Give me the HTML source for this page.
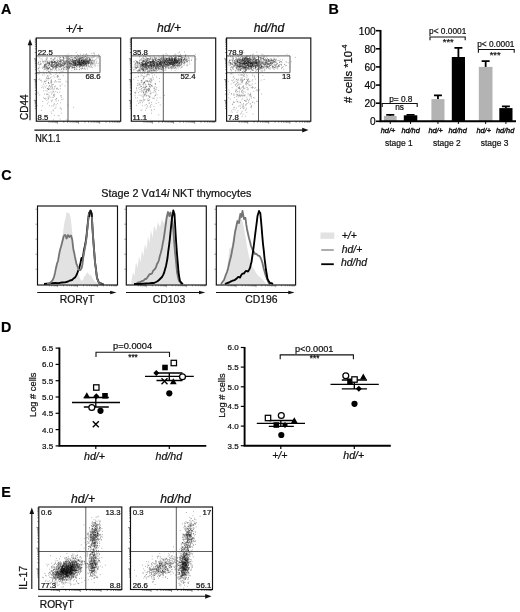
<!DOCTYPE html>
<html><head><meta charset="utf-8"><title>Figure</title>
<style>
html,body{margin:0;padding:0;background:#fff;}
body{width:520px;height:612px;overflow:hidden;font-family:'Liberation Sans', sans-serif;}
text{stroke:#111;stroke-width:0.22px;}
svg{display:block;font-family:'Liberation Sans',sans-serif;filter:grayscale(1);}
</style></head><body>
<svg width="520" height="612" viewBox="0 0 520 612">
<defs><filter id="bl" x="-5%" y="-5%" width="110%" height="110%"><feGaussianBlur stdDeviation="0.45"/></filter></defs>
<rect width="520" height="612" fill="#fff"/>
<text x="1.1" y="14" font-size="14.3" font-weight="bold" fill="#000">A</text><text x="328.4" y="13.9" font-size="14.3" font-weight="bold" fill="#000">B</text><text x="1.2" y="179.9" font-size="14.3" font-weight="bold" fill="#000">C</text><text x="1.1" y="331.8" font-size="14.3" font-weight="bold" fill="#000">D</text><text x="1.25" y="496.5" font-size="14.3" font-weight="bold" fill="#000">E</text><path d="M77.9 64.0h.8M77.8 61.6h.8M73.0 62.5h.8M87.4 62.6h.8M86.8 62.1h.8M82.3 62.5h.8M68.2 66.2h.8M83.2 63.3h.8M67.1 58.7h.8M73.2 61.7h.8M81.6 61.9h.8M82.9 60.0h.8M81.8 63.2h.8M75.5 67.8h.8M83.8 65.3h.8M74.9 60.7h.8M77.1 62.3h.8M84.0 62.5h.8M76.1 59.9h.8M76.3 66.3h.8M74.0 63.7h.8M81.9 57.6h.8M80.3 66.0h.8M65.4 63.1h.8M78.5 60.0h.8M82.9 61.7h.8M69.6 65.9h.8M84.5 64.5h.8M89.6 62.1h.8M79.9 58.5h.8M83.6 60.0h.8M75.9 59.0h.8M72.6 61.6h.8M87.7 55.4h.8M69.5 64.2h.8M89.7 62.7h.8M65.4 56.7h.8M81.7 59.9h.8M72.1 66.1h.8M87.2 61.8h.8M81.4 63.3h.8M90.8 62.7h.8M83.3 63.4h.8M69.1 67.3h.8M86.3 63.0h.8M65.6 62.2h.8M84.7 56.4h.8M78.6 65.4h.8M71.0 68.1h.8M83.3 61.4h.8M82.0 63.9h.8M80.7 65.5h.8M74.8 61.7h.8M86.7 61.5h.8M73.7 65.8h.8M89.5 59.8h.8M69.9 63.1h.8M78.4 61.6h.8M88.9 58.1h.8M87.8 57.6h.8M74.3 64.8h.8M87.6 63.8h.8M81.9 62.4h.8M80.8 63.8h.8M78.4 63.2h.8M83.5 61.8h.8M85.0 63.3h.8M93.6 61.5h.8M76.4 61.6h.8M79.7 65.0h.8M77.3 63.7h.8M91.4 53.4h.8M71.8 64.0h.8M82.4 62.6h.8M76.7 64.6h.8M81.3 60.6h.8M96.5 61.2h.8M75.6 62.5h.8M77.9 62.3h.8M60.4 63.2h.8M86.1 58.1h.8M79.4 65.1h.8M86.0 65.9h.8M67.6 62.7h.8M77.4 64.4h.8M86.1 53.6h.8M86.6 57.2h.8M83.7 57.4h.8M81.1 65.6h.8M78.5 63.0h.8M85.1 62.0h.8M79.4 66.8h.8M86.7 60.6h.8M98.2 56.7h.8M85.8 60.8h.8M80.7 64.2h.8M81.3 63.9h.8M68.4 59.3h.8M83.4 59.0h.8M71.8 58.9h.8M88.6 63.4h.8M89.4 58.3h.8M79.1 59.0h.8M85.4 66.2h.8M73.9 67.6h.8M86.3 60.9h.8M66.3 68.0h.8M78.6 60.6h.8M82.4 63.1h.8M89.5 58.1h.8M87.9 65.6h.8M89.5 60.5h.8M74.7 65.9h.8M80.3 62.6h.8M89.3 60.3h.8M63.4 63.1h.8M66.9 66.2h.8M81.5 60.3h.8M79.7 64.7h.8M80.5 66.1h.8M79.4 65.3h.8M90.4 65.7h.8M75.1 65.4h.8M66.1 60.8h.8M66.2 67.1h.8M70.9 63.3h.8M78.2 62.4h.8M75.5 63.5h.8M92.0 60.9h.8M83.5 64.7h.8M77.7 58.8h.8M76.0 65.9h.8M67.9 62.0h.8M86.8 63.7h.8M79.8 64.6h.8M80.2 58.8h.8M68.4 61.8h.8M85.7 59.9h.8M73.0 60.9h.8M68.8 63.3h.8M71.4 64.4h.8M63.2 65.3h.8M74.4 57.3h.8M84.4 60.9h.8M63.7 61.7h.8M81.4 60.7h.8M85.2 63.8h.8M84.2 62.7h.8M89.0 63.1h.8M81.9 55.9h.8M86.2 65.3h.8M77.3 61.2h.8M92.4 55.6h.8M83.6 68.9h.8M73.3 65.1h.8M92.6 60.3h.8M83.7 64.4h.8M73.2 62.8h.8M81.8 64.4h.8M79.2 61.8h.8M72.3 62.1h.8M85.7 61.8h.8M73.3 60.6h.8M98.4 63.3h.8M83.0 54.3h.8M84.0 63.2h.8M91.4 62.1h.8M79.2 63.9h.8M66.4 66.9h.8M81.5 60.0h.8M89.3 66.4h.8M69.5 61.6h.8M81.6 62.6h.8M76.4 59.8h.8M94.6 63.5h.8M70.7 59.4h.8M91.7 63.7h.8M92.4 63.1h.8M73.5 63.8h.8M64.2 62.0h.8M79.3 63.9h.8M74.4 62.6h.8M82.8 63.0h.8M84.0 62.4h.8M77.5 64.8h.8M79.6 59.9h.8M75.2 62.8h.8M78.8 62.8h.8M79.6 62.8h.8M78.1 58.8h.8M82.8 65.0h.8M82.5 61.4h.8M82.3 59.1h.8M66.3 64.1h.8M73.3 65.2h.8M71.0 55.7h.8M72.8 67.7h.8M76.4 58.7h.8M74.4 64.5h.8M83.0 62.4h.8M90.1 63.1h.8M79.6 64.0h.8M91.3 63.7h.8M86.2 58.3h.8M78.7 64.5h.8M77.8 65.6h.8M84.0 64.4h.8M78.9 69.8h.8M88.0 60.6h.8M81.0 69.7h.8M77.4 65.1h.8M86.3 61.5h.8M71.5 63.8h.8M82.4 65.2h.8M84.9 61.7h.8M85.6 63.1h.8M81.0 62.3h.8M78.1 64.5h.8M72.0 61.4h.8M79.0 58.1h.8M75.8 56.9h.8M75.0 64.5h.8M83.4 61.7h.8M77.4 58.4h.8M92.4 62.2h.8M86.8 58.8h.8M77.6 57.2h.8M85.3 64.3h.8M66.3 63.8h.8M83.3 56.7h.8M66.4 60.8h.8M74.6 58.8h.8M79.8 63.0h.8M84.2 63.8h.8M90.4 64.4h.8M70.2 62.0h.8M71.8 60.1h.8M78.9 62.4h.8M82.3 57.3h.8M70.9 63.3h.8M78.0 61.6h.8M78.8 60.2h.8M84.5 62.7h.8M78.7 60.4h.8M77.3 54.6h.8M72.7 63.2h.8M69.1 64.2h.8M80.0 58.2h.8M77.6 61.6h.8M82.9 63.7h.8M78.9 59.9h.8M78.5 62.2h.8M84.7 62.5h.8M74.0 59.0h.8M76.6 60.5h.8M71.7 62.9h.8M76.1 63.0h.8M83.0 60.7h.8M95.5 59.4h.8M87.2 61.7h.8M86.4 54.5h.8M74.4 63.7h.8M84.5 68.5h.8M82.2 65.7h.8M85.2 64.4h.8M83.0 61.4h.8M82.7 58.8h.8M87.3 58.4h.8M82.0 68.2h.8M78.0 62.5h.8M87.6 61.4h.8M74.0 63.7h.8M83.8 63.8h.8M74.8 68.0h.8M91.1 60.9h.8M81.2 60.8h.8M89.1 59.1h.8M84.0 60.3h.8M74.9 65.0h.8M88.8 61.1h.8M75.1 65.2h.8M79.3 63.2h.8M90.5 64.3h.8M76.7 69.3h.8M79.8 64.6h.8M75.0 62.7h.8M68.0 68.9h.8M88.6 57.6h.8M68.5 58.9h.8M87.5 60.0h.8M79.0 61.5h.8M78.3 59.3h.8M79.2 58.1h.8M79.1 63.2h.8M82.7 61.2h.8M73.3 63.5h.8M76.7 67.2h.8M84.8 61.3h.8M76.0 60.7h.8M72.9 62.1h.8M81.7 63.5h.8M84.2 67.9h.8M74.6 62.9h.8M98.3 54.5h.8M75.9 63.2h.8M80.7 63.3h.8M78.0 63.6h.8M80.1 64.5h.8M66.0 61.4h.8M79.1 59.3h.8M72.5 65.0h.8M75.2 64.7h.8M84.8 62.5h.8M83.0 61.6h.8M69.7 63.4h.8M82.5 60.4h.8M79.1 64.5h.8M73.6 64.9h.8M92.2 59.1h.8M80.5 61.7h.8M90.3 61.9h.8M85.5 59.5h.8M79.4 62.3h.8M67.7 68.0h.8M85.1 56.5h.8M84.6 61.3h.8M82.7 63.0h.8M69.0 63.0h.8M89.7 59.4h.8M71.9 59.3h.8M71.1 64.3h.8M91.4 62.1h.8M82.0 68.5h.8M75.7 60.8h.8M83.4 63.4h.8M72.0 59.8h.8M81.6 62.8h.8M70.3 62.8h.8M75.9 64.1h.8M78.7 62.2h.8M77.4 65.6h.8M89.0 60.1h.8M85.1 59.4h.8M80.3 64.4h.8M89.9 59.9h.8M79.1 62.9h.8M69.1 63.6h.8M74.9 63.9h.8M71.0 57.6h.8M79.9 63.0h.8M76.0 65.3h.8M77.4 60.8h.8M82.3 57.4h.8M74.8 62.8h.8M85.3 61.1h.8M81.4 60.2h.8M82.2 66.8h.8M75.6 69.7h.8M75.0 62.9h.8M81.1 65.1h.8M70.2 57.3h.8M84.0 64.1h.8M84.8 69.3h.8M81.0 62.9h.8M86.1 62.6h.8M90.6 57.3h.8M75.7 52.7h.8M85.0 60.5h.8M86.7 67.7h.8M79.4 61.6h.8M75.7 60.3h.8M75.3 64.7h.8M79.8 62.5h.8M78.6 65.1h.8M82.9 61.5h.8M84.1 61.3h.8M72.0 67.5h.8M82.4 59.1h.8M87.1 62.4h.8M69.2 68.3h.8M82.1 64.6h.8M80.8 61.7h.8M69.1 66.4h.8M79.6 61.4h.8M82.0 62.2h.8M84.1 60.7h.8M78.5 56.2h.8M76.8 64.6h.8M88.7 60.1h.8M79.2 67.0h.8M77.5 64.7h.8M91.2 61.0h.8M87.8 59.2h.8M80.9 61.9h.8M80.7 65.5h.8M95.9 58.3h.8M75.7 64.2h.8M72.3 64.6h.8M83.4 61.0h.8M82.6 57.4h.8M84.2 57.2h.8M74.5 61.3h.8M77.0 65.1h.8M79.9 61.1h.8M83.8 66.4h.8M79.7 63.3h.8M88.2 62.0h.8M71.5 70.6h.8M94.1 54.7h.8M79.4 63.5h.8M86.4 63.4h.8M77.2 59.5h.8M80.6 65.2h.8M71.6 60.3h.8M78.6 56.7h.8M77.5 61.3h.8M82.4 59.9h.8M73.2 61.9h.8M78.9 60.4h.8M79.8 64.4h.8M88.3 66.2h.8M73.9 61.8h.8M62.9 69.9h.8M74.5 62.8h.8M82.7 57.9h.8M82.7 61.8h.8M66.9 64.7h.8M87.1 55.9h.8M85.2 62.2h.8M83.0 63.2h.8M88.5 60.5h.8M85.4 60.4h.8M84.3 59.3h.8M79.4 67.4h.8M82.5 61.5h.8M71.3 61.0h.8M81.2 64.8h.8M82.6 63.4h.8M79.7 66.2h.8M76.6 61.1h.8M85.7 61.7h.8M77.4 60.9h.8M77.9 64.3h.8M81.5 58.5h.8M82.5 62.5h.8M72.8 65.4h.8M77.4 61.6h.8M85.5 65.4h.8M74.9 64.1h.8M74.2 69.7h.8M76.5 66.2h.8M75.3 65.2h.8M94.0 53.1h.8M76.7 64.1h.8M78.6 60.5h.8M94.5 60.7h.8M68.4 66.2h.8M67.9 67.1h.8M75.5 63.2h.8M88.3 61.6h.8M69.2 58.6h.8M88.0 63.4h.8M74.1 65.5h.8M83.2 63.7h.8M63.7 63.4h.8M86.0 63.6h.8M84.8 54.5h.8M80.8 63.6h.8M96.9 57.4h.8M77.2 62.7h.8M85.5 60.3h.8M87.2 59.1h.8M81.2 60.6h.8M80.4 60.2h.8M68.8 66.8h.8M81.4 60.4h.8M81.2 65.0h.8M72.7 62.8h.8M83.4 63.4h.8M76.4 56.5h.8M88.3 62.2h.8M79.5 61.5h.8M81.2 60.9h.8M72.1 61.0h.8M75.1 61.0h.8M71.7 65.1h.8M70.6 65.3h.8M72.6 64.2h.8M89.1 61.7h.8M74.4 63.1h.8M79.9 57.2h.8M75.3 63.3h.8M76.3 62.9h.8M84.9 63.9h.8M86.0 63.2h.8M77.5 62.5h.8M77.5 61.6h.8M77.6 57.5h.8M77.2 62.5h.8M72.7 63.1h.8M83.0 61.4h.8M93.0 53.0h.8M77.4 57.2h.8M87.2 69.1h.8M62.2 64.8h.8M83.0 61.0h.8M82.5 55.4h.8M85.6 62.6h.8M79.5 60.6h.8M83.8 60.4h.8M80.9 60.6h.8M63.9 64.1h.8M81.2 64.3h.8M73.4 63.0h.8M83.8 62.2h.8M88.8 67.0h.8M72.5 57.5h.8M86.0 66.0h.8M86.2 63.9h.8M74.9 60.8h.8M85.4 58.9h.8M66.5 61.0h.8M97.5 65.7h.8M74.5 60.8h.8M80.8 59.9h.8M88.6 61.0h.8M72.4 67.0h.8M75.5 63.4h.8M79.3 61.4h.8M81.5 60.0h.8M65.9 57.5h.8M70.4 61.2h.8M79.4 62.5h.8M83.4 62.2h.8M73.7 60.9h.8M64.7 63.6h.8M83.1 63.4h.8M78.6 61.9h.8M86.0 61.5h.8M84.8 63.3h.8M81.4 65.9h.8M75.4 61.8h.8M73.6 60.7h.8M90.9 66.0h.8M79.9 63.9h.8M88.0 63.6h.8M87.4 57.6h.8M75.2 64.1h.8M89.5 61.4h.8M73.4 62.0h.8M74.6 60.4h.8M89.7 59.2h.8M80.4 68.5h.8M87.9 62.3h.8M75.4 64.0h.8M91.0 62.7h.8M88.3 61.5h.8M83.0 61.3h.8M82.9 65.7h.8M69.5 63.3h.8M81.0 60.5h.8M77.6 64.8h.8M93.6 62.4h.8M81.2 57.6h.8M92.9 60.9h.8M78.9 59.1h.8M78.7 59.2h.8M80.2 63.6h.8M79.8 63.1h.8M74.1 67.1h.8M74.3 57.6h.8M77.9 60.3h.8M72.4 62.1h.8M81.1 58.6h.8M79.0 66.5h.8M84.2 61.3h.8M80.3 61.8h.8M79.4 64.4h.8M78.0 55.5h.8M79.0 59.8h.8M83.8 60.0h.8M81.3 68.4h.8M71.8 60.0h.8M68.8 56.6h.8M66.6 65.0h.8M74.4 57.5h.8M69.4 65.3h.8M74.0 61.9h.8M82.3 65.9h.8M93.4 63.6h.8M80.6 62.7h.8M92.5 64.9h.8M77.5 63.9h.8M81.5 62.2h.8M75.6 58.9h.8M75.2 58.3h.8M88.2 62.8h.8M71.6 67.3h.8M85.0 56.0h.8M92.6 63.1h.8M93.4 57.0h.8M83.3 63.1h.8M81.0 62.6h.8M86.3 57.1h.8M70.4 59.3h.8M75.4 61.0h.8M82.1 62.8h.8M79.5 60.3h.8M76.8 65.4h.8M84.8 61.9h.8M77.8 67.0h.8M75.6 64.7h.8M87.4 60.6h.8M84.8 58.4h.8M86.6 62.0h.8M68.7 65.6h.8M73.8 66.8h.8M74.7 62.4h.8M81.3 61.1h.8M81.1 60.5h.8M84.2 61.7h.8M80.0 54.2h.8M87.6 61.4h.8M67.1 64.1h.8M83.1 65.0h.8M72.5 67.7h.8M79.2 69.3h.8M78.7 64.4h.8M76.6 59.4h.8M87.4 64.0h.8M90.5 63.5h.8M74.9 58.0h.8M74.7 60.9h.8M74.0 64.7h.8M81.7 61.2h.8M80.6 61.7h.8M81.2 64.3h.8M85.9 59.5h.8M69.5 67.7h.8M80.7 65.4h.8M68.0 62.8h.8M79.2 58.1h.8M76.2 64.8h.8M87.6 66.0h.8M73.0 59.0h.8M83.4 64.6h.8M80.4 58.4h.8M85.2 63.9h.8M83.2 60.4h.8M81.9 64.3h.8M75.0 57.5h.8M82.0 63.4h.8M79.9 64.8h.8M75.4 62.6h.8M77.6 64.2h.8M90.5 60.2h.8M94.3 64.9h.8M85.2 63.3h.8M91.7 60.3h.8M78.3 59.3h.8M83.3 65.8h.8M83.3 63.1h.8M78.2 63.0h.8M70.0 66.5h.8M76.3 59.5h.8M74.0 60.6h.8M85.8 64.6h.8M70.4 66.1h.8M85.5 59.9h.8M68.9 61.4h.8M75.2 63.8h.8M76.3 56.8h.8M80.6 57.7h.8M85.4 58.1h.8M74.4 60.4h.8M76.2 66.5h.8M85.6 63.3h.8M81.2 57.6h.8M75.7 61.2h.8M72.9 64.6h.8M74.1 60.9h.8M71.5 57.3h.8M84.1 65.6h.8M80.4 59.3h.8M60.8 65.1h.8M88.1 62.1h.8M86.5 65.8h.8M87.2 60.1h.8M87.1 63.6h.8M68.7 62.4h.8M69.6 63.2h.8M83.1 58.7h.8M65.7 67.8h.8M82.6 66.2h.8M70.7 66.5h.8M94.6 66.3h.8M78.1 63.3h.8M78.8 65.3h.8M86.7 61.7h.8M70.3 65.6h.8M51.7 66.7h.8M58.9 69.6h.8M66.7 62.0h.8M59.7 70.1h.8M51.0 66.1h.8M67.6 67.8h.8M60.6 59.5h.8M44.1 66.0h.8M60.3 72.7h.8M48.1 68.7h.8M62.9 58.1h.8M48.3 65.4h.8M51.3 64.1h.8M60.3 61.2h.8M60.3 61.8h.8M51.0 66.5h.8M50.6 65.7h.8M71.2 63.3h.8M54.8 66.9h.8M52.8 68.2h.8M44.0 67.2h.8M51.0 61.9h.8M72.6 60.2h.8M72.8 65.4h.8M69.5 60.0h.8M67.7 68.4h.8M54.9 63.9h.8M79.3 63.3h.8M51.8 62.4h.8M60.3 65.1h.8M58.1 70.0h.8M53.0 66.1h.8M69.6 59.9h.8M66.3 69.8h.8M42.9 61.5h.8M45.7 58.7h.8M59.9 57.7h.8M61.1 68.9h.8M40.6 64.3h.8M38.0 68.2h.8M48.9 63.9h.8M56.6 66.1h.8M52.7 64.6h.8M50.8 65.1h.8M44.9 65.3h.8M37.6 63.9h.8M74.2 63.3h.8M44.1 66.0h.8M46.4 59.3h.8M49.2 67.3h.8M59.6 63.7h.8M47.0 61.3h.8M68.8 64.2h.8M46.5 57.8h.8M43.6 73.6h.8M45.1 64.8h.8M58.0 63.6h.8M53.0 59.8h.8M46.4 70.7h.8M49.0 67.7h.8M39.9 64.5h.8M58.7 67.6h.8M45.5 67.1h.8M59.5 61.5h.8M60.3 60.9h.8M48.5 64.8h.8M46.2 60.0h.8M52.2 67.2h.8M52.5 68.9h.8M44.7 60.6h.8M70.8 64.6h.8M64.8 60.9h.8M63.7 64.6h.8M62.2 64.0h.8M67.3 61.3h.8M46.5 59.9h.8M66.8 61.0h.8M45.9 61.8h.8M51.5 60.3h.8M53.1 62.4h.8M50.5 61.4h.8M56.2 62.7h.8M57.1 65.1h.8M58.7 56.6h.8M50.7 62.0h.8M63.0 58.4h.8M49.2 63.8h.8M53.0 67.9h.8M52.0 67.9h.8M41.7 59.1h.8M67.7 65.0h.8M60.7 64.4h.8M60.3 59.9h.8M64.9 61.9h.8M65.4 63.9h.8M66.7 63.1h.8M52.3 65.4h.8M51.8 62.7h.8M57.0 64.7h.8M70.4 63.4h.8M74.2 69.2h.8M72.5 66.8h.8M57.3 64.7h.8M54.5 61.9h.8M55.2 62.2h.8M71.7 65.0h.8M51.3 58.1h.8M55.4 62.9h.8M45.4 61.2h.8M56.0 73.1h.8M55.7 63.8h.8M69.7 63.8h.8M57.5 62.9h.8M50.6 69.8h.8M65.9 69.5h.8M52.7 64.6h.8M47.9 68.2h.8M42.9 67.1h.8M66.7 68.4h.8M47.4 68.6h.8M49.1 62.2h.8M43.7 69.1h.8M71.5 61.2h.8M48.7 63.7h.8M80.0 66.0h.8M50.4 58.6h.8M49.9 68.8h.8M73.6 62.2h.8M49.3 63.0h.8M38.3 68.6h.8M46.0 68.6h.8M39.5 61.1h.8M58.6 61.5h.8M63.4 63.8h.8M45.0 67.2h.8M63.5 57.3h.8M73.4 64.8h.8M62.8 57.5h.8M49.1 63.6h.8M65.9 58.6h.8M47.1 58.0h.8M53.8 65.6h.8M39.9 63.4h.8M61.2 69.3h.8M62.2 62.8h.8M44.6 61.9h.8M49.7 65.2h.8M55.9 70.0h.8M58.5 60.5h.8M70.9 66.5h.8M56.8 61.8h.8M38.0 62.1h.8M64.4 61.0h.8M43.5 65.8h.8M58.5 66.2h.8M62.5 68.6h.8M48.3 68.2h.8M46.8 67.3h.8M57.8 65.0h.8M65.2 63.6h.8M66.7 66.5h.8M57.1 62.3h.8M48.7 63.0h.8M54.1 64.3h.8M84.4 64.5h.8M63.1 60.9h.8M49.2 63.7h.8M57.6 60.7h.8M71.1 61.3h.8M65.7 55.7h.8M56.0 65.2h.8M58.0 66.2h.8M58.7 64.7h.8M37.9 63.1h.8M58.9 63.4h.8M48.1 62.9h.8M73.9 68.9h.8M55.8 68.7h.8M40.5 58.8h.8M51.2 61.7h.8M50.7 65.3h.8M84.5 60.1h.8M56.5 65.2h.8M55.9 67.5h.8M72.5 58.9h.8M57.5 63.3h.8M59.0 58.9h.8M38.8 57.6h.8M61.0 64.6h.8M56.1 56.2h.8M52.3 62.0h.8M42.4 62.1h.8M62.7 65.7h.8M55.9 66.1h.8M50.3 64.9h.8M56.5 66.2h.8M55.3 63.9h.8M54.6 62.2h.8M77.3 64.6h.8M60.6 71.8h.8M68.9 58.1h.8M62.8 66.7h.8M74.2 67.5h.8M63.0 59.8h.8M47.8 65.8h.8M60.5 60.5h.8M52.3 63.2h.8M56.7 65.4h.8M53.0 60.3h.8M68.2 68.9h.8M55.2 67.8h.8M60.4 66.2h.8M60.4 61.4h.8M61.7 67.3h.8M48.0 71.6h.8M76.2 69.1h.8M75.0 65.5h.8M52.7 62.5h.8M48.3 65.2h.8M55.8 66.6h.8M37.4 73.5h.8M77.6 62.7h.8M62.5 65.5h.8M58.5 63.4h.8M54.6 61.6h.8M57.7 64.1h.8M58.8 61.2h.8M56.4 64.4h.8M61.5 60.3h.8M60.2 67.4h.8M61.6 62.7h.8M51.3 63.8h.8M63.3 69.1h.8M54.3 62.2h.8M59.6 64.7h.8M47.2 62.4h.8M55.2 66.6h.8M44.5 61.6h.8M60.4 59.8h.8M57.1 65.4h.8M54.7 60.9h.8M55.4 63.2h.8M59.0 61.2h.8M65.9 57.9h.8M54.3 64.4h.8M65.0 61.6h.8M61.0 62.0h.8M63.4 69.7h.8M52.3 66.1h.8M47.4 68.2h.8M67.5 63.6h.8M45.3 66.4h.8M67.1 67.2h.8M63.3 57.6h.8M49.9 69.6h.8M44.6 68.9h.8M74.0 65.6h.8M66.5 62.4h.8M44.4 64.8h.8M54.1 64.3h.8M62.6 63.3h.8M57.9 65.6h.8M56.4 70.6h.8M60.2 64.3h.8M53.9 62.3h.8M68.8 63.9h.8M45.6 63.1h.8M54.6 62.9h.8M66.0 59.6h.8M60.7 64.5h.8M44.8 65.2h.8M55.2 66.1h.8M51.8 65.6h.8M40.0 61.7h.8M63.7 67.3h.8M55.7 62.3h.8M65.8 56.5h.8M48.6 67.1h.8M61.9 60.4h.8M38.5 70.5h.8M57.2 61.2h.8M56.7 67.3h.8M62.5 56.8h.8M62.9 57.8h.8M66.9 64.9h.8M77.2 60.7h.8M56.3 67.8h.8M49.8 62.3h.8M52.5 64.3h.8M45.9 66.7h.8M61.2 64.2h.8M72.0 62.1h.8M68.3 61.6h.8M62.7 57.2h.8M57.8 63.6h.8M51.2 62.6h.8M52.5 62.1h.8M50.7 62.9h.8M45.9 64.5h.8M63.4 62.9h.8M51.7 69.2h.8M65.5 66.8h.8M66.9 62.4h.8M55.0 68.2h.8M50.7 64.3h.8M59.7 65.3h.8M53.6 67.8h.8M54.5 66.9h.8M66.3 65.8h.8M62.7 59.9h.8M43.4 63.1h.8M60.9 69.1h.8M44.5 66.2h.8M47.7 62.4h.8M53.5 66.8h.8M58.3 68.2h.8M46.9 68.0h.8M64.8 63.9h.8M60.4 62.1h.8M45.6 63.6h.8M50.6 74.5h.8M51.8 70.2h.8M58.0 65.2h.8M62.9 61.2h.8M64.8 65.0h.8M41.8 67.3h.8M61.3 65.5h.8M70.9 61.8h.8M61.0 66.5h.8M47.8 69.0h.8M41.9 60.9h.8M60.7 60.3h.8M54.5 58.8h.8M56.4 60.4h.8M58.9 58.9h.8M60.2 63.1h.8M56.6 64.0h.8M56.9 59.7h.8M47.0 63.4h.8M59.6 57.3h.8M48.6 62.7h.8M46.1 66.1h.8M54.5 61.6h.8M46.9 67.7h.8M49.9 66.7h.8M59.8 57.6h.8M45.7 65.0h.8M59.4 66.7h.8M63.8 67.3h.8M52.4 63.8h.8M63.3 62.3h.8M65.6 58.2h.8M62.2 63.3h.8M37.6 68.9h.8M59.0 64.2h.8M45.7 63.4h.8M70.1 60.5h.8M44.6 64.6h.8M52.1 61.5h.8M48.3 68.4h.8M42.8 71.9h.8M50.6 61.0h.8M63.6 65.7h.8M46.3 67.5h.8M38.3 62.4h.8M66.6 62.7h.8M43.8 66.9h.8M64.7 63.6h.8M38.8 64.3h.8M60.1 66.6h.8M73.5 62.2h.8M51.4 64.5h.8M67.2 60.3h.8M67.7 54.1h.8M63.4 61.5h.8M60.5 66.3h.8M44.8 64.8h.8M58.4 66.1h.8M47.0 61.6h.8M38.4 74.2h.8M54.1 63.7h.8M42.1 68.4h.8M51.3 69.5h.8M64.1 63.8h.8M62.6 60.0h.8M52.8 62.6h.8M44.0 65.2h.8M55.0 69.3h.8M47.2 63.3h.8M60.1 65.4h.8M56.2 62.7h.8M60.8 65.2h.8M38.5 64.6h.8M42.7 61.2h.8M57.4 64.4h.8M56.9 61.3h.8M53.9 61.3h.8M59.8 66.4h.8M72.9 67.4h.8M48.3 63.3h.8M47.2 66.0h.8M74.9 65.4h.8M43.9 66.9h.8M56.1 65.3h.8M72.7 60.3h.8M48.4 71.5h.8M59.1 61.4h.8M56.7 67.6h.8M54.5 62.0h.8M49.4 71.2h.8M39.3 66.1h.8M56.4 66.4h.8M52.3 66.3h.8M63.7 63.3h.8M51.6 64.0h.8M46.8 64.2h.8M53.2 65.2h.8M69.0 67.8h.8M51.9 66.6h.8M59.0 66.7h.8M56.3 65.2h.8M51.4 61.9h.8M64.6 68.1h.8M62.4 65.3h.8M58.4 62.6h.8M39.3 67.7h.8M57.8 62.3h.8M47.2 69.3h.8M39.3 71.5h.8M62.6 71.9h.8M49.2 64.7h.8M51.2 65.2h.8M53.8 61.9h.8M66.0 60.9h.8M51.3 66.5h.8M50.8 63.2h.8M59.3 62.8h.8M44.2 64.8h.8M54.3 70.2h.8M45.8 68.3h.8M48.5 63.6h.8M53.0 65.4h.8M64.6 69.7h.8M50.3 69.2h.8M65.6 66.4h.8M49.0 67.9h.8M55.1 65.6h.8M53.6 66.7h.8M66.8 67.4h.8M54.3 67.8h.8M69.5 60.2h.8M69.6 58.8h.8M61.3 66.0h.8M70.1 64.3h.8M51.3 61.9h.8M44.3 67.7h.8M53.6 62.0h.8M60.9 61.4h.8M51.8 63.0h.8M72.0 68.2h.8M54.1 59.1h.8M58.6 64.4h.8M59.4 66.0h.8M53.2 67.6h.8M64.0 64.5h.8M52.0 62.9h.8M62.3 60.1h.8M54.3 61.9h.8M42.9 67.3h.8M55.8 64.4h.8M63.9 58.7h.8M55.4 65.3h.8M63.6 60.1h.8M62.8 64.6h.8M69.1 67.3h.8M61.7 71.2h.8M55.9 62.9h.8M52.5 61.3h.8M55.3 57.9h.8M55.3 65.8h.8M65.3 62.5h.8M69.0 61.2h.8M54.3 58.0h.8M48.6 62.1h.8M69.9 65.1h.8M45.9 66.8h.8M60.4 63.2h.8M56.1 63.3h.8M50.6 58.8h.8M55.5 68.6h.8M69.2 62.5h.8M49.0 64.1h.8M64.4 64.9h.8M50.7 65.9h.8M54.2 66.1h.8M51.9 59.7h.8M56.7 66.8h.8M45.7 64.7h.8M64.0 62.5h.8M50.5 71.4h.8M63.9 67.2h.8M47.6 70.3h.8M40.6 63.7h.8M63.1 68.2h.8M47.3 62.7h.8M57.4 57.8h.8M62.0 65.7h.8M52.0 66.4h.8M91.8 63.5h.8M90.5 67.4h.8M85.7 63.0h.8M85.5 65.8h.8M86.0 64.0h.8M88.7 62.7h.8M96.3 62.2h.8M94.9 65.1h.8M94.4 62.0h.8M92.5 64.9h.8M85.0 63.4h.8M87.4 62.4h.8M94.3 60.2h.8M79.9 56.9h.8M85.8 60.4h.8M88.1 64.3h.8M96.5 63.5h.8M90.2 60.2h.8M90.8 66.8h.8M94.5 56.3h.8M92.3 67.5h.8M92.0 57.7h.8M86.5 64.4h.8M90.0 59.9h.8M83.7 65.6h.8M81.6 67.1h.8M88.1 63.5h.8M81.6 60.6h.8M91.3 57.8h.8M98.0 58.0h.8M82.1 62.6h.8M90.3 64.8h.8M86.2 61.8h.8M86.9 60.7h.8M75.6 65.6h.8M89.2 63.0h.8M85.0 63.3h.8M87.9 62.3h.8M93.3 57.0h.8M89.2 59.1h.8M48.4 98.7h.8M43.2 84.1h.8M46.5 93.7h.8M43.9 69.6h.8M54.0 81.8h.8M48.4 94.9h.8M44.5 81.6h.8M51.5 88.8h.8M47.0 94.4h.8M65.6 81.3h.8M63.1 65.8h.8M60.0 81.9h.8M51.4 81.9h.8M46.2 73.3h.8M47.8 96.8h.8M58.2 81.8h.8M47.0 78.6h.8M42.4 101.5h.8M55.0 86.1h.8M47.2 75.7h.8M59.3 92.1h.8M44.1 94.0h.8M43.1 90.9h.8M44.0 81.2h.8M53.8 88.9h.8M57.3 77.4h.8M61.1 97.3h.8M50.4 89.2h.8M45.3 83.6h.8M41.6 85.8h.8M51.8 97.3h.8M56.9 92.4h.8M48.1 83.0h.8M48.2 87.0h.8M37.5 92.0h.8M40.0 80.3h.8M50.6 80.3h.8M61.7 84.1h.8M61.1 95.7h.8M47.2 88.7h.8M59.2 82.0h.8M51.1 79.9h.8M50.9 81.8h.8M51.1 94.1h.8M59.9 86.2h.8M51.9 92.8h.8M48.6 75.3h.8M58.0 76.5h.8M56.8 76.2h.8M62.8 75.5h.8M56.2 98.7h.8M44.0 98.5h.8M45.0 68.9h.8M55.4 91.4h.8M49.1 62.0h.8M50.1 82.2h.8M48.0 82.4h.8M38.5 79.8h.8M62.6 99.1h.8M48.1 78.5h.8M53.2 94.7h.8M55.4 74.3h.8M51.6 86.3h.8M60.2 95.9h.8M54.0 96.1h.8M47.8 99.0h.8M47.6 88.6h.8M56.7 76.7h.8M45.8 69.0h.8M51.6 84.5h.8M48.3 89.5h.8M51.1 82.6h.8M55.8 101.0h.8M47.5 76.4h.8M46.4 85.8h.8M54.4 77.1h.8M57.2 75.7h.8M56.1 88.9h.8M53.6 104.7h.8M48.7 83.5h.8M53.7 92.9h.8M41.5 87.5h.8M45.5 90.7h.8M59.7 85.5h.8M49.8 86.7h.8M54.3 86.5h.8M47.8 78.3h.8M49.3 96.1h.8M49.8 97.3h.8M52.3 84.9h.8M39.3 78.9h.8M58.9 73.2h.8M43.8 75.0h.8M46.8 90.9h.8M54.5 66.5h.8M60.3 79.6h.8M46.5 100.2h.8M50.0 73.7h.8M46.2 78.4h.8M43.7 82.0h.8M56.4 88.2h.8M41.2 110.4h.8M43.8 86.1h.8M50.7 91.9h.8M48.3 89.2h.8M64.7 85.9h.8M43.2 88.0h.8M45.1 81.6h.8M51.8 88.1h.8M48.6 92.7h.8M49.2 73.1h.8M56.4 81.7h.8M58.7 79.0h.8M54.3 87.9h.8M43.0 97.8h.8M37.8 93.3h.8M57.8 89.5h.8M55.0 80.5h.8M50.4 87.1h.8M53.3 91.4h.8M49.1 78.6h.8M46.7 88.7h.8M39.3 73.6h.8M47.7 80.0h.8M48.7 60.7h.8M48.2 82.7h.8M55.7 66.9h.8M48.4 89.3h.8M53.8 95.9h.8M57.6 75.4h.8M54.8 81.9h.8M45.1 99.0h.8M46.3 77.2h.8M47.8 77.2h.8M57.3 88.5h.8M59.9 88.8h.8M46.4 94.6h.8M46.1 80.8h.8M49.4 85.4h.8M58.5 79.5h.8M52.9 84.7h.8M42.0 75.0h.8M49.0 88.7h.8M52.7 89.4h.8M50.8 80.9h.8M53.4 75.8h.8M41.4 82.0h.8M40.9 80.3h.8M45.5 79.9h.8M50.2 77.7h.8M47.6 69.3h.8M51.5 76.9h.8M53.2 59.1h.8M45.1 87.2h.8M51.1 85.9h.8M41.9 106.0h.8M53.0 95.6h.8M57.0 103.6h.8M52.1 100.1h.8M55.7 104.8h.8M59.7 107.9h.8M47.8 102.1h.8M58.2 100.8h.8M54.6 108.5h.8M50.8 83.8h.8M52.9 105.9h.8M52.9 97.4h.8M60.2 102.8h.8M47.8 97.8h.8M54.4 94.5h.8M60.9 113.2h.8M61.2 109.2h.8M40.6 114.4h.8M60.4 108.3h.8M38.7 114.8h.8M61.3 99.7h.8M52.9 110.8h.8M51.4 113.6h.8M52.6 110.0h.8M52.6 91.1h.8M53.9 115.4h.8M59.7 119.0h.8M55.8 98.8h.8M52.1 87.3h.8M50.7 111.9h.8M37.3 105.7h.8M57.6 115.6h.8M45.7 98.3h.8M39.3 95.1h.8M44.2 116.0h.8M54.9 99.7h.8M66.9 82.0h.8M51.5 105.9h.8M66.5 119.7h.8M67.4 105.2h.8M58.7 115.9h.8M55.5 107.1h.8M50.8 100.4h.8M49.0 85.8h.8M53.8 103.7h.8M53.2 119.9h.8M51.3 101.7h.8M46.9 103.8h.8M49.0 105.8h.8M73.3 107.4h.8" stroke="#111" stroke-opacity="0.34" stroke-width="1.0" fill="none" filter="url(#bl)"/><path d="M36.3 55.9H100V72.7H36.3M68 55.9V121.2" fill="none" stroke="#5c5c5c" stroke-width="1"/><path d="M49.0 121.2v1.5M36.3 108.7h-1.5M51.0 121.2v1.5M36.3 106.7h-1.5M52.7 121.2v1.5M36.3 105.0h-1.5M54.1 121.2v1.5M36.3 103.6h-1.5M55.4 121.2v1.5M36.3 102.4h-1.5M56.4 121.2v1.5M36.3 101.4h-1.5M57.4 121.2v2.4M36.3 100.4h-2.4M63.8 121.2v1.5M36.3 94.1h-1.5M67.5 121.2v1.5M36.3 90.5h-1.5M70.1 121.2v1.5M36.3 87.9h-1.5M72.1 121.2v1.5M36.3 85.9h-1.5M73.8 121.2v1.5M36.3 84.2h-1.5M75.2 121.2v1.5M36.3 82.8h-1.5M76.5 121.2v1.5M36.3 81.6h-1.5M77.5 121.2v1.5M36.3 80.6h-1.5M78.5 121.2v2.4M36.3 79.6h-2.4M84.9 121.2v1.5M36.3 73.3h-1.5M88.6 121.2v1.5M36.3 69.7h-1.5M91.2 121.2v1.5M36.3 67.1h-1.5M93.2 121.2v1.5M36.3 65.1h-1.5M94.9 121.2v1.5M36.3 63.4h-1.5M96.3 121.2v1.5M36.3 62.0h-1.5M97.6 121.2v1.5M36.3 60.8h-1.5M98.6 121.2v1.5M36.3 59.8h-1.5M99.6 121.2v2.4M36.3 58.8h-2.4M106.0 121.2v1.5M36.3 52.5h-1.5M109.7 121.2v1.5M36.3 48.9h-1.5M112.3 121.2v1.5M36.3 46.3h-1.5M114.3 121.2v1.5M36.3 44.3h-1.5M116.0 121.2v1.5M36.3 42.6h-1.5M117.4 121.2v1.5M36.3 41.2h-1.5M118.7 121.2v1.5M36.3 40.0h-1.5M119.7 121.2v1.5M36.3 39.0h-1.5" stroke="#111" stroke-width="0.6" fill="none" stroke-opacity="0.85"/><rect x="36.3" y="38" width="84.4" height="83.2" fill="none" stroke="#111" stroke-width="1.15"/><text x="74.5" y="32.5" font-size="12.2" text-anchor="middle" font-style="italic" fill="#111">+/+</text><text x="37.699999999999996" y="55" font-size="7.8" fill="#111">22.5</text><text x="100.6" y="79.4" font-size="7.8" text-anchor="end" fill="#111">68.6</text><text x="37.599999999999994" y="119.5" font-size="7.8" fill="#111">8.5</text><path d="M179.0 63.3h.8M177.8 63.5h.8M177.7 65.2h.8M180.3 64.8h.8M168.1 62.3h.8M166.7 65.3h.8M178.3 59.7h.8M177.5 68.9h.8M181.2 57.4h.8M171.5 63.7h.8M171.9 63.0h.8M181.2 61.6h.8M163.8 64.9h.8M171.3 62.2h.8M167.1 58.3h.8M162.2 62.0h.8M162.8 54.9h.8M180.5 57.3h.8M166.6 64.0h.8M153.8 68.0h.8M166.3 64.4h.8M168.4 63.1h.8M172.8 61.7h.8M157.3 59.3h.8M172.2 65.9h.8M168.0 63.9h.8M173.4 63.0h.8M179.1 56.5h.8M174.1 61.0h.8M169.3 59.6h.8M165.6 59.6h.8M164.4 70.1h.8M185.2 60.2h.8M177.4 58.3h.8M149.8 59.2h.8M173.6 65.8h.8M171.3 58.9h.8M169.8 59.1h.8M161.1 62.5h.8M168.6 59.8h.8M164.8 59.9h.8M174.3 65.6h.8M171.2 68.5h.8M159.6 64.1h.8M163.0 62.4h.8M173.0 63.3h.8M180.5 59.1h.8M162.3 62.4h.8M174.0 59.5h.8M179.5 65.8h.8M161.1 64.2h.8M179.2 55.3h.8M173.5 61.0h.8M161.5 67.0h.8M173.5 60.2h.8M175.7 63.2h.8M178.2 62.8h.8M174.7 58.0h.8M168.8 62.6h.8M151.3 70.6h.8M168.7 59.1h.8M158.0 64.3h.8M172.0 60.1h.8M168.5 59.6h.8M166.2 62.2h.8M167.3 64.4h.8M170.9 62.3h.8M175.6 65.1h.8M176.7 61.9h.8M170.4 59.6h.8M169.6 64.1h.8M173.6 60.5h.8M161.1 58.6h.8M174.9 64.5h.8M174.4 57.5h.8M170.4 62.6h.8M165.0 63.7h.8M170.2 59.6h.8M162.7 65.3h.8M174.4 58.9h.8M164.5 65.3h.8M176.5 60.4h.8M184.2 59.4h.8M164.2 66.0h.8M170.7 63.0h.8M171.9 58.9h.8M162.7 62.4h.8M182.5 57.6h.8M182.6 61.1h.8M163.5 63.6h.8M176.1 58.7h.8M155.7 64.9h.8M163.6 64.1h.8M157.2 63.2h.8M165.2 58.3h.8M170.2 62.5h.8M167.3 58.9h.8M173.0 56.5h.8M176.3 62.7h.8M185.3 62.8h.8M174.8 62.2h.8M171.7 57.9h.8M183.5 61.9h.8M169.4 58.8h.8M183.6 61.9h.8M163.1 64.9h.8M186.6 59.9h.8M174.9 60.2h.8M167.5 65.5h.8M195.8 59.2h.8M171.3 64.2h.8M169.9 64.2h.8M178.0 58.1h.8M163.7 62.6h.8M178.5 61.8h.8M181.1 56.6h.8M175.6 59.5h.8M172.9 62.6h.8M164.4 62.1h.8M163.1 63.7h.8M165.3 61.2h.8M173.5 59.7h.8M180.6 58.9h.8M178.6 61.8h.8M164.0 62.1h.8M165.4 61.5h.8M170.6 67.3h.8M169.3 66.7h.8M175.0 57.6h.8M154.4 65.9h.8M156.9 65.8h.8M180.1 62.0h.8M170.3 61.3h.8M173.9 60.7h.8M167.8 61.2h.8M180.8 58.9h.8M174.5 58.1h.8M166.0 58.5h.8M170.7 64.0h.8M174.2 60.1h.8M176.6 60.2h.8M175.0 62.2h.8M175.3 54.1h.8M162.3 65.3h.8M172.0 68.4h.8M170.0 60.4h.8M183.7 62.0h.8M186.8 61.5h.8M170.7 64.1h.8M165.8 61.3h.8M167.7 61.7h.8M177.8 59.7h.8M174.3 60.1h.8M177.8 53.0h.8M170.5 62.5h.8M164.1 65.7h.8M174.1 65.3h.8M179.6 62.7h.8M170.5 58.8h.8M170.1 60.7h.8M173.8 60.2h.8M194.9 54.3h.8M180.8 59.3h.8M170.5 64.7h.8M171.6 58.3h.8M175.1 60.8h.8M156.3 64.3h.8M163.6 60.7h.8M175.8 62.2h.8M170.5 68.3h.8M175.0 59.6h.8M173.8 61.2h.8M154.5 59.3h.8M162.1 69.0h.8M170.5 61.2h.8M168.0 65.2h.8M172.8 66.7h.8M178.6 65.8h.8M171.2 63.0h.8M168.6 61.7h.8M158.5 61.8h.8M164.5 60.8h.8M181.4 61.4h.8M181.7 63.1h.8M179.4 63.8h.8M167.6 64.7h.8M169.3 60.6h.8M181.9 66.9h.8M165.1 67.7h.8M178.1 58.6h.8M174.2 62.6h.8M174.7 60.4h.8M162.2 63.1h.8M178.9 63.2h.8M177.4 64.3h.8M164.4 62.6h.8M175.0 64.3h.8M173.4 63.1h.8M173.8 67.7h.8M155.3 63.8h.8M191.0 60.2h.8M158.0 63.9h.8M160.8 61.2h.8M174.3 66.5h.8M175.8 63.3h.8M179.9 61.4h.8M165.4 62.3h.8M174.5 60.7h.8M166.8 61.4h.8M160.2 60.3h.8M171.2 60.9h.8M172.8 65.8h.8M174.3 61.4h.8M162.6 59.8h.8M174.6 58.9h.8M174.9 58.3h.8M173.0 61.5h.8M179.5 59.7h.8M169.2 62.9h.8M173.0 66.6h.8M169.8 60.5h.8M169.7 63.5h.8M174.0 63.6h.8M162.3 70.2h.8M186.0 60.0h.8M162.8 63.4h.8M174.4 55.0h.8M171.6 57.6h.8M176.0 65.3h.8M179.4 56.5h.8M182.9 63.1h.8M169.4 63.6h.8M183.5 59.4h.8M171.7 60.2h.8M180.1 54.5h.8M182.5 57.7h.8M178.5 56.3h.8M164.6 61.0h.8M177.8 56.4h.8M176.4 59.4h.8M181.4 59.7h.8M175.7 60.9h.8M185.6 59.1h.8M172.5 67.5h.8M172.8 63.7h.8M166.4 63.1h.8M154.7 64.2h.8M166.5 58.1h.8M161.6 66.4h.8M174.7 57.1h.8M185.6 58.1h.8M169.3 62.9h.8M162.7 58.2h.8M166.7 65.9h.8M178.7 56.4h.8M181.2 60.8h.8M175.8 61.5h.8M174.8 58.5h.8M164.8 60.6h.8M169.4 63.9h.8M163.3 67.5h.8M167.0 60.7h.8M177.5 62.4h.8M169.0 59.1h.8M163.8 58.2h.8M181.1 63.8h.8M186.5 61.5h.8M174.8 63.7h.8M179.2 60.2h.8M175.4 67.6h.8M158.6 59.4h.8M164.9 64.9h.8M181.0 59.7h.8M177.1 61.0h.8M174.1 60.0h.8M171.8 61.8h.8M181.4 67.1h.8M158.3 65.0h.8M172.3 64.6h.8M180.4 63.0h.8M177.8 58.3h.8M159.6 68.2h.8M180.9 57.9h.8M182.1 62.5h.8M153.6 66.7h.8M164.9 66.1h.8M166.5 60.3h.8M160.1 62.6h.8M179.5 58.9h.8M158.5 69.7h.8M186.4 62.0h.8M167.5 58.8h.8M159.7 64.9h.8M181.6 57.5h.8M171.9 61.0h.8M170.2 63.5h.8M187.8 58.0h.8M178.9 64.1h.8M169.8 61.6h.8M162.1 66.2h.8M167.7 60.4h.8M172.2 59.3h.8M163.9 61.9h.8M183.3 59.8h.8M175.5 57.1h.8M157.7 68.8h.8M168.4 57.8h.8M171.4 63.6h.8M158.5 60.9h.8M173.7 58.9h.8M178.4 63.8h.8M175.2 60.2h.8M171.4 60.0h.8M171.1 62.8h.8M170.0 64.9h.8M191.7 57.8h.8M174.9 63.8h.8M176.9 60.5h.8M168.7 65.1h.8M177.0 62.7h.8M166.1 64.4h.8M178.0 60.5h.8M177.7 67.4h.8M157.8 65.3h.8M162.5 59.0h.8M170.4 63.6h.8M172.0 58.4h.8M160.8 61.6h.8M171.8 59.4h.8M161.1 68.3h.8M165.5 62.1h.8M167.6 60.6h.8M172.2 60.9h.8M176.3 57.8h.8M161.3 68.8h.8M171.7 64.1h.8M181.3 62.3h.8M171.7 57.3h.8M160.0 66.1h.8M177.4 62.8h.8M158.5 57.2h.8M163.5 59.4h.8M172.9 58.7h.8M184.0 58.5h.8M168.0 64.8h.8M174.2 58.9h.8M179.0 66.6h.8M162.5 62.2h.8M163.0 57.2h.8M177.1 63.2h.8M179.7 62.1h.8M156.5 63.6h.8M166.4 59.0h.8M163.7 65.1h.8M170.4 67.8h.8M175.0 55.8h.8M179.3 64.6h.8M171.8 58.3h.8M185.2 56.3h.8M170.7 56.4h.8M161.7 58.1h.8M180.8 64.2h.8M168.4 58.3h.8M171.7 63.0h.8M159.8 59.9h.8M171.5 63.9h.8M172.7 63.0h.8M161.5 55.8h.8M174.1 58.8h.8M170.9 60.8h.8M175.4 59.1h.8M183.2 60.5h.8M176.3 63.1h.8M180.2 62.0h.8M158.2 61.6h.8M186.6 61.4h.8M176.5 62.6h.8M166.8 60.4h.8M167.4 65.8h.8M175.5 66.6h.8M176.5 66.8h.8M175.1 57.9h.8M185.6 61.1h.8M181.3 61.3h.8M169.5 62.6h.8M162.8 59.4h.8M164.9 61.1h.8M161.4 62.8h.8M175.1 67.4h.8M186.3 59.9h.8M178.8 60.3h.8M175.0 61.3h.8M167.8 62.5h.8M160.6 64.5h.8M169.4 58.9h.8M169.4 63.8h.8M166.9 63.8h.8M177.0 65.8h.8M163.5 62.5h.8M176.5 65.7h.8M174.3 63.8h.8M160.3 61.5h.8M184.9 59.4h.8M188.6 57.6h.8M169.3 57.4h.8M177.1 62.0h.8M187.9 60.3h.8M169.5 57.9h.8M171.7 64.7h.8M178.2 64.7h.8M178.8 60.8h.8M176.8 61.7h.8M162.2 68.1h.8M174.6 58.3h.8M175.1 62.3h.8M180.3 65.1h.8M148.3 66.4h.8M183.7 57.5h.8M157.5 64.4h.8M174.8 62.5h.8M163.1 61.5h.8M173.8 63.8h.8M189.3 60.6h.8M166.4 55.4h.8M180.4 60.4h.8M170.8 59.0h.8M177.1 55.8h.8M172.9 62.1h.8M174.8 65.4h.8M171.3 62.2h.8M178.2 56.4h.8M169.7 62.3h.8M179.2 58.5h.8M178.5 62.2h.8M159.7 58.9h.8M160.8 63.6h.8M173.9 63.7h.8M178.3 59.4h.8M180.7 63.2h.8M175.9 62.8h.8M162.0 64.1h.8M163.4 59.3h.8M169.3 62.6h.8M171.5 60.9h.8M164.2 63.3h.8M165.6 58.4h.8M173.3 66.0h.8M168.4 59.0h.8M183.6 65.5h.8M169.6 61.5h.8M174.7 70.3h.8M173.4 64.6h.8M174.8 56.0h.8M162.8 59.2h.8M175.5 61.7h.8M186.0 59.3h.8M174.5 61.7h.8M173.9 68.5h.8M174.8 65.9h.8M182.0 58.7h.8M177.3 60.0h.8M172.9 62.2h.8M172.0 60.4h.8M184.2 59.5h.8M178.2 66.1h.8M177.3 64.2h.8M183.4 63.7h.8M185.1 55.9h.8M187.5 60.0h.8M157.9 61.6h.8M160.9 63.1h.8M159.8 60.3h.8M174.4 62.0h.8M165.6 61.9h.8M171.2 62.1h.8M171.9 61.1h.8M178.4 56.2h.8M168.1 62.7h.8M168.6 60.5h.8M168.6 62.8h.8M181.8 60.0h.8M170.0 63.1h.8M169.4 56.3h.8M174.0 60.4h.8M167.7 64.2h.8M172.1 60.1h.8M154.1 58.8h.8M172.1 61.4h.8M175.6 62.0h.8M167.7 58.5h.8M163.3 62.5h.8M163.2 65.2h.8M160.8 57.8h.8M169.8 56.7h.8M184.6 57.3h.8M171.5 61.1h.8M164.8 57.3h.8M157.5 66.2h.8M180.9 67.2h.8M160.6 64.9h.8M172.2 64.3h.8M168.2 64.4h.8M179.3 62.7h.8M183.4 59.9h.8M184.0 58.2h.8M184.2 52.0h.8M171.8 59.4h.8M172.4 64.9h.8M177.7 61.4h.8M185.0 55.7h.8M166.1 67.1h.8M173.8 55.3h.8M174.3 57.9h.8M184.1 63.8h.8M168.1 66.2h.8M165.7 65.4h.8M176.6 60.9h.8M160.6 62.4h.8M153.6 62.4h.8M157.8 67.2h.8M163.4 55.5h.8M176.8 62.3h.8M168.8 68.6h.8M178.2 61.2h.8M165.8 53.6h.8M176.2 64.2h.8M166.8 58.2h.8M171.1 56.9h.8M172.3 64.1h.8M184.1 61.1h.8M173.8 63.8h.8M183.0 59.5h.8M162.0 60.6h.8M161.7 60.4h.8M171.2 62.9h.8M173.3 61.9h.8M169.3 63.4h.8M179.3 63.2h.8M183.8 59.5h.8M170.6 67.1h.8M173.7 62.8h.8M169.7 65.0h.8M168.4 59.2h.8M171.4 60.5h.8M178.5 59.9h.8M172.9 61.0h.8M174.5 59.6h.8M180.3 56.5h.8M168.7 60.1h.8M177.2 61.3h.8M175.7 60.3h.8M165.9 59.2h.8M169.2 60.5h.8M174.4 62.6h.8M179.7 60.5h.8M165.7 59.4h.8M172.6 62.8h.8M187.5 60.4h.8M186.6 65.7h.8M164.1 66.4h.8M181.5 64.7h.8M172.3 64.7h.8M168.2 62.1h.8M172.8 67.1h.8M170.6 64.9h.8M172.3 59.6h.8M174.2 63.5h.8M166.6 64.4h.8M166.0 59.9h.8M173.7 60.9h.8M163.6 57.9h.8M172.3 62.5h.8M168.4 62.8h.8M160.0 64.5h.8M175.4 62.2h.8M167.2 62.6h.8M173.4 64.9h.8M174.3 62.3h.8M166.6 65.1h.8M181.1 59.2h.8M177.2 62.1h.8M171.2 58.0h.8M185.3 54.5h.8M174.3 60.4h.8M180.9 59.4h.8M172.5 63.6h.8M175.4 59.8h.8M177.5 62.3h.8M179.7 59.3h.8M171.5 60.7h.8M165.4 63.4h.8M175.8 65.6h.8M169.6 63.3h.8M181.0 60.3h.8M172.5 62.1h.8M166.2 59.5h.8M180.9 61.2h.8M171.0 58.2h.8M173.4 65.2h.8M162.6 60.3h.8M181.3 65.0h.8M184.1 58.7h.8M176.5 59.0h.8M176.0 60.2h.8M174.0 65.6h.8M174.6 60.8h.8M172.5 62.5h.8M168.0 62.9h.8M177.3 65.8h.8M155.3 60.3h.8M162.5 65.6h.8M191.3 60.0h.8M173.4 65.1h.8M152.7 63.6h.8M147.5 65.3h.8M167.8 60.9h.8M174.5 59.7h.8M180.8 60.7h.8M175.9 68.9h.8M168.8 65.0h.8M165.9 66.3h.8M179.7 61.3h.8M180.4 65.6h.8M182.9 60.5h.8M172.0 65.1h.8M160.2 61.4h.8M176.0 63.0h.8M187.3 65.2h.8M174.7 62.8h.8M161.6 62.5h.8M174.0 60.9h.8M172.7 63.5h.8M164.3 61.0h.8M158.4 66.9h.8M163.1 57.8h.8M178.0 60.4h.8M179.5 59.8h.8M189.0 61.9h.8M173.2 62.0h.8M170.7 64.4h.8M187.6 58.6h.8M163.7 64.6h.8M179.8 56.4h.8M166.2 59.5h.8M176.6 62.7h.8M165.8 59.2h.8M176.6 55.1h.8M177.0 60.7h.8M187.4 62.9h.8M167.4 61.6h.8M169.6 59.9h.8M173.0 64.6h.8M160.1 62.6h.8M184.0 62.5h.8M165.3 60.2h.8M164.7 57.9h.8M181.0 60.9h.8M166.0 58.3h.8M168.8 60.7h.8M185.3 58.8h.8M173.3 64.8h.8M177.2 60.6h.8M155.4 68.0h.8M176.5 60.0h.8M171.0 59.1h.8M164.4 58.3h.8M176.1 62.8h.8M173.6 63.9h.8M176.2 61.6h.8M165.3 64.4h.8M181.5 62.5h.8M181.6 59.2h.8M164.8 66.4h.8M167.5 63.1h.8M170.5 62.0h.8M169.7 60.5h.8M158.8 69.1h.8M172.9 56.0h.8M164.5 59.4h.8M165.3 55.1h.8M177.1 66.0h.8M170.3 64.2h.8M176.2 57.6h.8M180.9 55.7h.8M167.4 61.3h.8M181.8 60.9h.8M170.7 59.6h.8M172.7 61.8h.8M178.2 65.2h.8M177.7 61.1h.8M171.4 66.6h.8M173.6 61.6h.8M186.5 64.7h.8M176.4 60.9h.8M167.5 65.5h.8M168.8 65.0h.8M166.0 62.9h.8M175.2 61.8h.8M174.0 62.7h.8M162.9 59.6h.8M171.5 67.2h.8M170.7 59.2h.8M166.9 62.5h.8M181.0 59.0h.8M176.4 61.8h.8M168.9 59.4h.8M170.6 59.8h.8M175.5 56.2h.8M181.0 62.9h.8M177.0 65.6h.8M176.1 56.3h.8M172.6 63.1h.8M166.3 59.2h.8M175.5 62.9h.8M168.6 61.5h.8M167.9 60.6h.8M171.9 65.0h.8M159.4 62.3h.8M184.6 61.2h.8M173.5 64.1h.8M163.8 59.2h.8M158.6 59.1h.8M174.2 64.0h.8M168.5 60.2h.8M175.3 63.2h.8M173.3 56.0h.8M166.9 55.0h.8M173.6 59.1h.8M167.5 66.8h.8M182.4 61.9h.8M174.2 62.0h.8M167.5 62.2h.8M186.5 57.4h.8M166.9 62.9h.8M179.2 63.4h.8M164.5 62.3h.8M169.5 58.5h.8M172.4 60.3h.8M179.3 62.2h.8M166.0 62.8h.8M169.0 60.3h.8M168.6 65.3h.8M168.2 57.2h.8M166.3 64.9h.8M188.3 56.7h.8M169.1 61.2h.8M161.3 64.3h.8M171.7 62.7h.8M189.2 58.9h.8M178.4 63.5h.8M166.9 60.7h.8M184.3 62.4h.8M172.7 58.5h.8M179.0 62.5h.8M189.5 64.0h.8M178.3 61.8h.8M172.3 60.1h.8M174.5 62.2h.8M177.4 64.3h.8M174.2 59.9h.8M178.8 65.5h.8M165.7 63.8h.8M176.4 62.8h.8M175.9 61.1h.8M171.8 66.8h.8M184.9 56.1h.8M152.6 65.5h.8M166.6 60.9h.8M159.8 64.3h.8M171.4 60.3h.8M179.8 68.0h.8M183.8 63.8h.8M169.1 64.1h.8M172.1 65.2h.8M176.5 61.1h.8M176.0 59.2h.8M178.7 65.4h.8M169.4 63.8h.8M159.5 66.1h.8M178.4 58.0h.8M185.5 60.5h.8M158.2 59.5h.8M178.7 60.2h.8M180.0 56.3h.8M171.6 64.7h.8M167.0 64.4h.8M169.4 63.1h.8M175.3 68.0h.8M162.7 65.2h.8M181.7 57.3h.8M173.5 68.4h.8M179.0 52.2h.8M169.6 57.1h.8M174.1 59.4h.8M167.4 59.9h.8M174.1 60.2h.8M164.9 62.0h.8M174.8 58.9h.8M180.0 55.9h.8M175.0 60.3h.8M164.6 61.4h.8M145.0 60.0h.8M168.5 65.5h.8M141.5 63.7h.8M142.9 69.9h.8M154.3 57.2h.8M153.0 67.3h.8M151.1 65.9h.8M150.1 65.1h.8M152.7 61.8h.8M154.1 64.7h.8M150.5 62.0h.8M142.2 65.6h.8M157.8 55.7h.8M146.6 69.1h.8M158.9 61.5h.8M162.6 60.3h.8M144.4 71.2h.8M147.2 63.8h.8M136.4 61.6h.8M140.7 64.4h.8M135.2 68.8h.8M147.8 62.4h.8M145.6 67.1h.8M164.3 62.2h.8M165.4 69.0h.8M162.8 64.7h.8M138.1 67.3h.8M147.5 65.1h.8M134.5 64.2h.8M152.9 61.0h.8M153.9 69.9h.8M152.9 61.9h.8M171.5 55.9h.8M143.0 66.1h.8M145.4 56.8h.8M153.4 67.0h.8M144.3 69.7h.8M155.6 68.1h.8M137.6 65.0h.8M165.4 70.4h.8M162.5 63.7h.8M152.5 62.1h.8M160.5 61.4h.8M151.7 57.2h.8M138.1 71.0h.8M151.6 65.0h.8M168.9 58.3h.8M146.3 63.8h.8M139.7 60.3h.8M140.3 67.1h.8M150.7 67.1h.8M141.6 66.8h.8M147.1 64.8h.8M159.2 64.0h.8M147.6 58.8h.8M151.7 66.9h.8M145.4 64.4h.8M135.2 60.6h.8M154.8 68.5h.8M148.0 58.7h.8M147.4 59.1h.8M148.9 71.0h.8M153.6 63.6h.8M160.1 62.5h.8M154.0 64.8h.8M154.7 59.1h.8M157.4 67.0h.8M143.4 69.8h.8M151.3 66.6h.8M156.0 67.1h.8M145.3 62.6h.8M154.4 66.2h.8M156.1 65.2h.8M146.9 68.3h.8M155.4 67.7h.8M145.1 65.0h.8M146.7 63.5h.8M152.8 65.4h.8M143.5 56.0h.8M144.2 66.5h.8M143.6 66.2h.8M147.6 61.2h.8M161.6 69.5h.8M150.1 64.2h.8M159.3 59.3h.8M143.5 68.6h.8M158.9 62.2h.8M144.2 65.9h.8M138.4 63.2h.8M148.5 55.9h.8M156.4 66.7h.8M160.2 58.8h.8M139.4 62.1h.8M139.8 72.0h.8M142.3 63.7h.8M152.9 65.8h.8M163.7 59.9h.8M158.9 64.4h.8M140.6 65.4h.8M138.8 70.6h.8M144.7 68.1h.8M162.5 61.6h.8M143.0 65.2h.8M141.8 67.9h.8M152.4 61.6h.8M145.0 67.1h.8M138.4 70.8h.8M144.0 64.0h.8M143.0 70.4h.8M158.6 68.4h.8M156.8 64.3h.8M166.3 65.8h.8M155.0 66.1h.8M157.6 64.9h.8M149.2 58.8h.8M169.2 58.8h.8M168.5 67.6h.8M145.7 65.5h.8M150.4 57.4h.8M148.1 65.5h.8M161.3 59.6h.8M154.0 64.4h.8M152.4 64.7h.8M147.5 59.7h.8M155.1 65.4h.8M156.4 68.4h.8M139.5 56.7h.8M135.4 72.6h.8M142.9 66.1h.8M151.0 66.9h.8M179.7 61.0h.8M149.4 62.3h.8M153.3 66.0h.8M142.5 69.4h.8M161.4 65.3h.8M150.0 63.5h.8M136.4 67.4h.8M142.1 63.0h.8M159.8 60.6h.8M146.5 67.5h.8M167.6 61.0h.8M160.8 61.5h.8M154.6 65.8h.8M141.0 68.4h.8M167.2 63.6h.8M153.2 60.1h.8M167.1 63.7h.8M139.7 67.6h.8M137.7 62.6h.8M170.7 61.0h.8M145.0 62.6h.8M146.0 66.5h.8M163.9 60.1h.8M154.6 57.8h.8M164.7 63.3h.8M145.0 70.0h.8M150.3 69.1h.8M161.0 69.6h.8M143.8 64.9h.8M154.3 63.4h.8M164.6 61.1h.8M160.3 68.6h.8M133.3 61.8h.8M142.8 62.8h.8M154.5 63.5h.8M151.6 62.7h.8M150.4 66.0h.8M157.6 61.2h.8M149.8 61.7h.8M149.1 59.4h.8M159.7 66.2h.8M149.8 62.0h.8M146.8 62.2h.8M137.4 70.7h.8M180.3 58.5h.8M140.6 66.9h.8M156.2 58.5h.8M133.8 67.1h.8M133.4 70.2h.8M146.6 64.8h.8M150.9 62.3h.8M149.7 63.3h.8M162.2 63.4h.8M150.6 62.5h.8M145.2 62.0h.8M151.4 70.7h.8M161.1 64.6h.8M166.2 67.1h.8M152.8 63.6h.8M141.2 65.7h.8M147.9 58.9h.8M139.8 71.7h.8M153.0 65.9h.8M152.7 62.6h.8M155.3 67.9h.8M148.3 66.2h.8M160.1 62.1h.8M152.4 61.6h.8M156.4 62.7h.8M161.2 61.1h.8M166.1 62.4h.8M143.3 61.5h.8M156.8 61.0h.8M167.5 67.9h.8M155.4 59.1h.8M150.7 61.8h.8M134.8 66.6h.8M170.7 61.4h.8M158.5 68.4h.8M142.3 63.6h.8M153.5 65.8h.8M140.7 65.6h.8M150.2 67.7h.8M136.5 63.1h.8M146.4 63.4h.8M157.4 61.8h.8M175.5 60.5h.8M158.7 67.5h.8M159.6 63.1h.8M143.5 63.8h.8M157.0 64.4h.8M156.3 66.0h.8M142.9 61.4h.8M163.9 61.9h.8M137.1 71.5h.8M143.3 61.4h.8M159.5 59.9h.8M143.4 68.4h.8M144.1 73.5h.8M152.4 73.6h.8M152.2 64.4h.8M145.2 63.8h.8M146.5 64.5h.8M157.7 59.5h.8M142.4 57.4h.8M164.5 63.3h.8M150.9 64.1h.8M160.1 64.9h.8M158.6 63.3h.8M149.9 64.2h.8M134.5 69.0h.8M136.6 61.6h.8M157.0 64.2h.8M158.6 69.9h.8M168.0 68.3h.8M149.3 71.6h.8M143.1 64.4h.8M159.9 63.1h.8M149.8 63.1h.8M162.8 55.0h.8M162.6 67.4h.8M150.5 66.3h.8M142.5 68.6h.8M178.3 59.6h.8M163.5 63.4h.8M147.9 62.8h.8M149.1 60.0h.8M139.1 70.7h.8M150.9 66.2h.8M153.9 65.8h.8M137.1 61.7h.8M156.9 67.5h.8M140.6 62.8h.8M141.5 67.1h.8M154.1 64.3h.8M145.2 65.8h.8M151.2 61.7h.8M153.9 61.8h.8M159.7 66.0h.8M144.9 66.7h.8M151.5 61.8h.8M142.5 58.9h.8M140.9 66.0h.8M161.7 61.5h.8M152.5 65.4h.8M158.1 65.5h.8M162.2 66.4h.8M144.2 66.0h.8M151.3 66.3h.8M148.4 67.4h.8M162.7 60.7h.8M146.2 65.5h.8M155.4 64.6h.8M158.3 59.8h.8M158.2 68.0h.8M161.1 65.3h.8M148.9 65.8h.8M150.0 58.8h.8M145.6 64.4h.8M146.2 61.3h.8M148.8 63.1h.8M151.6 64.1h.8M152.7 67.7h.8M152.3 65.7h.8M139.5 54.6h.8M147.5 66.9h.8M147.8 62.3h.8M140.0 68.0h.8M146.3 65.4h.8M161.3 65.6h.8M171.1 62.8h.8M159.7 66.3h.8M145.1 64.8h.8M145.7 61.0h.8M153.6 61.5h.8M166.0 60.9h.8M146.1 64.9h.8M146.3 64.7h.8M145.3 59.6h.8M164.8 65.1h.8M152.3 62.6h.8M149.7 65.4h.8M138.4 62.2h.8M143.2 69.1h.8M141.7 68.9h.8M147.3 74.0h.8M150.3 64.4h.8M163.3 66.7h.8M159.2 60.1h.8M161.5 69.6h.8M150.0 62.7h.8M141.4 68.4h.8M153.6 64.2h.8M140.2 70.5h.8M158.9 63.8h.8M164.1 60.3h.8M158.7 60.4h.8M163.6 62.7h.8M161.9 62.3h.8M154.8 68.1h.8M142.9 65.1h.8M143.6 67.7h.8M145.5 63.3h.8M149.4 68.5h.8M141.6 64.7h.8M147.9 62.5h.8M143.9 64.1h.8M152.5 58.8h.8M152.9 60.1h.8M151.6 72.3h.8M142.3 64.5h.8M148.9 67.9h.8M146.4 58.3h.8M136.6 65.7h.8M153.5 67.9h.8M146.3 66.9h.8M141.7 69.3h.8M150.2 62.0h.8M152.9 70.3h.8M143.2 60.4h.8M141.7 60.7h.8M150.6 65.5h.8M149.6 65.1h.8M161.6 62.7h.8M139.3 56.9h.8M153.1 61.8h.8M148.8 65.8h.8M154.9 58.6h.8M142.4 65.0h.8M149.9 68.4h.8M146.1 57.3h.8M161.2 58.0h.8M142.3 66.1h.8M141.9 73.5h.8M153.2 66.1h.8M147.5 72.3h.8M155.7 61.5h.8M162.0 57.8h.8M145.8 65.6h.8M152.1 60.9h.8M165.5 68.7h.8M142.7 66.0h.8M145.2 63.1h.8M159.9 64.3h.8M150.0 64.7h.8M140.7 69.1h.8M144.5 69.2h.8M146.8 62.9h.8M164.4 64.3h.8M145.2 62.7h.8M156.8 70.6h.8M156.4 62.6h.8M140.8 62.5h.8M150.0 65.2h.8M145.3 69.1h.8M142.3 62.3h.8M155.6 65.7h.8M147.7 67.8h.8M138.6 70.7h.8M171.0 70.1h.8M152.4 71.1h.8M151.7 68.9h.8M149.2 65.1h.8M155.4 57.9h.8M149.4 70.4h.8M159.3 65.0h.8M153.0 69.1h.8M153.7 57.5h.8M142.5 63.7h.8M152.2 62.7h.8M150.4 70.2h.8M159.5 66.0h.8M151.1 64.5h.8M154.3 65.0h.8M144.6 67.4h.8M143.6 64.5h.8M147.6 60.4h.8M156.4 63.8h.8M140.5 64.6h.8M138.9 70.0h.8M156.0 71.0h.8M146.0 67.0h.8M142.2 61.8h.8M150.3 65.8h.8M159.2 62.9h.8M161.1 67.1h.8M143.1 64.1h.8M143.1 70.7h.8M146.2 67.6h.8M159.1 63.0h.8M146.7 65.7h.8M143.8 60.3h.8M142.4 65.9h.8M153.0 70.3h.8M134.7 66.9h.8M140.9 68.9h.8M157.3 64.4h.8M164.1 62.3h.8M146.1 60.9h.8M145.1 65.0h.8M157.3 68.4h.8M148.5 61.9h.8M147.9 63.0h.8M146.7 63.1h.8M143.2 64.5h.8M146.4 64.0h.8M138.6 65.5h.8M156.2 66.3h.8M145.9 60.6h.8M139.2 60.8h.8M145.2 63.5h.8M135.3 67.5h.8M137.1 62.6h.8M144.7 67.5h.8M167.3 62.2h.8M148.5 63.1h.8M149.2 63.8h.8M172.8 59.4h.8M149.9 61.6h.8M154.1 62.3h.8M155.9 60.3h.8M169.8 64.0h.8M135.4 67.5h.8M146.6 60.5h.8M154.8 62.3h.8M157.5 62.1h.8M159.1 64.4h.8M154.2 64.7h.8M147.7 63.2h.8M155.1 66.5h.8M147.8 72.2h.8M165.8 59.6h.8M160.6 63.6h.8M152.9 61.5h.8M165.5 60.7h.8M150.1 61.8h.8M168.4 67.7h.8M139.2 63.4h.8M154.2 62.6h.8M147.7 60.8h.8M153.0 60.4h.8M158.8 72.2h.8M148.4 70.1h.8M154.2 61.8h.8M147.8 61.2h.8M152.1 66.7h.8M159.2 62.9h.8M140.4 64.6h.8M165.9 64.5h.8M150.1 57.2h.8M147.3 66.4h.8M142.9 69.4h.8M145.8 61.6h.8M145.8 64.3h.8M159.8 61.9h.8M135.2 64.9h.8M155.9 69.4h.8M141.3 69.9h.8M157.1 65.6h.8M144.1 61.6h.8M142.7 68.0h.8M153.1 67.9h.8M167.1 63.5h.8M150.9 70.9h.8M139.4 63.4h.8M147.7 63.2h.8M152.1 61.4h.8M161.0 59.1h.8M143.5 58.9h.8M138.7 67.0h.8M156.5 63.3h.8M158.6 66.0h.8M145.9 64.4h.8M154.6 71.0h.8M147.2 65.8h.8M156.0 68.2h.8M155.0 67.8h.8M141.6 63.9h.8M133.9 65.0h.8M171.7 64.1h.8M151.8 65.2h.8M152.0 59.7h.8M144.9 64.0h.8M152.3 61.3h.8M149.9 61.9h.8M139.2 62.7h.8M144.0 67.6h.8M162.9 65.7h.8M149.0 62.5h.8M137.0 63.2h.8M165.0 67.5h.8M152.9 63.4h.8M151.1 65.8h.8M151.0 65.8h.8M144.2 64.8h.8M148.1 68.2h.8M140.3 69.3h.8M150.2 62.6h.8M151.2 64.7h.8M149.0 65.9h.8M145.6 58.8h.8M157.1 63.9h.8M165.8 64.9h.8M133.5 69.5h.8M145.0 66.5h.8M170.8 67.0h.8M141.3 64.5h.8M136.9 67.3h.8M155.8 60.6h.8M155.2 67.3h.8M158.0 61.7h.8M144.7 60.8h.8M139.6 66.0h.8M151.6 68.7h.8M153.4 63.1h.8M138.7 70.2h.8M152.5 64.1h.8M141.9 61.2h.8M156.4 60.7h.8M156.3 66.2h.8M147.3 59.0h.8M154.9 68.9h.8M143.5 60.4h.8M160.6 64.3h.8M145.7 68.8h.8M148.6 66.0h.8M147.3 62.0h.8M152.8 61.3h.8M135.2 63.3h.8M162.1 67.5h.8M170.4 66.7h.8M165.3 64.4h.8M147.2 66.1h.8M142.8 67.3h.8M147.1 65.4h.8M143.5 64.3h.8M159.6 63.1h.8M145.1 65.6h.8M158.7 63.3h.8M140.4 59.6h.8M139.4 68.6h.8M150.3 66.0h.8M160.5 64.8h.8M155.2 62.4h.8M136.9 67.2h.8M150.3 66.3h.8M141.6 64.3h.8M168.6 60.6h.8M152.1 68.7h.8M149.0 64.9h.8M132.4 67.9h.8M147.3 68.9h.8M150.1 63.1h.8M154.8 63.3h.8M146.7 69.8h.8M159.7 64.3h.8M158.3 66.8h.8M156.1 64.2h.8M151.7 65.7h.8M156.0 65.3h.8M146.1 64.3h.8M154.9 60.8h.8M151.1 66.9h.8M152.4 63.3h.8M150.7 62.7h.8M159.6 62.6h.8M136.1 61.1h.8M153.7 64.9h.8M146.6 60.2h.8M149.5 61.6h.8M145.2 64.6h.8M144.3 65.7h.8M144.4 63.1h.8M149.3 69.4h.8M165.0 66.8h.8M144.5 64.7h.8M159.2 66.6h.8M136.7 64.9h.8M144.6 67.2h.8M156.5 62.3h.8M169.8 62.4h.8M172.5 62.7h.8M150.6 70.7h.8M146.3 63.0h.8M164.0 63.5h.8M155.0 59.9h.8M166.9 66.8h.8M154.3 66.6h.8M146.5 63.0h.8M137.2 66.3h.8M162.0 66.6h.8M159.2 66.3h.8M142.7 60.4h.8M156.7 64.6h.8M159.6 63.0h.8M143.3 66.2h.8M145.8 59.1h.8M145.5 61.7h.8M141.1 63.0h.8M159.8 71.8h.8M166.1 62.2h.8M161.0 63.6h.8M154.4 61.9h.8M150.1 58.8h.8M166.6 61.0h.8M156.1 62.1h.8M153.2 60.3h.8M147.9 67.6h.8M155.9 57.6h.8M158.3 59.6h.8M153.6 66.0h.8M145.3 63.6h.8M148.9 65.8h.8M159.3 68.5h.8M154.2 70.8h.8M143.0 70.7h.8M148.8 67.0h.8M149.9 64.7h.8M143.0 66.1h.8M168.8 63.9h.8M150.8 64.4h.8M157.2 63.4h.8M151.0 65.1h.8M162.6 66.9h.8M141.6 62.7h.8M151.3 67.2h.8M159.5 63.2h.8M169.7 62.8h.8M163.6 68.4h.8M165.1 64.3h.8M155.8 59.0h.8M135.2 63.2h.8M157.5 67.6h.8M150.3 67.9h.8M156.4 69.2h.8M136.9 62.3h.8M142.4 61.3h.8M165.3 60.5h.8M143.6 63.4h.8M158.7 62.4h.8M157.6 65.8h.8M145.0 56.8h.8M142.7 60.6h.8M165.3 61.2h.8M141.6 66.1h.8M151.3 61.2h.8M160.8 66.9h.8M153.3 61.7h.8M143.0 58.0h.8M154.4 65.5h.8M142.9 64.9h.8M179.7 59.1h.8M136.1 67.2h.8M147.2 62.9h.8M156.5 63.6h.8M159.9 65.6h.8M161.2 64.2h.8M136.2 68.6h.8M153.0 59.6h.8M151.7 67.2h.8M142.0 65.0h.8M144.3 61.4h.8M145.8 68.9h.8M157.0 63.9h.8M150.3 64.8h.8M153.6 64.8h.8M136.0 68.2h.8M143.0 56.1h.8M157.0 60.0h.8M149.7 64.1h.8M145.9 66.4h.8M148.6 63.5h.8M142.5 63.9h.8M141.9 65.0h.8M162.9 67.1h.8M154.5 59.6h.8M160.2 67.0h.8M168.8 55.9h.8M151.1 63.2h.8M160.4 60.2h.8M148.1 72.2h.8M159.4 57.2h.8M151.4 68.9h.8M145.7 66.6h.8M151.6 59.4h.8M145.7 68.4h.8M161.4 61.8h.8M160.8 61.4h.8M153.2 64.1h.8M140.0 66.0h.8M147.1 55.4h.8M143.5 61.9h.8M143.5 61.5h.8M144.5 56.5h.8M158.9 64.2h.8M153.2 63.3h.8M151.5 63.4h.8M141.1 59.8h.8M151.8 67.7h.8M153.4 69.6h.8M138.9 64.1h.8M145.8 68.7h.8M165.9 61.8h.8M157.4 63.2h.8M142.2 64.4h.8M142.1 70.0h.8M156.4 68.0h.8M153.7 56.0h.8M158.1 64.3h.8M160.2 69.6h.8M142.1 67.4h.8M153.9 63.6h.8M148.6 66.2h.8M156.2 66.2h.8M147.2 60.1h.8M162.9 68.0h.8M146.0 64.5h.8M157.8 58.1h.8M155.8 72.2h.8M153.3 61.8h.8M169.1 63.4h.8M152.8 62.8h.8M152.3 58.2h.8M139.4 60.0h.8M159.0 63.6h.8M160.8 57.0h.8M146.0 69.5h.8M143.7 58.4h.8M144.4 63.5h.8M151.1 68.7h.8M163.0 68.9h.8M156.0 62.4h.8M146.4 59.6h.8M162.5 67.9h.8M151.6 61.3h.8M157.1 65.6h.8M152.2 60.3h.8M153.0 62.3h.8M157.6 66.0h.8M154.8 62.7h.8M164.6 66.2h.8M162.4 66.5h.8M156.9 65.3h.8M141.2 58.7h.8M142.8 66.8h.8M159.1 64.5h.8M152.1 70.4h.8M147.2 58.5h.8M137.3 63.9h.8M157.3 66.4h.8M149.2 67.1h.8M150.4 61.9h.8M147.8 67.0h.8M159.2 60.1h.8M142.3 65.2h.8M169.5 59.4h.8M140.0 66.3h.8M155.4 62.0h.8M150.9 65.9h.8M135.6 65.0h.8M156.5 67.1h.8M161.3 63.5h.8M138.5 69.5h.8M157.7 61.8h.8M160.3 67.3h.8M149.4 56.5h.8M146.7 62.0h.8M143.6 64.4h.8M141.5 66.1h.8M167.4 59.4h.8M160.1 62.0h.8M155.8 63.6h.8M162.2 61.3h.8M157.3 61.4h.8M153.0 64.1h.8M160.3 58.5h.8M139.4 69.6h.8M154.7 69.8h.8M142.0 65.5h.8M156.6 69.9h.8M150.5 62.8h.8M157.3 63.6h.8M144.5 67.2h.8M134.1 61.8h.8M162.9 62.0h.8M148.2 65.7h.8M161.0 65.6h.8M142.4 62.8h.8M160.2 63.4h.8M145.6 67.5h.8M161.4 71.1h.8M141.4 62.4h.8M145.0 65.8h.8M147.0 68.3h.8M145.3 63.7h.8M156.0 64.7h.8M142.4 69.8h.8M156.0 62.4h.8M152.6 60.5h.8M140.2 63.9h.8M154.2 64.5h.8M144.0 60.0h.8M136.6 70.4h.8M154.1 61.4h.8M161.5 65.6h.8M147.3 62.4h.8M161.1 64.9h.8M165.4 64.8h.8M145.8 62.6h.8M144.9 65.5h.8M153.3 66.2h.8M154.8 60.6h.8M149.0 61.2h.8M155.0 59.7h.8M145.8 61.7h.8M145.5 63.7h.8M164.2 62.7h.8M138.4 63.9h.8M157.7 65.8h.8M153.4 70.9h.8M160.7 64.1h.8M161.4 59.3h.8M149.4 61.5h.8M152.8 69.6h.8M146.9 69.9h.8M142.3 69.5h.8M136.0 62.2h.8M159.7 63.5h.8M152.3 64.2h.8M152.6 63.6h.8M142.4 63.8h.8M151.8 61.2h.8M155.4 70.0h.8M136.6 63.2h.8M148.6 64.5h.8M151.7 61.8h.8M150.7 64.3h.8M150.5 69.5h.8M151.9 59.3h.8M137.4 67.0h.8M147.9 62.4h.8M139.1 63.9h.8M150.1 62.0h.8M148.1 67.4h.8M157.9 65.8h.8M149.2 59.8h.8M158.0 69.0h.8M162.3 67.6h.8M153.5 65.4h.8M151.1 68.5h.8M149.0 71.6h.8M157.7 62.9h.8M150.7 58.9h.8M144.6 63.6h.8M159.1 78.4h.8M150.9 85.6h.8M144.4 90.1h.8M135.4 92.7h.8M156.3 87.4h.8M145.7 86.3h.8M149.5 81.0h.8M146.6 89.1h.8M144.1 88.2h.8M147.8 90.8h.8M140.7 80.6h.8M143.7 94.8h.8M147.3 71.5h.8M139.2 100.8h.8M147.8 74.4h.8M141.1 86.2h.8M153.6 98.2h.8M144.1 82.6h.8M156.3 77.0h.8M154.4 87.8h.8M146.5 95.5h.8M148.6 78.2h.8M137.9 85.1h.8M148.7 96.2h.8M149.3 97.4h.8M150.3 86.7h.8M148.3 88.3h.8M142.6 84.1h.8M146.7 81.3h.8M138.2 73.2h.8M148.7 89.3h.8M146.6 75.5h.8M150.5 81.8h.8M134.9 97.8h.8M138.0 103.4h.8M148.8 81.4h.8M133.4 79.3h.8M153.9 96.1h.8M147.4 71.0h.8M144.0 82.7h.8M148.5 84.0h.8M147.8 71.7h.8M142.6 96.8h.8M138.2 92.5h.8M158.3 90.3h.8M138.6 95.2h.8M136.1 87.8h.8M143.8 95.1h.8M152.3 86.6h.8M155.6 93.0h.8M143.4 77.0h.8M159.1 81.7h.8M148.2 84.1h.8M143.5 71.9h.8M145.2 84.1h.8M151.2 80.8h.8M137.6 76.2h.8M145.8 87.0h.8M149.9 81.9h.8M148.9 86.2h.8M155.0 84.5h.8M146.8 89.6h.8M152.5 77.5h.8M143.5 82.8h.8M134.6 95.7h.8M151.7 85.2h.8M164.0 95.4h.8M156.8 97.9h.8M150.8 73.4h.8M154.2 88.4h.8M139.6 85.4h.8M150.0 93.1h.8M146.9 80.7h.8M150.1 78.8h.8M145.6 91.3h.8M138.3 88.1h.8M135.5 77.4h.8M139.4 84.3h.8M149.8 84.6h.8M150.9 85.8h.8M144.9 89.0h.8M144.7 86.1h.8M151.6 80.3h.8M152.2 75.9h.8M144.8 70.8h.8M143.2 98.0h.8M147.9 95.4h.8M138.1 76.7h.8M148.5 91.8h.8M150.5 71.3h.8M148.7 84.4h.8M146.6 88.9h.8M144.5 71.1h.8M140.3 73.1h.8M139.0 83.9h.8M153.0 79.2h.8M141.9 75.6h.8M136.8 85.5h.8M143.4 83.0h.8M140.9 89.0h.8M139.6 89.5h.8M142.5 91.5h.8M141.3 88.6h.8M148.4 84.4h.8M154.7 86.4h.8M141.3 90.7h.8M141.6 80.6h.8M146.1 86.5h.8M155.1 70.7h.8M144.6 94.3h.8M145.1 87.6h.8M154.2 74.9h.8M146.2 91.5h.8M142.9 70.6h.8M140.7 86.6h.8M147.0 100.1h.8M153.1 72.3h.8M151.6 92.5h.8M154.7 83.7h.8M143.0 86.2h.8M154.3 90.1h.8M155.1 91.5h.8M142.9 76.7h.8M155.9 72.6h.8M144.1 82.4h.8M141.1 80.3h.8M146.0 104.5h.8M145.7 80.7h.8M146.7 92.7h.8M141.6 81.7h.8M136.6 90.8h.8M149.6 97.3h.8M139.6 102.9h.8M150.7 82.7h.8M143.9 82.5h.8M139.5 91.3h.8M142.7 79.1h.8M148.8 85.9h.8M142.9 83.1h.8M143.4 96.1h.8M151.4 79.0h.8M145.8 96.3h.8M144.5 99.7h.8M148.4 90.5h.8M134.9 92.0h.8M147.8 89.8h.8M148.6 89.3h.8M143.3 92.4h.8M146.3 76.4h.8M140.5 86.3h.8M147.8 66.8h.8M134.9 93.6h.8M145.9 108.5h.8M137.8 83.0h.8M142.8 89.6h.8M153.6 98.3h.8M140.6 95.2h.8M139.5 87.5h.8M146.9 90.1h.8M141.7 96.0h.8M145.6 84.8h.8M144.6 76.2h.8M149.9 87.8h.8M148.4 100.4h.8M141.3 82.7h.8M146.0 92.1h.8M145.0 92.7h.8M148.5 70.5h.8M142.3 68.3h.8M144.5 81.6h.8M149.2 86.4h.8M145.7 95.4h.8M149.2 74.9h.8M142.3 87.7h.8M155.1 83.4h.8M145.1 87.2h.8M150.2 84.3h.8M147.6 81.5h.8M143.0 78.5h.8M149.5 80.4h.8M149.0 88.3h.8M151.2 62.9h.8M140.8 74.9h.8M145.1 91.6h.8M159.6 97.7h.8M153.3 88.2h.8M143.9 89.4h.8M134.3 92.7h.8M146.0 90.1h.8M140.5 76.0h.8M142.5 84.6h.8M147.9 82.1h.8M147.9 90.6h.8M139.8 84.2h.8M137.6 80.5h.8M150.9 79.1h.8M156.0 89.2h.8M150.8 85.9h.8M150.6 94.0h.8M146.6 80.6h.8M143.0 100.9h.8M145.0 81.2h.8M142.2 71.1h.8M143.3 87.7h.8M143.4 78.7h.8M148.2 88.8h.8M143.7 87.5h.8M140.8 92.1h.8M140.7 82.2h.8M146.7 81.5h.8M139.8 102.3h.8M154.2 70.6h.8M146.7 74.5h.8M147.7 74.2h.8M149.1 89.4h.8M155.2 95.0h.8M143.5 92.8h.8M143.5 84.1h.8M143.3 70.4h.8M149.2 68.2h.8M144.7 89.3h.8M146.6 72.0h.8M142.5 90.6h.8M151.9 98.2h.8M136.2 88.8h.8M143.4 91.3h.8M136.9 83.8h.8M149.8 79.7h.8M144.1 76.9h.8M153.5 92.4h.8M141.6 101.1h.8M148.6 96.7h.8M150.4 107.0h.8M148.7 103.4h.8M149.7 93.7h.8M140.0 100.3h.8M140.5 110.1h.8M158.4 114.8h.8M149.6 107.0h.8M143.0 92.6h.8M150.2 91.0h.8M148.8 102.8h.8M151.4 104.4h.8M147.6 98.9h.8M136.9 101.0h.8M151.1 113.2h.8M155.1 95.3h.8M141.5 110.1h.8M148.8 90.7h.8M143.7 117.8h.8M136.3 105.3h.8M138.9 118.0h.8M144.4 95.0h.8M137.0 97.8h.8M159.8 104.9h.8M145.4 93.8h.8M149.0 99.9h.8M142.0 116.1h.8M149.6 96.2h.8M155.7 103.5h.8M150.0 105.3h.8M153.9 109.4h.8M145.0 110.3h.8M144.7 105.2h.8M156.6 94.7h.8M140.9 100.5h.8M144.1 115.4h.8M156.3 100.1h.8M148.1 100.8h.8M150.9 109.8h.8M151.4 110.7h.8M158.3 102.5h.8M151.1 102.4h.8M147.2 105.9h.8M146.7 107.0h.8M142.0 102.7h.8M143.5 93.8h.8M142.9 99.6h.8M146.1 90.3h.8M145.5 94.1h.8M142.2 105.7h.8M153.5 106.5h.8M144.1 100.1h.8M154.9 89.7h.8M153.7 90.8h.8" stroke="#111" stroke-opacity="0.34" stroke-width="1.0" fill="none" filter="url(#bl)"/><path d="M131.3 55.9H195V72.7H131.3M163.3 55.9V121.2" fill="none" stroke="#5c5c5c" stroke-width="1"/><path d="M144.0 121.2v1.5M131.3 108.7h-1.5M146.0 121.2v1.5M131.3 106.7h-1.5M147.7 121.2v1.5M131.3 105.0h-1.5M149.1 121.2v1.5M131.3 103.6h-1.5M150.4 121.2v1.5M131.3 102.4h-1.5M151.4 121.2v1.5M131.3 101.4h-1.5M152.4 121.2v2.4M131.3 100.4h-2.4M158.8 121.2v1.5M131.3 94.1h-1.5M162.5 121.2v1.5M131.3 90.5h-1.5M165.1 121.2v1.5M131.3 87.9h-1.5M167.1 121.2v1.5M131.3 85.9h-1.5M168.8 121.2v1.5M131.3 84.2h-1.5M170.2 121.2v1.5M131.3 82.8h-1.5M171.5 121.2v1.5M131.3 81.6h-1.5M172.5 121.2v1.5M131.3 80.6h-1.5M173.5 121.2v2.4M131.3 79.6h-2.4M179.9 121.2v1.5M131.3 73.3h-1.5M183.6 121.2v1.5M131.3 69.7h-1.5M186.2 121.2v1.5M131.3 67.1h-1.5M188.2 121.2v1.5M131.3 65.1h-1.5M189.9 121.2v1.5M131.3 63.4h-1.5M191.3 121.2v1.5M131.3 62.0h-1.5M192.6 121.2v1.5M131.3 60.8h-1.5M193.6 121.2v1.5M131.3 59.8h-1.5M194.6 121.2v2.4M131.3 58.8h-2.4M201.0 121.2v1.5M131.3 52.5h-1.5M204.7 121.2v1.5M131.3 48.9h-1.5M207.3 121.2v1.5M131.3 46.3h-1.5M209.3 121.2v1.5M131.3 44.3h-1.5M211.0 121.2v1.5M131.3 42.6h-1.5M212.4 121.2v1.5M131.3 41.2h-1.5M213.7 121.2v1.5M131.3 40.0h-1.5M214.7 121.2v1.5M131.3 39.0h-1.5" stroke="#111" stroke-width="0.6" fill="none" stroke-opacity="0.85"/><rect x="131.3" y="38" width="84.39999999999998" height="83.2" fill="none" stroke="#111" stroke-width="1.15"/><text x="169" y="31.9" font-size="12.2" text-anchor="middle" font-style="italic" fill="#111">hd/+</text><text x="132.70000000000002" y="55" font-size="7.8" fill="#111">35.8</text><text x="195.6" y="79.4" font-size="7.8" text-anchor="end" fill="#111">52.4</text><text x="132.60000000000002" y="119.5" font-size="7.8" fill="#111">11.1</text><path d="M240.6 63.6h.8M244.4 69.4h.8M251.1 63.2h.8M255.4 63.5h.8M239.0 67.5h.8M260.4 68.0h.8M235.6 70.3h.8M242.6 66.2h.8M257.6 72.0h.8M231.5 59.7h.8M257.5 65.2h.8M243.6 52.8h.8M250.6 62.7h.8M246.5 64.2h.8M253.5 62.4h.8M238.2 62.1h.8M264.9 60.9h.8M245.8 70.3h.8M256.3 63.8h.8M253.3 62.4h.8M238.1 67.0h.8M247.8 69.2h.8M244.1 62.0h.8M249.7 62.7h.8M243.6 60.2h.8M248.9 64.6h.8M263.5 63.3h.8M230.2 65.1h.8M267.8 61.8h.8M239.0 62.8h.8M244.7 57.9h.8M251.9 60.2h.8M229.3 60.8h.8M252.4 70.4h.8M258.1 64.1h.8M241.7 62.5h.8M255.5 61.5h.8M250.4 66.9h.8M238.1 61.3h.8M250.7 63.4h.8M245.3 61.5h.8M245.9 70.1h.8M259.2 57.6h.8M246.9 63.7h.8M246.8 58.4h.8M245.3 63.9h.8M240.1 64.5h.8M247.4 64.8h.8M245.0 61.7h.8M248.2 67.3h.8M254.9 63.1h.8M242.2 67.2h.8M251.5 66.6h.8M243.9 60.3h.8M248.2 61.1h.8M257.2 66.5h.8M258.9 67.2h.8M242.1 60.3h.8M255.5 67.1h.8M247.1 59.2h.8M232.3 64.4h.8M238.8 60.9h.8M250.6 67.2h.8M258.6 63.2h.8M243.3 65.7h.8M235.9 59.0h.8M246.7 69.1h.8M256.0 63.4h.8M255.9 61.9h.8M235.5 57.3h.8M249.0 66.7h.8M250.0 63.3h.8M242.8 67.3h.8M246.1 58.2h.8M259.3 61.0h.8M250.2 63.4h.8M256.3 64.3h.8M257.9 64.2h.8M242.2 61.6h.8M252.6 60.4h.8M255.2 62.5h.8M237.8 60.2h.8M245.2 69.8h.8M253.7 63.5h.8M238.1 70.3h.8M243.9 63.4h.8M242.5 68.2h.8M248.1 61.7h.8M248.2 59.8h.8M236.7 62.8h.8M265.1 59.4h.8M245.2 57.7h.8M248.1 64.2h.8M253.4 58.6h.8M240.9 61.1h.8M244.2 71.7h.8M244.6 63.3h.8M241.8 66.3h.8M270.4 67.6h.8M260.8 59.5h.8M256.4 63.5h.8M258.2 67.2h.8M252.6 57.3h.8M247.7 61.6h.8M250.7 63.5h.8M256.3 57.6h.8M239.6 63.1h.8M249.5 61.9h.8M246.2 63.6h.8M256.3 63.0h.8M248.8 56.8h.8M249.8 55.0h.8M250.3 63.1h.8M246.5 60.7h.8M242.6 66.4h.8M249.8 63.3h.8M241.9 64.2h.8M257.6 63.3h.8M243.1 59.1h.8M247.4 60.1h.8M233.1 66.6h.8M240.7 56.0h.8M239.8 70.1h.8M245.5 58.6h.8M236.2 66.0h.8M250.3 64.2h.8M244.7 65.2h.8M260.9 65.2h.8M245.0 58.3h.8M250.7 69.1h.8M252.6 58.8h.8M248.2 68.1h.8M240.6 65.2h.8M257.8 69.3h.8M231.6 57.0h.8M250.0 66.0h.8M243.2 63.3h.8M242.7 67.8h.8M234.5 60.9h.8M232.2 60.1h.8M246.3 63.5h.8M263.2 62.6h.8M249.7 64.7h.8M248.9 68.7h.8M247.8 63.9h.8M245.4 63.4h.8M246.0 67.0h.8M246.7 63.6h.8M246.1 66.2h.8M242.1 66.8h.8M241.1 65.9h.8M264.5 64.2h.8M245.7 59.1h.8M253.4 63.4h.8M255.0 61.0h.8M251.4 70.0h.8M250.3 62.2h.8M234.3 63.4h.8M252.7 65.6h.8M236.0 59.7h.8M237.4 59.7h.8M243.9 64.4h.8M264.5 64.1h.8M260.1 57.4h.8M261.0 66.3h.8M250.6 66.4h.8M252.3 70.4h.8M254.1 57.1h.8M230.1 69.3h.8M245.7 68.2h.8M243.3 61.0h.8M243.3 64.6h.8M248.3 61.1h.8M251.5 65.7h.8M237.9 59.3h.8M228.1 62.3h.8M246.6 60.9h.8M240.8 62.9h.8M246.8 65.5h.8M254.3 65.0h.8M257.0 59.9h.8M252.2 64.8h.8M236.7 60.9h.8M250.7 63.7h.8M234.7 61.4h.8M260.8 66.5h.8M247.3 68.3h.8M238.0 62.8h.8M255.5 62.2h.8M236.0 65.5h.8M261.5 54.1h.8M247.9 58.8h.8M243.7 58.2h.8M270.9 60.9h.8M246.9 60.8h.8M237.2 61.7h.8M248.4 69.8h.8M249.2 69.1h.8M236.5 63.7h.8M242.4 57.7h.8M281.5 62.5h.8M248.8 60.6h.8M241.1 59.6h.8M256.1 61.9h.8M245.1 64.1h.8M235.0 64.3h.8M244.9 65.0h.8M242.9 63.5h.8M251.4 66.9h.8M240.0 67.0h.8M237.2 62.7h.8M247.7 63.9h.8M244.8 66.8h.8M239.9 68.9h.8M229.6 63.7h.8M251.6 63.5h.8M249.0 66.8h.8M238.9 65.6h.8M256.5 62.5h.8M238.5 59.5h.8M250.5 60.5h.8M269.8 65.5h.8M234.2 62.4h.8M260.8 65.9h.8M236.9 67.2h.8M242.0 71.5h.8M241.3 65.6h.8M251.8 61.8h.8M245.1 67.6h.8M251.2 63.2h.8M250.7 69.8h.8M255.3 65.1h.8M249.6 57.7h.8M247.8 61.6h.8M253.4 61.2h.8M250.7 59.6h.8M254.9 60.7h.8M246.2 65.5h.8M243.5 63.4h.8M256.5 69.9h.8M229.6 60.1h.8M252.8 66.8h.8M242.1 63.7h.8M244.7 71.7h.8M244.6 59.0h.8M231.9 58.7h.8M258.7 62.0h.8M264.8 65.7h.8M250.1 65.8h.8M253.9 66.8h.8M237.3 61.4h.8M241.4 63.8h.8M244.1 58.9h.8M240.0 69.9h.8M266.4 60.3h.8M250.1 63.3h.8M238.6 66.0h.8M245.8 69.5h.8M250.8 62.3h.8M254.5 60.8h.8M254.8 65.9h.8M229.9 62.7h.8M249.5 66.2h.8M248.0 63.3h.8M243.2 62.3h.8M246.5 59.5h.8M252.5 62.2h.8M251.4 61.5h.8M250.4 63.9h.8M254.9 65.1h.8M255.3 62.8h.8M246.0 62.4h.8M234.7 62.9h.8M256.7 66.2h.8M238.5 64.5h.8M253.6 58.4h.8M249.8 64.6h.8M253.5 64.3h.8M230.2 56.0h.8M265.1 62.0h.8M258.4 68.0h.8M247.3 59.2h.8M259.3 63.3h.8M251.4 65.1h.8M255.4 67.1h.8M233.2 58.3h.8M247.8 63.4h.8M253.8 62.9h.8M244.8 70.8h.8M259.4 67.6h.8M256.2 60.5h.8M245.7 63.1h.8M236.2 60.2h.8M248.0 59.0h.8M251.6 65.1h.8M244.3 62.2h.8M252.2 65.1h.8M249.9 58.9h.8M231.3 70.9h.8M240.4 62.1h.8M229.4 60.5h.8M239.6 66.3h.8M242.6 61.6h.8M239.2 61.8h.8M231.7 64.4h.8M257.7 64.0h.8M241.5 68.0h.8M251.1 59.7h.8M241.1 61.2h.8M246.1 67.8h.8M239.9 62.9h.8M247.6 59.1h.8M242.0 65.6h.8M257.1 56.6h.8M253.1 62.3h.8M258.6 65.7h.8M265.0 64.5h.8M242.8 60.4h.8M233.1 65.4h.8M251.3 66.4h.8M249.8 58.0h.8M242.7 62.5h.8M248.0 66.2h.8M259.8 64.4h.8M235.2 64.3h.8M244.4 67.5h.8M256.6 61.7h.8M255.4 63.4h.8M250.8 68.3h.8M235.7 63.2h.8M260.9 60.6h.8M248.5 63.9h.8M242.6 58.7h.8M240.1 59.8h.8M256.7 64.3h.8M253.1 59.1h.8M251.2 63.9h.8M256.3 60.8h.8M254.1 68.4h.8M263.4 60.0h.8M236.0 58.1h.8M255.5 65.6h.8M249.7 60.3h.8M258.3 69.2h.8M246.2 63.0h.8M257.7 65.2h.8M259.1 61.9h.8M249.7 62.2h.8M241.2 62.3h.8M243.8 65.2h.8M243.7 63.7h.8M238.9 59.0h.8M259.9 59.8h.8M263.5 66.8h.8M242.6 63.5h.8M244.8 61.2h.8M258.3 62.9h.8M255.5 60.9h.8M240.0 68.2h.8M243.9 59.4h.8M244.9 67.2h.8M245.0 60.8h.8M252.5 67.0h.8M244.6 62.2h.8M243.1 73.2h.8M244.7 69.7h.8M245.1 64.9h.8M247.0 62.3h.8M242.7 58.5h.8M232.5 64.0h.8M240.5 63.1h.8M244.8 61.6h.8M239.7 70.1h.8M236.2 61.6h.8M243.7 59.2h.8M237.5 66.5h.8M255.3 63.9h.8M276.9 66.4h.8M258.1 60.5h.8M256.7 69.5h.8M243.0 69.9h.8M239.0 59.3h.8M246.1 60.5h.8M252.5 59.4h.8M247.3 56.3h.8M246.2 67.2h.8M244.0 64.5h.8M256.8 59.4h.8M234.6 63.7h.8M249.1 62.4h.8M237.4 67.8h.8M235.6 62.5h.8M246.1 66.0h.8M242.3 60.4h.8M265.4 60.3h.8M254.0 62.8h.8M242.1 63.2h.8M244.1 64.5h.8M247.2 59.9h.8M242.9 71.9h.8M263.8 65.7h.8M248.7 62.3h.8M259.6 61.8h.8M238.8 65.9h.8M237.5 60.5h.8M260.1 57.6h.8M245.9 63.8h.8M249.0 58.1h.8M244.4 62.2h.8M264.6 67.0h.8M239.4 66.6h.8M252.7 63.0h.8M244.3 62.4h.8M232.1 61.1h.8M255.3 68.6h.8M263.9 62.0h.8M252.3 54.7h.8M244.0 58.8h.8M254.3 57.4h.8M236.8 59.4h.8M250.3 66.4h.8M237.9 69.9h.8M248.0 60.4h.8M249.8 63.4h.8M254.3 64.6h.8M267.1 67.6h.8M240.6 66.2h.8M253.7 59.8h.8M239.5 60.5h.8M244.5 67.9h.8M241.3 63.7h.8M253.3 66.9h.8M249.5 59.6h.8M267.2 66.5h.8M259.3 69.2h.8M259.7 64.9h.8M251.0 65.7h.8M232.5 66.3h.8M237.4 64.9h.8M237.1 66.0h.8M242.0 72.4h.8M248.4 65.2h.8M238.1 62.4h.8M246.0 62.4h.8M242.5 60.2h.8M253.7 62.0h.8M238.9 64.7h.8M239.0 62.8h.8M241.8 60.1h.8M244.4 60.4h.8M234.8 64.7h.8M243.8 58.1h.8M242.9 64.1h.8M250.6 64.8h.8M248.9 65.6h.8M241.9 60.5h.8M252.3 61.9h.8M246.7 65.8h.8M255.4 67.8h.8M240.1 62.1h.8M251.8 58.2h.8M234.8 65.6h.8M240.8 60.1h.8M254.1 65.3h.8M255.2 62.2h.8M243.9 62.2h.8M249.4 56.1h.8M240.1 66.0h.8M239.3 63.2h.8M247.7 65.3h.8M242.1 59.3h.8M269.9 60.8h.8M262.6 57.1h.8M247.6 62.7h.8M264.3 70.7h.8M255.7 59.8h.8M239.1 60.7h.8M241.8 64.3h.8M239.2 62.5h.8M260.3 68.6h.8M229.2 60.0h.8M243.1 68.1h.8M243.5 70.3h.8M250.0 68.6h.8M238.6 62.3h.8M256.1 65.5h.8M229.1 62.4h.8M248.3 65.7h.8M240.7 69.7h.8M248.0 68.6h.8M250.4 63.7h.8M243.6 59.2h.8M254.7 66.1h.8M255.3 62.1h.8M237.2 62.0h.8M243.7 63.4h.8M255.8 60.1h.8M242.0 65.9h.8M255.0 71.4h.8M251.5 60.4h.8M236.9 60.6h.8M247.3 64.3h.8M246.0 61.2h.8M244.9 63.1h.8M252.1 63.7h.8M239.0 59.2h.8M260.4 63.1h.8M245.0 63.3h.8M257.1 62.3h.8M248.2 62.6h.8M252.0 59.8h.8M248.5 67.1h.8M257.7 65.6h.8M249.4 69.0h.8M253.2 68.4h.8M235.4 59.5h.8M254.1 62.5h.8M242.6 60.0h.8M260.5 59.1h.8M247.6 58.4h.8M245.0 71.5h.8M269.3 61.6h.8M237.2 69.2h.8M238.6 57.0h.8M249.9 59.5h.8M233.1 67.4h.8M239.8 59.6h.8M248.2 62.7h.8M257.1 63.7h.8M261.4 67.5h.8M263.2 67.4h.8M247.3 65.4h.8M246.8 57.8h.8M235.7 66.1h.8M234.7 63.2h.8M237.0 64.3h.8M244.8 61.7h.8M238.8 55.5h.8M247.3 58.8h.8M243.9 64.7h.8M256.4 65.9h.8M260.4 58.3h.8M252.9 69.0h.8M250.3 59.4h.8M250.3 61.6h.8M240.7 67.2h.8M245.0 59.4h.8M240.4 70.4h.8M238.8 65.8h.8M248.3 67.6h.8M244.1 60.0h.8M240.7 59.7h.8M270.8 64.1h.8M243.7 67.9h.8M252.8 62.8h.8M252.4 64.4h.8M257.1 69.3h.8M243.7 63.3h.8M245.0 67.8h.8M250.2 66.2h.8M255.0 61.1h.8M247.8 68.4h.8M255.2 66.3h.8M244.0 62.1h.8M238.7 62.4h.8M246.1 58.3h.8M257.4 60.7h.8M249.0 65.6h.8M241.5 56.9h.8M255.6 64.9h.8M244.3 67.5h.8M255.0 60.0h.8M245.9 57.1h.8M244.2 68.5h.8M238.9 66.4h.8M232.7 62.4h.8M255.4 69.6h.8M250.9 66.1h.8M262.6 54.7h.8M230.8 70.2h.8M269.5 65.5h.8M247.3 64.3h.8M246.9 61.2h.8M246.5 63.0h.8M252.9 65.8h.8M255.7 65.5h.8M237.7 68.4h.8M249.7 61.5h.8M264.0 59.5h.8M235.8 61.6h.8M250.5 66.3h.8M247.7 65.8h.8M240.2 61.2h.8M247.9 58.6h.8M248.4 62.0h.8M253.0 59.8h.8M241.8 61.4h.8M243.3 59.8h.8M244.3 58.6h.8M251.6 65.8h.8M246.5 62.7h.8M238.4 60.0h.8M244.6 60.2h.8M235.8 64.0h.8M246.5 62.0h.8M239.1 63.2h.8M240.3 61.9h.8M248.4 66.0h.8M253.6 61.2h.8M257.8 59.3h.8M245.1 68.1h.8M268.5 63.9h.8M243.3 62.1h.8M235.5 62.9h.8M242.7 60.7h.8M257.7 60.6h.8M262.3 66.4h.8M252.6 61.3h.8M242.0 56.3h.8M249.2 62.4h.8M250.2 61.0h.8M251.1 58.1h.8M256.5 52.2h.8M258.5 62.2h.8M245.2 57.9h.8M237.5 66.0h.8M239.9 63.3h.8M245.2 70.5h.8M254.8 58.7h.8M242.2 59.3h.8M233.9 61.0h.8M256.8 63.6h.8M252.8 62.9h.8M242.8 63.7h.8M245.9 70.3h.8M263.2 64.8h.8M252.2 56.3h.8M245.5 72.0h.8M239.3 66.3h.8M257.8 62.0h.8M244.6 61.8h.8M253.9 63.5h.8M260.4 67.7h.8M246.5 72.7h.8M243.8 61.2h.8M244.5 60.3h.8M242.8 63.2h.8M254.8 57.8h.8M233.8 60.6h.8M243.8 65.0h.8M239.4 68.8h.8M241.8 62.6h.8M247.1 67.6h.8M249.4 63.5h.8M241.7 64.0h.8M250.3 62.2h.8M246.4 56.8h.8M241.8 67.6h.8M259.6 63.1h.8M245.1 72.6h.8M242.8 67.0h.8M241.0 68.3h.8M257.2 59.6h.8M258.5 73.7h.8M244.6 59.1h.8M249.2 62.0h.8M232.9 59.6h.8M248.9 57.9h.8M256.5 65.0h.8M245.0 68.4h.8M238.1 65.9h.8M234.2 62.2h.8M252.5 61.5h.8M245.6 65.7h.8M260.6 68.1h.8M250.8 62.5h.8M233.4 69.6h.8M263.8 55.7h.8M254.6 63.3h.8M253.1 64.5h.8M244.8 63.4h.8M246.3 67.6h.8M244.2 61.5h.8M252.6 65.7h.8M250.6 64.4h.8M260.1 67.4h.8M248.5 62.6h.8M252.6 56.7h.8M241.8 60.9h.8M248.2 62.0h.8M269.1 66.1h.8M250.3 71.5h.8M246.6 62.3h.8M257.9 66.4h.8M255.1 67.8h.8M243.3 61.0h.8M240.0 63.8h.8M255.8 59.6h.8M241.7 58.6h.8M264.9 66.3h.8M248.6 59.0h.8M237.2 61.1h.8M246.9 58.8h.8M244.5 67.8h.8M246.7 63.8h.8M245.3 60.9h.8M233.9 63.1h.8M237.2 61.4h.8M232.0 63.1h.8M254.9 60.4h.8M249.6 57.9h.8M251.9 65.4h.8M243.0 66.6h.8M238.6 63.6h.8M262.0 63.3h.8M236.3 67.6h.8M251.5 62.4h.8M230.0 56.6h.8M232.7 68.7h.8M249.3 60.3h.8M257.1 68.7h.8M238.9 65.1h.8M231.6 64.7h.8M263.2 58.3h.8M247.1 61.1h.8M245.7 63.7h.8M249.1 66.6h.8M251.3 67.2h.8M255.8 67.4h.8M240.4 64.9h.8M243.2 60.4h.8M264.4 64.5h.8M247.0 55.8h.8M244.5 66.2h.8M244.7 61.4h.8M260.0 62.3h.8M243.6 63.0h.8M244.4 67.2h.8M251.8 63.1h.8M243.3 62.6h.8M262.0 62.3h.8M252.5 57.7h.8M249.5 65.9h.8M258.2 64.5h.8M251.9 64.6h.8M256.3 70.8h.8M248.4 60.5h.8M252.0 63.0h.8M252.4 66.2h.8M248.0 61.8h.8M249.4 58.9h.8M249.1 60.2h.8M250.7 63.8h.8M244.6 59.1h.8M247.0 60.9h.8M245.3 65.9h.8M255.3 58.8h.8M255.1 68.3h.8M256.8 64.4h.8M245.8 69.7h.8M243.7 57.9h.8M247.4 64.4h.8M237.2 59.0h.8M264.6 63.8h.8M253.7 61.3h.8M232.8 62.8h.8M258.8 61.0h.8M230.3 62.8h.8M244.0 63.5h.8M237.1 62.3h.8M241.7 66.6h.8M248.0 66.5h.8M246.1 55.7h.8M228.8 65.3h.8M254.6 66.6h.8M245.9 57.0h.8M242.1 64.9h.8M259.1 62.2h.8M241.5 60.6h.8M255.9 66.5h.8M230.0 67.8h.8M238.2 58.1h.8M232.1 60.8h.8M267.7 72.6h.8M235.3 61.0h.8M248.0 64.9h.8M242.3 57.7h.8M242.9 60.9h.8M230.3 63.9h.8M233.3 57.1h.8M260.4 66.8h.8M259.8 63.8h.8M242.9 63.1h.8M234.2 66.1h.8M249.1 62.3h.8M229.6 63.0h.8M261.4 68.6h.8M254.6 62.1h.8M247.9 65.4h.8M248.4 67.2h.8M240.6 55.0h.8M234.0 65.8h.8M256.4 63.4h.8M251.5 63.7h.8M248.2 61.7h.8M242.9 67.7h.8M244.2 63.3h.8M257.5 67.0h.8M243.0 64.3h.8M237.4 63.9h.8M249.5 63.4h.8M248.1 64.7h.8M247.3 61.6h.8M237.8 62.5h.8M261.2 62.6h.8M240.7 61.7h.8M235.8 65.2h.8M237.6 66.7h.8M254.9 65.5h.8M256.1 63.1h.8M230.6 63.2h.8M252.4 57.8h.8M235.5 67.4h.8M250.6 68.3h.8M252.7 63.6h.8M250.5 66.5h.8M246.4 62.6h.8M249.5 62.3h.8M268.6 60.6h.8M232.8 58.7h.8M256.1 61.9h.8M248.1 62.6h.8M249.1 58.2h.8M247.4 61.3h.8M256.5 65.7h.8M235.1 59.9h.8M251.8 67.7h.8M253.6 62.8h.8M256.8 54.9h.8M241.7 59.9h.8M237.2 65.4h.8M249.2 64.4h.8M245.4 65.6h.8M253.8 61.3h.8M255.2 60.0h.8M262.7 58.7h.8M244.0 59.5h.8M247.0 68.2h.8M239.8 69.8h.8M259.5 64.8h.8M241.2 66.7h.8M255.4 63.3h.8M269.4 61.0h.8M234.4 62.6h.8M251.9 69.6h.8M230.5 64.0h.8M258.2 61.0h.8M242.4 59.0h.8M253.7 66.4h.8M252.0 64.3h.8M255.7 63.0h.8M253.2 66.4h.8M258.6 65.3h.8M247.4 66.0h.8M232.4 57.0h.8M261.5 63.9h.8M237.0 61.3h.8M245.2 63.7h.8M239.6 67.0h.8M230.9 73.6h.8M236.6 69.4h.8M252.8 57.3h.8M235.3 63.6h.8M249.1 61.9h.8M246.7 64.0h.8M236.1 63.6h.8M267.6 61.1h.8M237.3 65.8h.8M259.1 67.2h.8M240.8 63.1h.8M248.5 62.6h.8M250.3 67.3h.8M251.7 63.4h.8M244.8 69.9h.8M235.2 70.7h.8M253.5 63.7h.8M239.7 70.1h.8M257.9 66.7h.8M266.0 56.9h.8M247.6 62.3h.8M239.9 63.7h.8M251.6 65.3h.8M245.3 58.6h.8M251.8 65.6h.8M266.3 66.8h.8M246.8 59.2h.8M272.0 60.9h.8M248.5 66.1h.8M251.3 68.3h.8M237.0 60.9h.8M248.3 58.9h.8M240.9 68.5h.8M249.4 63.0h.8M241.3 63.6h.8M246.3 59.5h.8M254.0 58.7h.8M258.6 62.2h.8M249.3 60.2h.8M263.6 68.5h.8M266.3 66.7h.8M259.3 61.2h.8M258.8 61.8h.8M246.2 58.4h.8M247.2 64.9h.8M246.0 59.3h.8M255.1 66.7h.8M245.8 66.3h.8M255.9 59.8h.8M246.3 56.6h.8M236.9 65.0h.8M238.4 64.8h.8M250.0 55.8h.8M242.1 69.0h.8M246.8 63.9h.8M240.0 57.5h.8M231.6 74.0h.8M244.9 60.2h.8M247.7 56.3h.8M259.8 69.7h.8M239.5 64.6h.8M238.1 66.6h.8M238.7 62.9h.8M259.0 65.3h.8M243.5 57.8h.8M231.6 67.8h.8M251.5 63.6h.8M258.5 63.9h.8M239.7 63.0h.8M245.7 63.3h.8M270.2 65.5h.8M249.2 62.5h.8M240.2 59.7h.8M228.8 61.7h.8M232.2 56.6h.8M237.7 55.9h.8M259.6 68.0h.8M237.4 70.9h.8M252.9 54.1h.8M246.8 59.7h.8M230.1 62.4h.8M257.6 65.0h.8M232.7 61.0h.8M239.4 67.6h.8M245.7 59.8h.8M237.9 56.1h.8M238.6 66.7h.8M228.4 64.1h.8M245.5 66.4h.8M235.7 66.8h.8M261.4 71.9h.8M231.1 63.3h.8M244.6 63.9h.8M237.2 66.6h.8M268.9 69.0h.8M237.5 61.3h.8M253.5 63.9h.8M239.3 68.0h.8M251.5 67.2h.8M244.9 68.1h.8M242.1 59.3h.8M246.5 58.2h.8M258.5 66.1h.8M230.6 64.0h.8M254.7 62.1h.8M250.5 61.2h.8M245.9 63.1h.8M251.2 59.8h.8M235.8 64.6h.8M241.7 65.3h.8M241.8 58.5h.8M253.6 64.4h.8M253.5 62.1h.8M243.1 68.1h.8M230.4 69.8h.8M251.5 63.2h.8M247.4 65.6h.8M239.2 64.4h.8M237.5 56.5h.8M248.5 63.8h.8M252.7 65.5h.8M253.2 66.3h.8M236.5 67.9h.8M272.1 61.3h.8M234.5 65.9h.8M255.3 67.2h.8M261.2 58.3h.8M250.1 65.1h.8M258.5 60.1h.8M246.8 62.0h.8M245.0 62.9h.8M245.1 56.8h.8M246.2 63.7h.8M242.9 50.2h.8M239.9 61.0h.8M238.2 69.3h.8M255.4 62.7h.8M252.3 75.6h.8M237.3 65.2h.8M240.8 68.9h.8M257.1 62.9h.8M252.4 60.4h.8M231.4 66.5h.8M262.2 62.3h.8M241.5 56.7h.8M267.1 58.9h.8M237.3 62.7h.8M258.1 63.6h.8M246.3 63.5h.8M254.6 63.3h.8M248.0 63.1h.8M235.9 68.4h.8M239.9 58.5h.8M242.4 63.5h.8M254.4 57.9h.8M234.4 64.1h.8M250.2 59.3h.8M235.7 64.1h.8M245.2 57.4h.8M238.1 68.9h.8M236.4 67.3h.8M231.9 68.9h.8M261.8 61.0h.8M240.0 65.7h.8M234.7 65.4h.8M258.2 64.4h.8M249.6 62.8h.8M256.1 60.4h.8M261.7 63.3h.8M243.4 57.3h.8M242.3 64.3h.8M258.4 57.4h.8M245.3 60.8h.8M235.1 63.4h.8M239.3 66.6h.8M228.3 56.2h.8M251.5 62.1h.8M247.7 59.8h.8M236.5 60.7h.8M246.0 60.3h.8M242.5 60.2h.8M248.7 59.2h.8M246.3 63.8h.8M255.7 60.6h.8M235.6 57.9h.8M253.7 61.1h.8M255.9 63.1h.8M243.9 56.5h.8M240.0 66.3h.8M240.7 65.9h.8M230.8 67.2h.8M273.1 67.5h.8M249.6 58.8h.8M241.5 61.0h.8M248.3 55.9h.8M238.3 66.3h.8M247.9 66.2h.8M254.6 59.1h.8M233.7 65.1h.8M246.8 63.7h.8M238.7 67.2h.8M251.2 67.6h.8M243.1 66.0h.8M245.9 59.9h.8M245.7 57.3h.8M244.8 64.1h.8M253.1 59.5h.8M233.8 60.7h.8M271.4 63.9h.8M239.3 60.9h.8M263.4 59.1h.8M245.4 63.1h.8M239.5 60.7h.8M230.5 60.3h.8M258.9 68.7h.8M243.8 66.0h.8M250.9 63.8h.8M245.2 67.9h.8M251.9 62.6h.8M244.3 66.9h.8M240.8 60.7h.8M243.9 61.6h.8M258.5 64.7h.8M245.7 61.4h.8M260.0 65.0h.8M266.4 66.8h.8M244.5 61.4h.8M243.8 64.1h.8M254.0 65.2h.8M261.5 57.8h.8M246.8 58.1h.8M236.7 61.2h.8M240.3 59.8h.8M232.0 67.6h.8M243.4 67.0h.8M236.0 54.8h.8M240.8 66.7h.8M241.2 64.9h.8M236.2 68.6h.8M250.6 67.3h.8M243.9 68.2h.8M247.2 61.6h.8M240.4 63.6h.8M237.8 59.0h.8M247.7 66.0h.8M243.7 66.5h.8M261.6 58.7h.8M248.9 59.8h.8M240.4 64.1h.8M246.6 65.5h.8M275.6 65.3h.8M273.8 69.4h.8M264.7 67.1h.8M281.1 65.2h.8M251.9 63.1h.8M265.3 58.4h.8M267.5 66.0h.8M265.7 63.0h.8M281.3 61.6h.8M259.5 63.7h.8M278.1 65.5h.8M268.7 62.0h.8M279.1 66.4h.8M252.3 64.7h.8M246.3 68.4h.8M273.5 61.6h.8M256.3 62.6h.8M252.2 65.4h.8M263.4 57.9h.8M267.8 67.4h.8M256.5 62.5h.8M284.4 64.2h.8M263.0 64.2h.8M275.0 60.4h.8M267.1 58.4h.8M253.7 58.7h.8M275.6 64.6h.8M274.6 67.5h.8M268.4 64.4h.8M271.7 65.1h.8M258.4 62.7h.8M266.6 63.7h.8M261.2 63.2h.8M270.6 64.2h.8M273.3 66.2h.8M273.0 66.7h.8M275.6 68.1h.8M273.7 61.6h.8M289.0 67.2h.8M279.3 65.9h.8M268.4 59.9h.8M271.9 62.5h.8M264.4 56.7h.8M282.0 59.9h.8M258.1 65.1h.8M273.1 61.1h.8M267.9 64.4h.8M269.4 65.3h.8M275.0 62.4h.8M253.4 70.5h.8M264.5 60.4h.8M274.8 65.5h.8M262.4 71.1h.8M246.8 67.7h.8M267.6 64.6h.8M270.9 62.9h.8M270.9 59.4h.8M264.4 69.5h.8M244.7 67.5h.8M247.8 60.9h.8M275.9 62.3h.8M262.8 58.8h.8M266.9 63.0h.8M262.2 58.6h.8M269.4 64.9h.8M278.3 65.2h.8M281.7 67.4h.8M242.5 68.9h.8M267.0 60.2h.8M271.9 66.7h.8M254.0 59.6h.8M274.2 61.8h.8M281.2 64.3h.8M263.0 59.3h.8M273.4 58.1h.8M256.2 59.4h.8M283.4 69.1h.8M266.0 62.4h.8M274.3 67.6h.8M260.7 70.7h.8M266.1 67.2h.8M246.7 63.4h.8M261.7 70.0h.8M266.1 59.5h.8M285.6 61.4h.8M268.0 59.6h.8M274.1 64.2h.8M265.4 62.3h.8M262.8 61.3h.8M255.3 67.5h.8M276.1 59.1h.8M257.5 64.9h.8M288.4 62.9h.8M265.2 62.8h.8M270.2 63.0h.8M277.8 66.8h.8M273.0 68.7h.8M265.9 61.8h.8M294.9 57.4h.8M253.9 56.0h.8M271.2 60.2h.8M277.6 56.9h.8M266.7 62.3h.8M258.2 67.2h.8M264.4 65.0h.8M263.2 64.1h.8M263.9 63.8h.8M267.1 61.4h.8M271.9 63.0h.8M259.2 60.2h.8M272.0 67.9h.8M256.1 62.3h.8M272.1 66.9h.8M274.4 59.8h.8M268.3 66.5h.8M270.2 62.9h.8M257.3 64.1h.8M267.4 63.7h.8M281.6 67.4h.8M260.8 64.3h.8M265.2 63.9h.8M282.8 66.5h.8M268.4 61.5h.8M266.5 64.8h.8M263.5 67.1h.8M268.2 59.8h.8M286.5 54.3h.8M265.6 63.2h.8M276.9 67.2h.8M281.2 68.6h.8M270.9 64.0h.8M277.2 63.5h.8M256.6 62.1h.8M274.0 65.6h.8M258.0 67.4h.8M270.8 58.8h.8M272.2 66.8h.8M272.8 62.6h.8M260.8 67.2h.8M270.0 63.6h.8M264.4 60.3h.8M251.0 62.5h.8M278.0 66.0h.8M261.8 68.5h.8M265.9 60.4h.8M276.8 68.0h.8M264.5 59.7h.8M267.4 55.8h.8M268.5 68.5h.8M270.5 61.2h.8M274.4 62.0h.8M279.4 62.4h.8M286.4 62.5h.8M269.7 60.6h.8M256.4 64.7h.8M271.2 60.5h.8M273.1 62.3h.8M263.0 63.4h.8M271.6 65.9h.8M279.2 64.8h.8M261.4 61.4h.8M271.3 59.8h.8M266.5 62.4h.8M267.1 64.2h.8M277.4 68.9h.8M276.0 66.8h.8M258.3 66.9h.8M279.7 59.3h.8M290.8 61.8h.8M246.5 69.3h.8M268.6 61.0h.8M262.8 67.0h.8M270.3 62.4h.8M278.4 60.6h.8M260.3 61.8h.8M261.2 65.8h.8M265.9 60.2h.8M263.8 57.2h.8M269.5 63.9h.8M273.5 62.8h.8M271.6 60.6h.8M268.2 64.1h.8M257.0 65.5h.8M269.3 63.8h.8M263.7 70.0h.8M268.0 61.1h.8M260.3 65.5h.8M266.1 61.1h.8M261.5 66.6h.8M268.8 67.0h.8M267.8 59.8h.8M275.8 64.6h.8M262.1 62.6h.8M259.2 66.3h.8M264.2 65.1h.8M270.3 62.8h.8M271.3 62.8h.8M257.3 62.3h.8M257.4 66.0h.8M273.9 61.7h.8M273.6 64.4h.8M276.8 60.6h.8M268.2 60.4h.8M261.8 68.0h.8M249.9 60.7h.8M272.4 66.1h.8M260.9 57.1h.8M252.5 64.8h.8M277.9 66.5h.8M261.4 67.9h.8M266.3 65.6h.8M266.3 68.7h.8M263.3 56.7h.8M265.2 64.2h.8M270.5 61.3h.8M265.9 60.0h.8M265.9 63.9h.8M270.2 68.9h.8M250.0 65.3h.8M271.9 59.9h.8M268.6 63.6h.8M259.0 65.9h.8M285.2 65.8h.8M275.0 67.0h.8M266.8 66.7h.8M260.7 64.2h.8M274.3 67.8h.8M265.4 62.7h.8M272.2 63.3h.8M269.2 66.2h.8M261.1 66.4h.8M271.4 62.8h.8M256.8 61.6h.8M267.6 66.6h.8M250.3 65.9h.8M269.7 60.0h.8M275.7 64.9h.8M271.9 60.5h.8M258.1 66.5h.8M280.6 64.8h.8M266.3 62.2h.8M252.6 66.7h.8M267.1 67.5h.8M261.5 66.9h.8M261.6 65.5h.8M280.3 61.4h.8M276.1 63.6h.8M259.6 64.2h.8M273.8 61.3h.8M265.6 61.8h.8M261.1 62.9h.8M275.4 62.0h.8M279.1 62.4h.8M261.8 67.0h.8M280.6 61.5h.8M273.2 59.9h.8M264.4 62.4h.8M274.3 59.6h.8M263.4 61.4h.8M268.9 59.7h.8M256.1 72.6h.8M269.9 58.8h.8M275.4 59.4h.8M251.2 68.9h.8M279.1 60.9h.8M258.3 65.1h.8M286.1 65.5h.8M273.9 59.8h.8M252.1 64.8h.8M277.0 64.0h.8M268.0 68.0h.8M260.5 67.1h.8M275.4 61.6h.8M269.1 63.9h.8M273.2 60.5h.8M265.9 63.9h.8M268.2 63.7h.8M270.2 63.0h.8M263.6 66.9h.8M262.3 62.6h.8M260.2 60.0h.8M272.0 63.5h.8M266.8 65.0h.8M266.5 65.7h.8M284.0 64.7h.8M265.6 68.8h.8M274.3 58.3h.8M279.8 64.3h.8M275.6 60.0h.8M260.5 61.6h.8M272.9 60.1h.8M261.7 66.6h.8M262.3 64.0h.8M260.0 58.2h.8M267.3 63.2h.8M255.3 66.7h.8M275.3 66.4h.8M263.5 60.0h.8M267.2 64.1h.8M241.8 80.8h.8M235.9 79.5h.8M242.4 81.7h.8M254.8 83.6h.8M246.2 81.9h.8M241.7 77.4h.8M239.6 72.7h.8M228.3 97.8h.8M235.5 89.8h.8M242.1 81.0h.8M248.1 81.1h.8M246.1 82.7h.8M249.9 94.4h.8M243.5 95.7h.8M246.6 99.7h.8M242.1 72.3h.8M244.5 88.1h.8M240.4 84.2h.8M241.1 74.9h.8M255.1 79.1h.8M235.4 72.0h.8M237.0 85.6h.8M253.4 91.3h.8M237.9 75.0h.8M235.1 85.3h.8M249.1 81.7h.8M254.3 103.0h.8M244.1 66.9h.8M250.7 85.1h.8M247.7 94.7h.8M235.9 86.6h.8M244.2 79.3h.8M247.9 84.8h.8M240.1 102.6h.8M244.2 100.4h.8M241.9 95.1h.8M237.7 87.3h.8M250.6 66.8h.8M246.8 83.6h.8M250.7 87.6h.8M242.4 74.7h.8M263.7 79.5h.8M240.7 79.6h.8M240.8 87.9h.8M233.6 95.3h.8M241.1 91.3h.8M228.1 81.4h.8M240.9 82.6h.8M238.3 88.7h.8M245.8 77.3h.8M229.2 92.4h.8M240.7 95.4h.8M249.1 85.1h.8M232.9 82.8h.8M237.8 96.9h.8M231.0 94.0h.8M232.1 80.9h.8M233.0 79.8h.8M239.9 89.2h.8M238.8 92.0h.8M255.3 87.4h.8M234.9 84.4h.8M242.2 82.8h.8M251.1 96.2h.8M257.0 90.6h.8M247.7 78.9h.8M238.7 94.0h.8M244.0 76.1h.8M238.9 58.8h.8M242.9 75.2h.8M242.6 75.5h.8M236.4 81.4h.8M262.5 75.5h.8M234.6 81.2h.8M250.4 93.0h.8M247.8 83.1h.8M243.9 79.2h.8M241.7 78.9h.8M232.7 77.2h.8M256.5 89.5h.8M237.7 85.0h.8M239.8 96.7h.8M242.7 80.4h.8M247.7 88.8h.8M238.1 79.2h.8M243.9 71.5h.8M236.5 94.9h.8M249.0 95.8h.8M239.8 80.7h.8M241.0 81.7h.8M251.9 84.0h.8M252.4 79.7h.8M245.6 100.3h.8M237.7 80.2h.8M238.7 71.8h.8M240.8 80.3h.8M258.4 81.8h.8M227.9 94.3h.8M249.6 85.7h.8M244.9 92.3h.8M239.0 86.3h.8M243.9 100.6h.8M252.8 87.4h.8M233.5 93.7h.8M242.5 96.3h.8M243.3 87.6h.8M247.5 79.5h.8M238.3 106.2h.8M236.8 94.2h.8M247.7 93.2h.8M252.5 74.2h.8M249.6 67.8h.8M243.3 88.9h.8M250.1 95.5h.8M236.4 83.6h.8M241.8 79.8h.8M237.2 80.1h.8M251.0 98.0h.8M248.2 100.8h.8M243.5 76.4h.8M238.3 87.8h.8M250.1 96.7h.8M236.6 94.4h.8M239.2 91.2h.8M249.3 99.0h.8M239.2 88.1h.8M245.9 82.3h.8M243.5 91.2h.8M231.4 80.3h.8M259.1 90.0h.8M239.0 69.8h.8M236.2 90.5h.8M247.7 89.9h.8M247.1 80.7h.8M254.1 76.1h.8M246.5 83.6h.8M230.9 93.9h.8M241.0 92.2h.8M251.8 87.4h.8M238.3 84.1h.8M242.4 98.7h.8M248.9 100.0h.8M248.2 79.2h.8M249.4 94.5h.8M242.0 90.1h.8M240.7 74.9h.8M242.3 92.7h.8M240.4 66.2h.8M237.3 95.6h.8M244.5 95.9h.8M237.6 82.3h.8M235.9 79.1h.8M246.5 87.2h.8M239.5 88.6h.8M233.7 82.5h.8M232.4 72.7h.8M233.4 76.3h.8M253.9 98.1h.8M251.7 80.9h.8M247.3 76.0h.8M239.1 88.1h.8M231.7 87.7h.8M247.2 67.7h.8M242.0 87.3h.8M235.0 91.0h.8M243.8 79.5h.8M254.4 88.3h.8M248.1 102.4h.8M239.4 84.0h.8M230.7 84.0h.8M246.0 108.2h.8M246.8 87.8h.8M234.0 78.4h.8M229.9 73.8h.8M243.7 88.6h.8M236.5 84.1h.8M237.3 91.5h.8M247.4 81.0h.8M239.7 75.1h.8M239.6 105.4h.8M242.8 93.6h.8M246.9 99.1h.8M240.6 78.0h.8M250.2 94.2h.8M238.2 95.7h.8M242.8 85.6h.8M255.8 90.7h.8M245.1 83.2h.8M244.3 95.4h.8M246.1 79.3h.8M246.0 84.9h.8M245.0 84.3h.8M240.2 66.4h.8M232.3 104.0h.8M247.7 81.9h.8M245.2 66.1h.8M244.6 94.7h.8M244.2 74.3h.8M249.7 81.3h.8M238.9 87.7h.8M240.8 104.1h.8M241.9 105.1h.8M246.1 74.9h.8M242.9 86.5h.8M253.0 97.4h.8M260.8 80.1h.8M239.8 106.8h.8M236.6 89.2h.8M254.2 77.0h.8M240.4 79.3h.8M246.6 89.6h.8M242.6 91.9h.8M237.4 82.6h.8M246.2 104.0h.8M242.6 86.5h.8M252.1 86.7h.8M252.0 88.1h.8M251.3 105.6h.8M236.1 96.4h.8M256.5 101.2h.8M261.2 94.0h.8M236.7 112.3h.8M231.7 112.2h.8M245.6 109.6h.8M234.0 107.4h.8M249.8 103.5h.8M250.4 104.2h.8M245.4 101.2h.8M232.9 102.6h.8M246.5 97.2h.8M228.5 90.1h.8M252.5 102.0h.8M237.3 115.1h.8M241.6 90.5h.8M239.6 96.1h.8M241.5 95.8h.8M243.4 108.1h.8M238.7 102.2h.8M241.7 111.4h.8M237.6 110.7h.8M252.1 102.3h.8M235.8 101.2h.8M229.9 99.1h.8M234.1 102.5h.8M240.2 108.6h.8M243.7 107.8h.8M242.5 106.5h.8M234.6 109.9h.8M252.5 114.0h.8M233.0 107.8h.8M230.9 110.8h.8M241.4 99.9h.8M237.4 101.9h.8M242.8 95.3h.8M243.3 106.3h.8M246.8 103.6h.8M250.3 106.9h.8M232.7 109.6h.8M247.1 80.1h.8M241.7 107.4h.8M243.2 104.9h.8M241.8 116.4h.8M245.7 101.5h.8M236.5 99.3h.8M245.3 105.3h.8M245.1 116.2h.8M251.3 107.8h.8M243.2 103.4h.8M241.2 113.0h.8M233.6 94.7h.8M239.5 95.3h.8M237.5 114.7h.8M233.2 101.8h.8M238.7 95.1h.8M231.9 104.6h.8M240.0 113.9h.8M256.6 101.4h.8M237.0 101.4h.8M246.4 112.4h.8M235.9 108.3h.8M242.7 114.3h.8M239.9 102.1h.8M236.6 92.1h.8M244.9 110.4h.8M251.2 106.4h.8M239.5 95.7h.8M234.3 97.5h.8M245.4 104.8h.8M240.8 94.6h.8M242.8 108.8h.8M235.3 91.8h.8" stroke="#111" stroke-opacity="0.34" stroke-width="1.0" fill="none" filter="url(#bl)"/><path d="M226.6 55.9H290V72.7H226.6M258.5 55.9V121.2" fill="none" stroke="#5c5c5c" stroke-width="1"/><path d="M239.3 121.2v1.5M226.6 108.7h-1.5M241.3 121.2v1.5M226.6 106.7h-1.5M243.0 121.2v1.5M226.6 105.0h-1.5M244.4 121.2v1.5M226.6 103.6h-1.5M245.6 121.2v1.5M226.6 102.4h-1.5M246.7 121.2v1.5M226.6 101.4h-1.5M247.7 121.2v2.4M226.6 100.4h-2.4M254.0 121.2v1.5M226.6 94.1h-1.5M257.7 121.2v1.5M226.6 90.5h-1.5M260.3 121.2v1.5M226.6 87.9h-1.5M262.4 121.2v1.5M226.6 85.9h-1.5M264.0 121.2v1.5M226.6 84.2h-1.5M265.4 121.2v1.5M226.6 82.8h-1.5M266.7 121.2v1.5M226.6 81.6h-1.5M267.7 121.2v1.5M226.6 80.6h-1.5M268.7 121.2v2.4M226.6 79.6h-2.4M275.0 121.2v1.5M226.6 73.3h-1.5M278.7 121.2v1.5M226.6 69.7h-1.5M281.4 121.2v1.5M226.6 67.1h-1.5M283.4 121.2v1.5M226.6 65.1h-1.5M285.1 121.2v1.5M226.6 63.4h-1.5M286.5 121.2v1.5M226.6 62.0h-1.5M287.7 121.2v1.5M226.6 60.8h-1.5M288.8 121.2v1.5M226.6 59.8h-1.5M289.8 121.2v2.4M226.6 58.8h-2.4M296.1 121.2v1.5M226.6 52.5h-1.5M299.8 121.2v1.5M226.6 48.9h-1.5M302.4 121.2v1.5M226.6 46.3h-1.5M304.5 121.2v1.5M226.6 44.3h-1.5M306.1 121.2v1.5M226.6 42.6h-1.5M307.5 121.2v1.5M226.6 41.2h-1.5M308.8 121.2v1.5M226.6 40.0h-1.5M309.8 121.2v1.5M226.6 39.0h-1.5" stroke="#111" stroke-width="0.6" fill="none" stroke-opacity="0.85"/><rect x="226.6" y="38" width="84.20000000000002" height="83.2" fill="none" stroke="#111" stroke-width="1.15"/><text x="269" y="31.9" font-size="12.2" text-anchor="middle" font-style="italic" fill="#111">hd/hd</text><text x="228.0" y="55" font-size="7.8" fill="#111">78.9</text><text x="290.6" y="79.4" font-size="7.8" text-anchor="end" fill="#111">13</text><text x="227.9" y="119.5" font-size="7.8" fill="#111">7.8</text><line x1="30" y1="120.3" x2="30" y2="43" stroke="#111" stroke-width="1.1"/><path d="M30 39L27.65 45.3L32.35 45.3Z" fill="#111"/><text transform="translate(28 107.2) rotate(-90)" font-size="10" text-anchor="middle" fill="#111">CD44</text><line x1="34.4" y1="130.1" x2="304.5" y2="130.1" stroke="#111" stroke-width="1.1"/><path d="M308.5 130.1L302.2 127.75L302.2 132.45Z" fill="#111"/><text x="35.3" y="142.4" font-size="10.2" fill="#111" textLength="25.2" lengthAdjust="spacingAndGlyphs">NK1.1</text><path d="M390.25 115.9V114.8M386.25 114.8H394.25" stroke="#000" stroke-width="1.8" fill="none"/><rect x="383.9" y="115.9" width="12.7" height="5.4" fill="#b3b3b3"/><line x1="390.25" y1="121.3" x2="390.25" y2="123.89999999999999" stroke="#000" stroke-width="1"/><path d="M410.55 115.3V114.8M406.55 114.8H414.55" stroke="#000" stroke-width="1.8" fill="none"/><rect x="403.8" y="115.3" width="13.5" height="6.0" fill="#000"/><line x1="410.55" y1="121.3" x2="410.55" y2="123.89999999999999" stroke="#000" stroke-width="1"/><path d="M437.95 99.1V95.3M433.95 95.3H441.95" stroke="#000" stroke-width="1.8" fill="none"/><rect x="431.4" y="99.1" width="13.1" height="22.2" fill="#b3b3b3"/><line x1="437.95" y1="121.3" x2="437.95" y2="123.89999999999999" stroke="#000" stroke-width="1"/><path d="M458.4 57.0V47.9M454.4 47.9H462.4" stroke="#000" stroke-width="1.8" fill="none"/><rect x="451.8" y="57.0" width="13.2" height="64.3" fill="#000"/><line x1="458.4" y1="121.3" x2="458.4" y2="123.89999999999999" stroke="#000" stroke-width="1"/><path d="M485.65 66.9V61.1M481.65 61.1H489.65" stroke="#000" stroke-width="1.8" fill="none"/><rect x="478.8" y="66.9" width="13.7" height="54.4" fill="#b3b3b3"/><line x1="485.65" y1="121.3" x2="485.65" y2="123.89999999999999" stroke="#000" stroke-width="1"/><path d="M505.9 108.1V106.4M501.9 106.4H509.9" stroke="#000" stroke-width="1.8" fill="none"/><rect x="499.3" y="108.1" width="13.2" height="13.2" fill="#000"/><line x1="505.9" y1="121.3" x2="505.9" y2="123.89999999999999" stroke="#000" stroke-width="1"/><path d="M380.5 30.0V121.3H516" stroke="#000" stroke-width="2" fill="none"/><line x1="375.9" y1="121.3" x2="380.5" y2="121.3" stroke="#000" stroke-width="1.6"/><text transform="translate(375.7 125.0) scale(0.89 1)" font-size="11.4" text-anchor="end" fill="#000">0</text><line x1="375.9" y1="103.2" x2="380.5" y2="103.2" stroke="#000" stroke-width="1.6"/><text transform="translate(375.7 106.9) scale(0.89 1)" font-size="11.4" text-anchor="end" fill="#000">20</text><line x1="375.9" y1="85.1" x2="380.5" y2="85.1" stroke="#000" stroke-width="1.6"/><text transform="translate(375.7 88.8) scale(0.89 1)" font-size="11.4" text-anchor="end" fill="#000">40</text><line x1="375.9" y1="66.9" x2="380.5" y2="66.9" stroke="#000" stroke-width="1.6"/><text transform="translate(375.7 70.7) scale(0.89 1)" font-size="11.4" text-anchor="end" fill="#000">60</text><line x1="375.9" y1="48.8" x2="380.5" y2="48.8" stroke="#000" stroke-width="1.6"/><text transform="translate(375.7 52.6) scale(0.89 1)" font-size="11.4" text-anchor="end" fill="#000">80</text><line x1="375.9" y1="30.7" x2="380.5" y2="30.7" stroke="#000" stroke-width="1.6"/><text transform="translate(375.7 34.5) scale(0.89 1)" font-size="11.4" text-anchor="end" fill="#000">100</text><text transform="translate(351.5 73.8) rotate(-90)" font-size="11.3" text-anchor="middle" fill="#000"># cells *10<tspan font-size="7" dy="-4.6">-4</tspan></text><path d="M382.2 106.9V103.5H417.2V106.9" stroke="#111" stroke-width="1.1" fill="none"/><path d="M430 40.3V37H465.2V40.3" stroke="#111" stroke-width="1.1" fill="none"/><path d="M478.4 52.8V49.5H514.2V52.8" stroke="#111" stroke-width="1.1" fill="none"/><text x="400.8" y="101.6" font-size="8.3" text-anchor="middle" fill="#111">p= 0.8</text><text x="399.6" y="110.4" font-size="8.3" text-anchor="middle" fill="#111">ns</text><text x="447.7" y="33.9" font-size="8.3" text-anchor="middle" fill="#111">p&lt; 0.0001</text><text x="495.8" y="46.6" font-size="8.3" text-anchor="middle" fill="#111">p&lt; 0.0001</text><text x="448.3" y="45.2" font-size="9.4" text-anchor="middle" fill="#111">***</text><text x="495.2" y="57.6" font-size="9.4" text-anchor="middle" fill="#111">***</text><text x="388.0" y="132.5" font-size="7.3" text-anchor="middle" font-style="italic" fill="#111" style="stroke-width:0.4px">hd/+</text><text x="410.6" y="132.5" font-size="7.3" text-anchor="middle" font-style="italic" fill="#111" style="stroke-width:0.4px">hd/hd</text><text x="435.6" y="132.5" font-size="7.3" text-anchor="middle" font-style="italic" fill="#111" style="stroke-width:0.4px">hd/+</text><text x="457.6" y="132.5" font-size="7.3" text-anchor="middle" font-style="italic" fill="#111" style="stroke-width:0.4px">hd/hd</text><text x="483.7" y="132.5" font-size="7.3" text-anchor="middle" font-style="italic" fill="#111" style="stroke-width:0.4px">hd/+</text><text x="505.1" y="132.5" font-size="7.3" text-anchor="middle" font-style="italic" fill="#111" style="stroke-width:0.4px">hd/hd</text><text x="398.8" y="146.1" font-size="9.2" text-anchor="middle" fill="#111" textLength="27.8" lengthAdjust="spacingAndGlyphs">stage 1</text><text x="446.8" y="146.1" font-size="9.2" text-anchor="middle" fill="#111" textLength="27.8" lengthAdjust="spacingAndGlyphs">stage 2</text><text x="494.6" y="146.1" font-size="9.2" text-anchor="middle" fill="#111" textLength="27.8" lengthAdjust="spacingAndGlyphs">stage 3</text><text x="101.3" y="196.9" font-size="10.4" fill="#111" textLength="150" lengthAdjust="spacingAndGlyphs">Stage 2 Vα14<tspan font-style="italic">i</tspan> NKT thymocytes</text><path d="M49.0 284.0L51.0 282.7L53.0 282.0L54.5 275.9L56.0 272.0L57.2 264.4L58.5 258.0L59.5 252.5L60.5 246.0L61.5 241.7L62.5 236.0L63.5 228.7L64.5 222.0L65.5 218.3L66.5 212.5L67.5 212.5L68.5 213.0L69.5 213.8L70.5 217.0L71.2 222.7L72.0 230.0L73.0 240.0L74.0 248.0L75.0 255.5L76.0 262.0L77.0 266.4L78.0 273.0L79.0 275.4L80.0 279.0L81.0 279.7L82.0 281.0L82.8 280.0L83.5 279.0L84.2 276.3L85.0 276.0L85.8 275.3L86.5 272.5L87.2 272.8L88.0 273.0L88.8 273.9L89.5 276.0L90.2 274.3L91.0 275.0L92.0 277.2L93.0 279.0L94.5 281.6L96.0 282.0L97.5 283.6L99.0 284.0Z" fill="#e2e2e2"/><path d="M44.0 284.0L49.5 283.4L55.0 283.0L58.5 283.2L62.0 282.5L65.0 282.3L68.0 281.5L70.0 280.5L72.0 280.0L73.5 278.6L75.0 277.5L76.0 275.9L77.0 274.0L78.0 271.2L79.0 269.0L79.8 265.8L80.5 263.0L81.0 260.2L81.5 258.0L82.0 258.6L82.5 260.0L83.2 255.4L84.0 250.0L85.0 245.5L86.0 240.0L86.8 233.3L87.5 226.0L88.2 219.5L89.0 213.0L89.8 212.0L90.5 210.5L91.1 212.4L91.7 214.0L92.3 224.9L93.0 236.0L94.0 249.0L95.0 262.0L96.0 269.6L97.0 278.0L98.0 280.2L99.0 283.0L101.0 283.3L103.0 284.0" fill="none" stroke="#000" stroke-width="1.85" stroke-linejoin="round"/><path d="M47.0 284.0L49.0 283.8L51.0 282.0L52.5 280.3L54.0 277.0L55.0 272.9L56.0 268.0L57.0 263.5L58.0 261.0L59.0 255.1L60.0 250.0L61.0 246.7L62.0 243.0L62.8 239.8L63.5 237.0L64.2 235.4L65.0 235.0L65.8 235.8L66.5 238.5L67.2 237.6L68.0 235.0L68.8 236.4L69.5 237.0L70.2 235.8L71.0 235.5L71.7 237.7L72.3 240.0L72.9 245.8L73.5 250.0L74.2 252.7L75.0 257.0L75.8 260.8L76.5 264.0L77.2 265.4L78.0 268.0L78.8 269.9L79.5 270.0L80.2 270.2L81.0 269.0L81.8 267.5L82.5 264.0L83.2 258.2L84.0 253.0L85.0 247.5L86.0 242.0L86.8 234.6L87.5 228.0L88.2 220.7L89.0 214.0L89.8 213.5L90.7 211.0L91.2 213.5L91.8 214.0L92.4 226.1L93.0 236.0L94.0 249.9L95.0 262.0L96.0 270.0L97.0 278.0L98.0 280.9L99.0 283.0L101.5 284.4L104.0 284.0" fill="none" stroke="#747474" stroke-width="1.8" stroke-linejoin="round"/><path d="M89.3 217L90 212.5L90.7 210.8L91.5 212.5L92 217" fill="none" stroke="#111" stroke-width="1.6" stroke-linejoin="round"/><path d="M37.5 269.2h-2M37.5 254.2h-2M37.5 239.2h-2M37.5 224.2h-2M37.5 209.2h-2M49.5 285v1.4M51.5 285v1.4M53.1 285v1.4M54.4 285v1.4M55.6 285v1.4M56.6 285v1.4M57.5 285v2.2M63.5 285v1.4M67.0 285v1.4M69.5 285v1.4M71.5 285v1.4M73.1 285v1.4M74.4 285v1.4M75.6 285v1.4M76.6 285v1.4M77.5 285v2.2M83.5 285v1.4M87.0 285v1.4M89.5 285v1.4M91.5 285v1.4M93.1 285v1.4M94.4 285v1.4M95.6 285v1.4M96.6 285v1.4M97.5 285v2.2M103.5 285v1.4M107.0 285v1.4M109.5 285v1.4M111.5 285v1.4M113.1 285v1.4M114.4 285v1.4M115.6 285v1.4M116.6 285v1.4" stroke="#111" stroke-width="0.5" fill="none" stroke-opacity="0.8"/><rect x="37.5" y="206" width="80.0" height="79" fill="none" stroke="#111" stroke-width="1.15"/><line x1="37.2" y1="292.5" x2="112.5" y2="292.5" stroke="#111" stroke-width="1.0"/><path d="M116.5 292.5L110.2 290.85L110.2 294.15Z" fill="#111"/><text x="77.1" y="303.3" font-size="10.4" text-anchor="middle" fill="#111">RORγT</text><path d="M131.0 284.0L132.0 277.6L133.0 272.0L133.8 274.4L134.5 276.0L135.2 268.3L136.0 262.0L136.8 264.3L137.5 268.0L138.2 263.0L139.0 256.0L139.8 259.7L140.5 262.0L141.2 257.1L142.0 250.0L142.8 253.7L143.5 256.0L144.2 249.2L145.0 244.0L145.8 247.0L146.5 250.0L147.2 243.9L148.0 236.0L148.8 240.3L149.5 243.0L150.2 235.8L151.0 230.0L151.8 234.0L152.5 238.0L153.2 232.2L154.0 226.0L155.0 227.7L156.0 232.0L157.0 226.3L158.0 222.0L159.0 225.1L160.0 227.0L161.0 223.4L162.0 219.0L163.0 221.4L164.0 224.0L165.0 219.7L166.0 215.0L167.0 214.1L168.0 213.0L169.0 214.1L170.0 216.0L171.0 217.9L172.0 222.0L173.0 231.6L174.0 240.0L175.0 253.7L176.0 266.0L177.0 272.8L178.0 280.0L179.0 282.7L180.0 284.0Z" fill="#e2e2e2"/><path d="M134.0 284.0L136.0 284.0L138.0 282.5L140.0 282.2L142.0 281.0L143.5 280.7L145.0 279.0L146.5 278.8L148.0 276.5L149.5 274.2L151.0 274.0L152.0 273.5L153.0 271.0L154.0 269.9L155.0 269.0L156.0 267.1L157.0 264.0L158.0 262.5L159.0 260.0L159.8 256.1L160.5 254.0L161.2 251.2L162.0 248.0L162.8 243.1L163.5 240.0L164.2 235.5L165.0 230.0L165.8 224.1L166.5 219.0L167.2 215.2L168.0 212.0L168.7 213.5L169.3 216.0L169.9 214.9L170.5 212.5L171.2 215.6L172.0 218.0L172.8 224.6L173.5 232.0L174.2 242.5L175.0 252.0L176.0 261.3L177.0 272.0L178.0 277.2L179.0 281.0L180.5 282.7L182.0 284.0" fill="none" stroke="#747474" stroke-width="1.8" stroke-linejoin="round"/><path d="M134.0 284.0L140.0 284.0L146.0 283.5L149.0 283.4L152.0 283.0L154.0 283.0L156.0 282.0L157.5 281.2L159.0 280.0L160.5 278.5L162.0 277.0L163.0 275.1L164.0 273.0L165.0 269.6L166.0 266.0L166.8 261.8L167.5 258.0L168.2 251.8L169.0 246.0L169.8 239.3L170.5 232.0L171.2 225.3L172.0 218.0L172.7 214.7L173.3 210.5L173.9 212.4L174.5 214.0L175.0 223.0L175.5 232.0L176.2 242.9L177.0 254.0L177.8 263.2L178.5 272.0L179.2 276.6L180.0 281.0L181.5 282.9L183.0 284.0" fill="none" stroke="#000" stroke-width="1.85" stroke-linejoin="round"/><path d="M126.3 269.2h-2M126.3 254.2h-2M126.3 239.2h-2M126.3 224.2h-2M126.3 209.2h-2M138.3 285v1.4M140.3 285v1.4M141.9 285v1.4M143.2 285v1.4M144.4 285v1.4M145.4 285v1.4M146.3 285v2.2M152.3 285v1.4M155.8 285v1.4M158.3 285v1.4M160.3 285v1.4M161.9 285v1.4M163.2 285v1.4M164.4 285v1.4M165.4 285v1.4M166.3 285v2.2M172.3 285v1.4M175.8 285v1.4M178.3 285v1.4M180.3 285v1.4M181.9 285v1.4M183.2 285v1.4M184.4 285v1.4M185.4 285v1.4M186.3 285v2.2M192.3 285v1.4M195.8 285v1.4M198.3 285v1.4M200.3 285v1.4M201.9 285v1.4M203.2 285v1.4M204.4 285v1.4M205.4 285v1.4" stroke="#111" stroke-width="0.5" fill="none" stroke-opacity="0.8"/><rect x="126.3" y="206" width="80.00000000000001" height="79" fill="none" stroke="#111" stroke-width="1.15"/><line x1="126.0" y1="292.5" x2="201.3" y2="292.5" stroke="#111" stroke-width="1.0"/><path d="M205.3 292.5L199.0 290.85L199.0 294.15Z" fill="#111"/><text x="169" y="303.3" font-size="10.4" text-anchor="middle" fill="#111">CD103</text><path d="M223.0 284.0L224.5 280.6L226.0 276.0L227.0 268.7L228.0 262.0L228.8 254.4L229.5 248.0L230.2 247.8L231.0 250.0L232.0 244.7L233.0 238.0L234.0 232.8L235.0 228.0L236.0 224.7L237.0 222.0L238.0 217.8L239.0 216.0L239.8 215.5L240.5 215.0L241.2 218.5L242.0 220.0L243.0 223.4L244.0 228.0L245.0 234.6L246.0 240.0L247.0 246.7L248.0 252.0L249.0 256.4L250.0 260.0L251.5 264.2L253.0 268.0L254.5 269.8L256.0 273.0L258.0 275.5L260.0 277.0L262.0 279.2L264.0 281.0L266.0 283.7L268.0 284.0Z" fill="#e2e2e2"/><path d="M221.0 284.0L222.5 282.0L224.0 280.0L225.5 275.7L227.0 272.0L228.2 267.9L229.5 262.0L230.5 258.3L231.5 254.0L232.2 249.7L233.0 246.0L233.8 241.3L234.5 236.0L235.2 231.2L236.0 228.0L236.8 223.8L237.5 221.0L238.2 222.8L239.0 223.0L239.7 218.4L240.3 214.0L240.9 216.2L241.5 217.0L242.0 213.4L242.5 211.0L243.2 214.9L244.0 219.0L244.8 217.9L245.5 218.0L246.2 224.2L247.0 229.0L248.0 233.7L249.0 238.0L250.0 241.8L251.0 246.0L252.0 248.2L253.0 251.0L254.0 251.9L255.0 254.0L256.0 253.6L257.0 254.5L258.2 255.7L259.5 256.0L260.5 257.6L261.5 260.0L262.5 263.1L263.5 268.0L264.5 271.2L265.5 275.0L266.5 277.4L267.5 280.0L268.8 283.1L270.0 284.0" fill="none" stroke="#747474" stroke-width="1.8" stroke-linejoin="round"/><path d="M225.0 284.0L227.0 283.1L229.0 282.5L231.0 281.4L233.0 280.5L234.5 280.2L236.0 279.0L237.0 278.2L238.0 277.0L239.0 277.2L240.0 277.5L241.0 275.6L242.0 274.0L243.0 273.5L244.0 273.5L245.0 271.9L246.0 271.0L247.0 271.2L248.0 271.5L249.0 269.9L250.0 268.0L250.8 264.6L251.5 262.0L252.2 257.0L253.0 252.0L253.8 245.7L254.5 240.0L255.2 234.1L256.0 228.0L256.8 221.8L257.5 216.0L258.2 213.7L259.0 211.0L259.6 212.3L260.3 213.0L260.9 219.4L261.5 226.0L262.2 234.9L263.0 244.0L263.8 250.6L264.5 258.0L265.2 263.7L266.0 270.0L266.8 274.6L267.5 279.0L268.8 281.3L270.0 283.0L271.5 283.1L273.0 284.0" fill="none" stroke="#000" stroke-width="1.85" stroke-linejoin="round"/><path d="M216.3 269.2h-2M216.3 254.2h-2M216.3 239.2h-2M216.3 224.2h-2M216.3 209.2h-2M228.2 285v1.4M230.2 285v1.4M231.7 285v1.4M233.1 285v1.4M234.2 285v1.4M235.2 285v1.4M236.1 285v2.2M242.1 285v1.4M245.6 285v1.4M248.1 285v1.4M250.0 285v1.4M251.6 285v1.4M252.9 285v1.4M254.0 285v1.4M255.0 285v1.4M256.0 285v2.2M261.9 285v1.4M265.4 285v1.4M267.9 285v1.4M269.8 285v1.4M271.4 285v1.4M272.7 285v1.4M273.9 285v1.4M274.9 285v1.4M275.8 285v2.2M281.7 285v1.4M285.2 285v1.4M287.7 285v1.4M289.6 285v1.4M291.2 285v1.4M292.5 285v1.4M293.7 285v1.4M294.7 285v1.4" stroke="#111" stroke-width="0.5" fill="none" stroke-opacity="0.8"/><rect x="216.3" y="206" width="79.30000000000001" height="79" fill="none" stroke="#111" stroke-width="1.15"/><line x1="216.0" y1="292.5" x2="290.6" y2="292.5" stroke="#111" stroke-width="1.0"/><path d="M294.6 292.5L288.3 290.85L288.3 294.15Z" fill="#111"/><text x="261.4" y="303.3" font-size="10.4" text-anchor="middle" fill="#111">CD196</text><rect x="320.5" y="232.5" width="13.8" height="6.3" fill="#e2e2e2"/><line x1="321.2" y1="250" x2="333.8" y2="250" stroke="#8a8a8a" stroke-width="1.4"/><line x1="321.2" y1="264.2" x2="333.8" y2="264.2" stroke="#000" stroke-width="1.8"/><text x="341.8" y="239.4" font-size="10.4" font-style="italic" fill="#111">+/+</text><text x="341.8" y="252.6" font-size="10.4" font-style="italic" fill="#111">hd/+</text><text x="341" y="266.4" font-size="10.4" font-style="italic" fill="#111">hd/hd</text><path d="M59.4 347.5V445.9H206.3" stroke="#000" stroke-width="1.9" fill="none"/><line x1="55.6" y1="348.1" x2="59.4" y2="348.1" stroke="#000" stroke-width="1.2"/><text x="53.199999999999996" y="351.0" font-size="8" text-anchor="end" fill="#111">6.5</text><line x1="55.6" y1="364.4" x2="59.4" y2="364.4" stroke="#000" stroke-width="1.2"/><text x="53.199999999999996" y="367.3" font-size="8" text-anchor="end" fill="#111">6.0</text><line x1="55.6" y1="380.7" x2="59.4" y2="380.7" stroke="#000" stroke-width="1.2"/><text x="53.199999999999996" y="383.6" font-size="8" text-anchor="end" fill="#111">5.5</text><line x1="55.6" y1="397.0" x2="59.4" y2="397.0" stroke="#000" stroke-width="1.2"/><text x="53.199999999999996" y="399.9" font-size="8" text-anchor="end" fill="#111">5.0</text><line x1="55.6" y1="413.3" x2="59.4" y2="413.3" stroke="#000" stroke-width="1.2"/><text x="53.199999999999996" y="416.2" font-size="8" text-anchor="end" fill="#111">4.5</text><line x1="55.6" y1="429.6" x2="59.4" y2="429.6" stroke="#000" stroke-width="1.2"/><text x="53.199999999999996" y="432.5" font-size="8" text-anchor="end" fill="#111">4.0</text><line x1="55.6" y1="445.9" x2="59.4" y2="445.9" stroke="#000" stroke-width="1.2"/><text x="53.199999999999996" y="448.8" font-size="8" text-anchor="end" fill="#111">3.5</text><line x1="95.8" y1="445.9" x2="95.8" y2="449.09999999999997" stroke="#000" stroke-width="1.2"/><line x1="169.3" y1="445.9" x2="169.3" y2="449.09999999999997" stroke="#000" stroke-width="1.2"/><text transform="translate(36.2 394.8) rotate(-90)" font-size="9.3" text-anchor="middle" fill="#111">Log # cells</text><text x="94.5" y="460" font-size="10.6" text-anchor="middle" font-style="italic" fill="#111">hd/+</text><text x="168.8" y="460" font-size="10.6" text-anchor="middle" font-style="italic" fill="#111">hd/hd</text><path d="M96 357.0V352.2H169.5V357.0" stroke="#111" stroke-width="1.1" fill="none"/><text x="132.6" y="349.2" font-size="9.3" text-anchor="middle" fill="#111">p=0.0004</text><text x="133" y="360.2" font-size="8.2" text-anchor="middle" fill="#111">***</text><path d="M72 402.5H120M83.8 397.5H108.8M83.8 407H108.8M95.8 397.5V407" stroke="#000" stroke-width="1.35" fill="none"/><rect x="93.6" y="384.8" width="5.4" height="5.4" fill="#fff" stroke="#000" stroke-width="1.25"/><path d="M86.8 392.3L90.2 398.20000000000005L83.39999999999999 398.20000000000005Z" fill="#000"/><path d="M96.3 393.3L99.3 396.3L96.3 399.3L93.3 396.3Z" fill="#000"/><rect x="102.2" y="393.0" width="5.6" height="5.6" fill="#000"/><circle cx="91.8" cy="407.5" r="2.95" fill="#fff" stroke="#000" stroke-width="1.25"/><circle cx="100.5" cy="410.8" r="3.1" fill="#000"/><path d="M92.8 421.3L98.8 427.3M98.8 421.3L92.8 427.3" stroke="#000" stroke-width="1.4" fill="none"/><path d="M145 376.3H193.8M156.5 373H182.5M156.5 380.5H182.5M169.3 373V380.5" stroke="#000" stroke-width="1.35" fill="none"/><rect x="162.2" y="364.7" width="5.6" height="5.6" fill="#000"/><rect x="171.10000000000002" y="360.3" width="5.4" height="5.4" fill="#fff" stroke="#000" stroke-width="1.25"/><path d="M156.3 370L159.3 373L156.3 376L153.3 373Z" fill="#000"/><circle cx="182.5" cy="376.8" r="2.95" fill="#fff" stroke="#000" stroke-width="1.25"/><path d="M161.5 378.3L167.5 384.3M167.5 378.3L161.5 384.3" stroke="#000" stroke-width="1.4" fill="none"/><path d="M173.3 378.3L176.70000000000002 384.20000000000005L169.9 384.20000000000005Z" fill="#000"/><circle cx="169.3" cy="393.3" r="3.1" fill="#000"/><path d="M244.6 346.9V445.7H390.8" stroke="#000" stroke-width="1.9" fill="none"/><line x1="240.79999999999998" y1="347.5" x2="244.6" y2="347.5" stroke="#000" stroke-width="1.2"/><text x="238.6" y="350.4" font-size="8" text-anchor="end" fill="#111">6.0</text><line x1="240.79999999999998" y1="367.1" x2="244.6" y2="367.1" stroke="#000" stroke-width="1.2"/><text x="238.6" y="370.0" font-size="8" text-anchor="end" fill="#111">5.5</text><line x1="240.79999999999998" y1="386.8" x2="244.6" y2="386.8" stroke="#000" stroke-width="1.2"/><text x="238.6" y="389.7" font-size="8" text-anchor="end" fill="#111">5.0</text><line x1="240.79999999999998" y1="406.4" x2="244.6" y2="406.4" stroke="#000" stroke-width="1.2"/><text x="238.6" y="409.3" font-size="8" text-anchor="end" fill="#111">4.5</text><line x1="240.79999999999998" y1="426.1" x2="244.6" y2="426.1" stroke="#000" stroke-width="1.2"/><text x="238.6" y="429.0" font-size="8" text-anchor="end" fill="#111">4.0</text><line x1="240.79999999999998" y1="445.7" x2="244.6" y2="445.7" stroke="#000" stroke-width="1.2"/><text x="238.6" y="448.6" font-size="8" text-anchor="end" fill="#111">3.5</text><line x1="280.8" y1="445.7" x2="280.8" y2="448.9" stroke="#000" stroke-width="1.2"/><line x1="354.3" y1="445.7" x2="354.3" y2="448.9" stroke="#000" stroke-width="1.2"/><text transform="translate(224.7 395.6) rotate(-90)" font-size="9.3" text-anchor="middle" fill="#111">Log # cells</text><text x="279.8" y="459" font-size="10.6" text-anchor="middle" font-style="italic" fill="#111">+/+</text><text x="353.8" y="459" font-size="10.6" text-anchor="middle" font-style="italic" fill="#111">hd/+</text><path d="M280.2 359.29999999999995V354.9H353.4V359.29999999999995" stroke="#111" stroke-width="1.1" fill="none"/><text x="314.2" y="351.8" font-size="9.2" text-anchor="middle" fill="#111">p&lt;0.0001</text><text x="314.6" y="361.4" font-size="8.2" text-anchor="middle" fill="#111">***</text><path d="M256.8 423.3H305M268.8 420.5H293.8M268.8 426.3H293.8M280.8 420.5V426.3" stroke="#000" stroke-width="1.35" fill="none"/><rect x="265.3" y="415.3" width="5.4" height="5.4" fill="#fff" stroke="#000" stroke-width="1.25"/><circle cx="281.3" cy="415.5" r="2.95" fill="#fff" stroke="#000" stroke-width="1.25"/><path d="M294.3 417.3L297.7 423.20000000000005L290.90000000000003 423.20000000000005Z" fill="#000"/><rect x="273.5" y="422.2" width="5.6" height="5.6" fill="#000"/><path d="M285 422L288 425L285 428L282 425Z" fill="#000"/><circle cx="281.3" cy="435" r="3.1" fill="#000"/><path d="M330.5 384.3H378.8M341.8 380H367M341.8 388.8H367M354.3 380V388.8" stroke="#000" stroke-width="1.35" fill="none"/><rect x="347.2" y="378.5" width="5.6" height="5.6" fill="#000"/><circle cx="345.8" cy="375.8" r="2.95" fill="#fff" stroke="#000" stroke-width="1.25"/><rect x="351.8" y="376.8" width="5.4" height="5.4" fill="#fff" stroke="#000" stroke-width="1.25"/><path d="M363.3 373.5L366.7 379.40000000000003L359.90000000000003 379.40000000000003Z" fill="#000"/><path d="M358.8 385.8L361.8 388.8L358.8 391.8L355.8 388.8Z" fill="#000"/><circle cx="354.5" cy="403.8" r="3.1" fill="#000"/><path d="M80.5 561.4h.8M62.7 577.0h.8M61.9 568.5h.8M61.7 578.9h.8M59.4 574.4h.8M62.9 571.1h.8M61.2 573.8h.8M72.7 572.5h.8M61.5 566.8h.8M56.3 575.5h.8M52.3 584.4h.8M66.9 570.7h.8M55.6 572.5h.8M62.8 575.7h.8M64.9 574.3h.8M65.9 560.6h.8M67.5 576.3h.8M63.2 572.6h.8M63.0 565.7h.8M81.0 562.2h.8M69.8 566.3h.8M78.3 570.2h.8M76.4 570.1h.8M74.1 573.6h.8M69.4 569.5h.8M70.0 563.9h.8M50.9 582.4h.8M66.0 566.9h.8M62.6 567.3h.8M61.1 574.0h.8M69.0 573.3h.8M67.1 573.2h.8M69.6 565.1h.8M53.5 573.4h.8M63.6 569.0h.8M80.0 559.9h.8M68.0 565.6h.8M68.5 562.8h.8M73.3 567.8h.8M61.2 566.8h.8M76.5 562.2h.8M71.2 555.5h.8M62.0 581.9h.8M78.6 564.2h.8M74.5 569.4h.8M64.3 572.1h.8M55.8 568.8h.8M68.8 572.9h.8M64.9 564.8h.8M72.4 567.8h.8M70.9 566.6h.8M66.8 575.6h.8M73.2 560.7h.8M60.9 578.1h.8M69.0 569.3h.8M61.9 577.9h.8M68.2 570.6h.8M68.0 566.9h.8M69.4 569.5h.8M72.1 569.4h.8M56.2 571.9h.8M67.0 576.0h.8M64.4 577.2h.8M75.6 570.2h.8M81.7 562.5h.8M71.1 574.2h.8M71.3 573.0h.8M68.5 576.6h.8M64.8 561.3h.8M73.4 565.8h.8M59.8 572.2h.8M66.9 576.0h.8M68.5 568.9h.8M64.5 566.7h.8M61.1 570.7h.8M62.5 566.4h.8M65.8 575.8h.8M69.5 568.8h.8M68.3 568.2h.8M60.2 578.1h.8M82.7 564.7h.8M76.2 578.0h.8M59.3 576.7h.8M63.5 570.4h.8M55.0 575.8h.8M65.8 562.4h.8M63.9 569.1h.8M60.9 576.4h.8M78.5 566.4h.8M75.0 569.9h.8M67.2 573.0h.8M74.6 564.0h.8M62.6 565.2h.8M52.1 573.5h.8M73.3 568.7h.8M70.9 574.8h.8M57.3 582.1h.8M68.6 573.2h.8M74.1 562.3h.8M61.4 575.0h.8M64.8 568.2h.8M64.1 567.8h.8M66.5 568.3h.8M75.8 560.2h.8M70.5 568.7h.8M75.2 560.9h.8M66.9 579.0h.8M61.2 571.1h.8M61.7 567.7h.8M77.9 572.3h.8M63.8 567.8h.8M58.6 577.7h.8M64.0 574.4h.8M49.2 577.0h.8M71.6 569.9h.8M47.6 581.5h.8M67.3 569.8h.8M63.2 569.7h.8M68.5 571.9h.8M44.9 581.3h.8M72.3 566.2h.8M72.8 562.3h.8M81.4 567.6h.8M69.4 582.9h.8M79.5 571.8h.8M58.1 574.0h.8M71.8 573.0h.8M64.3 564.8h.8M74.4 565.4h.8M68.8 567.5h.8M62.8 565.2h.8M69.7 565.5h.8M55.2 578.2h.8M68.2 574.4h.8M69.5 562.6h.8M65.2 571.0h.8M64.9 565.8h.8M69.0 574.1h.8M77.9 572.0h.8M66.4 557.5h.8M63.5 569.1h.8M49.9 586.7h.8M72.6 567.2h.8M69.9 571.1h.8M67.8 576.7h.8M80.5 567.4h.8M63.2 573.3h.8M74.6 569.9h.8M63.7 576.6h.8M72.6 570.2h.8M63.5 571.7h.8M53.4 576.8h.8M62.8 570.7h.8M63.9 570.0h.8M67.2 570.4h.8M62.0 571.9h.8M66.8 572.7h.8M68.7 567.4h.8M57.4 566.6h.8M58.8 576.3h.8M63.5 580.0h.8M64.6 569.3h.8M64.2 568.7h.8M62.3 572.8h.8M56.9 575.9h.8M63.9 567.0h.8M74.1 568.3h.8M72.4 563.9h.8M55.5 569.8h.8M51.8 568.1h.8M76.1 563.0h.8M66.6 567.5h.8M68.7 577.2h.8M52.6 572.4h.8M65.5 566.2h.8M73.8 573.2h.8M74.0 570.3h.8M67.4 575.0h.8M58.5 568.3h.8M64.1 570.2h.8M72.7 562.1h.8M72.6 563.2h.8M54.3 567.8h.8M63.2 564.6h.8M68.0 569.8h.8M59.7 563.9h.8M63.8 573.9h.8M55.7 579.3h.8M65.4 568.1h.8M69.1 572.3h.8M64.7 567.3h.8M70.4 564.9h.8M70.9 573.0h.8M78.6 572.3h.8M73.7 567.4h.8M65.4 571.8h.8M76.2 580.6h.8M69.2 564.7h.8M73.5 558.6h.8M70.6 561.7h.8M58.0 572.1h.8M61.7 565.8h.8M70.4 567.7h.8M73.4 561.6h.8M55.5 579.4h.8M66.9 575.1h.8M48.0 573.4h.8M71.1 577.9h.8M54.1 566.9h.8M66.2 577.6h.8M74.4 559.3h.8M58.5 565.0h.8M58.7 569.3h.8M71.7 573.5h.8M81.9 560.6h.8M72.4 568.4h.8M71.3 577.7h.8M74.4 574.2h.8M70.2 572.8h.8M69.7 568.2h.8M60.8 571.1h.8M65.7 568.7h.8M62.6 568.6h.8M71.7 566.4h.8M65.2 569.8h.8M74.2 563.6h.8M74.2 561.9h.8M78.1 567.5h.8M64.0 573.9h.8M72.2 562.5h.8M65.5 572.4h.8M64.4 569.9h.8M67.2 571.5h.8M74.7 573.6h.8M70.3 583.3h.8M67.9 578.6h.8M62.6 564.9h.8M62.8 570.4h.8M69.5 558.4h.8M61.9 572.0h.8M71.7 569.6h.8M71.9 566.7h.8M67.3 576.0h.8M78.9 565.9h.8M65.7 566.3h.8M81.5 564.7h.8M67.3 561.7h.8M75.5 578.1h.8M64.9 570.0h.8M76.4 564.3h.8M76.2 575.3h.8M56.8 571.0h.8M71.3 568.4h.8M66.4 569.5h.8M68.0 571.3h.8M62.6 570.8h.8M65.8 565.1h.8M64.9 559.9h.8M70.5 567.6h.8M61.3 579.8h.8M62.8 582.7h.8M64.0 577.7h.8M69.3 577.1h.8M67.1 575.3h.8M60.4 563.8h.8M70.1 570.9h.8M72.6 575.7h.8M58.5 567.0h.8M66.7 566.6h.8M65.7 570.7h.8M63.2 577.5h.8M69.3 578.0h.8M70.3 573.7h.8M63.1 568.6h.8M61.1 568.6h.8M69.7 569.3h.8M56.0 567.8h.8M56.9 565.8h.8M57.3 567.2h.8M68.8 563.2h.8M62.2 571.8h.8M67.5 571.9h.8M72.9 570.3h.8M66.7 576.6h.8M67.5 566.2h.8M74.1 560.4h.8M72.2 573.8h.8M67.9 571.3h.8M68.6 572.6h.8M68.0 569.6h.8M67.3 560.2h.8M67.5 568.2h.8M80.2 564.8h.8M63.4 575.2h.8M61.4 566.8h.8M65.6 573.3h.8M76.6 570.5h.8M67.6 568.9h.8M70.3 574.5h.8M68.0 575.4h.8M61.1 573.0h.8M73.1 570.5h.8M66.7 567.5h.8M53.5 574.6h.8M59.9 571.6h.8M75.4 561.8h.8M72.1 567.3h.8M59.3 574.5h.8M69.0 562.9h.8M57.9 572.7h.8M70.1 565.4h.8M70.2 570.7h.8M67.5 572.1h.8M74.5 565.2h.8M66.4 564.9h.8M61.4 572.4h.8M70.5 564.8h.8M59.1 578.8h.8M77.0 551.8h.8M59.6 574.4h.8M67.7 564.8h.8M70.9 573.6h.8M66.1 574.2h.8M65.4 566.1h.8M61.1 569.9h.8M77.7 570.5h.8M64.8 563.1h.8M62.3 570.3h.8M53.6 576.8h.8M65.6 564.0h.8M62.6 569.9h.8M80.1 566.7h.8M71.7 568.0h.8M59.8 578.4h.8M58.0 564.8h.8M70.6 566.4h.8M67.5 572.4h.8M65.7 572.7h.8M74.3 564.6h.8M64.1 571.6h.8M69.9 566.5h.8M65.6 567.3h.8M67.0 572.7h.8M60.6 572.3h.8M55.3 572.4h.8M68.0 572.2h.8M59.4 573.4h.8M60.9 574.7h.8M69.1 571.2h.8M62.1 565.2h.8M60.0 566.8h.8M61.8 572.3h.8M72.2 564.0h.8M61.7 573.7h.8M56.9 585.3h.8M58.3 579.6h.8M74.9 570.9h.8M67.2 573.6h.8M66.1 575.3h.8M60.4 569.2h.8M68.0 567.2h.8M69.1 564.6h.8M66.2 565.4h.8M70.2 579.3h.8M56.8 568.9h.8M55.4 574.8h.8M76.2 563.0h.8M72.2 566.4h.8M66.4 580.5h.8M69.8 559.2h.8M60.8 575.2h.8M70.3 567.2h.8M69.6 571.4h.8M66.2 575.5h.8M62.4 576.2h.8M72.9 568.0h.8M64.1 571.4h.8M52.3 578.8h.8M52.9 566.9h.8M69.6 564.0h.8M68.8 569.3h.8M53.0 572.6h.8M65.6 573.1h.8M64.3 565.0h.8M63.1 572.5h.8M57.2 572.8h.8M58.5 563.6h.8M79.6 568.1h.8M65.3 575.7h.8M62.7 580.0h.8M64.3 572.1h.8M62.8 572.6h.8M68.6 569.3h.8M62.5 576.1h.8M70.1 568.4h.8M71.8 563.8h.8M74.5 565.4h.8M75.4 563.4h.8M65.2 572.0h.8M76.6 572.4h.8M61.9 568.9h.8M74.0 572.8h.8M70.4 566.6h.8M74.7 565.9h.8M68.8 572.2h.8M58.0 563.1h.8M69.3 572.5h.8M70.4 571.0h.8M69.6 574.0h.8M70.2 575.9h.8M68.4 573.3h.8M63.4 573.4h.8M69.5 569.4h.8M76.6 565.3h.8M74.5 568.0h.8M71.7 563.0h.8M66.0 575.4h.8M61.9 574.6h.8M70.5 569.2h.8M70.4 571.0h.8M65.7 572.7h.8M62.1 570.2h.8M55.8 575.2h.8M55.3 576.1h.8M65.6 565.2h.8M67.5 571.2h.8M62.2 567.8h.8M66.5 572.3h.8M76.5 575.0h.8M54.2 578.3h.8M67.9 566.3h.8M72.8 577.7h.8M70.0 575.4h.8M72.5 565.0h.8M53.6 582.7h.8M72.9 558.0h.8M63.7 568.1h.8M67.9 569.9h.8M72.7 564.1h.8M75.5 557.0h.8M73.3 580.4h.8M67.1 573.2h.8M70.1 585.2h.8M71.5 565.9h.8M54.3 577.5h.8M67.0 559.6h.8M64.4 574.2h.8M50.3 577.5h.8M53.2 570.2h.8M71.4 573.5h.8M72.7 563.8h.8M66.1 561.4h.8M57.8 577.4h.8M61.7 567.5h.8M53.7 575.6h.8M76.9 554.7h.8M61.9 578.3h.8M52.6 574.2h.8M69.2 574.7h.8M69.7 577.9h.8M66.0 569.9h.8M70.0 570.2h.8M54.6 571.5h.8M65.6 572.5h.8M56.9 571.5h.8M62.2 574.2h.8M64.8 574.2h.8M67.1 565.3h.8M61.9 566.3h.8M68.8 573.2h.8M56.3 566.4h.8M69.2 567.4h.8M67.2 572.3h.8M70.8 572.8h.8M58.8 562.9h.8M62.6 570.7h.8M64.5 573.3h.8M67.4 576.4h.8M62.2 572.4h.8M68.4 580.1h.8M58.1 569.4h.8M65.5 574.7h.8M66.1 569.5h.8M52.5 566.8h.8M64.5 570.0h.8M78.8 565.9h.8M71.2 572.8h.8M58.0 568.3h.8M67.1 577.6h.8M71.7 564.6h.8M60.1 578.3h.8M71.3 562.2h.8M75.4 561.7h.8M70.9 566.9h.8M63.0 568.9h.8M72.3 570.5h.8M71.1 566.4h.8M65.3 581.9h.8M77.3 563.7h.8M61.9 580.3h.8M67.4 570.1h.8M72.8 568.9h.8M71.3 578.0h.8M55.3 579.3h.8M60.0 573.9h.8M65.8 572.0h.8M51.9 581.3h.8M81.0 560.8h.8M73.7 569.8h.8M67.3 567.2h.8M71.2 569.3h.8M77.7 568.8h.8M55.6 560.8h.8M77.4 567.2h.8M66.3 567.2h.8M85.8 567.3h.8M66.3 568.5h.8M73.0 573.9h.8M71.8 572.4h.8M68.9 570.9h.8M58.2 575.1h.8M66.6 569.8h.8M65.4 572.4h.8M62.1 571.5h.8M62.5 584.2h.8M58.0 568.4h.8M62.0 570.4h.8M54.2 564.0h.8M79.5 568.9h.8M65.0 573.9h.8M55.6 567.5h.8M69.8 571.5h.8M61.8 572.6h.8M45.6 580.2h.8M73.8 567.4h.8M68.8 572.0h.8M49.8 572.1h.8M58.4 575.6h.8M58.3 564.7h.8M72.0 566.5h.8M77.2 575.1h.8M52.7 570.7h.8M76.6 572.4h.8M69.8 570.4h.8M72.4 570.6h.8M59.4 577.7h.8M72.2 565.3h.8M59.2 571.4h.8M63.6 574.5h.8M71.7 567.8h.8M60.7 564.1h.8M61.5 567.7h.8M63.4 573.6h.8M74.8 584.0h.8M59.4 571.1h.8M58.2 573.2h.8M66.6 575.4h.8M55.2 580.7h.8M69.6 566.0h.8M62.2 573.5h.8M69.6 567.9h.8M65.4 570.9h.8M59.7 575.1h.8M70.4 568.5h.8M58.7 574.2h.8M66.3 572.0h.8M65.3 575.1h.8M75.4 570.0h.8M70.5 574.5h.8M65.8 569.8h.8M56.8 575.3h.8M72.6 562.3h.8M69.0 562.5h.8M72.2 576.7h.8M64.3 565.4h.8M68.0 568.7h.8M70.7 565.5h.8M53.8 574.3h.8M72.5 572.5h.8M68.3 569.5h.8M70.6 567.2h.8M63.8 572.8h.8M72.7 564.5h.8M68.4 566.0h.8M61.8 573.5h.8M55.7 571.4h.8M57.1 572.0h.8M65.0 582.8h.8M70.6 568.5h.8M52.5 565.3h.8M68.0 566.3h.8M72.6 565.1h.8M56.3 572.2h.8M53.2 569.9h.8M70.1 565.8h.8M69.9 565.7h.8M63.7 568.9h.8M61.3 569.6h.8M76.3 565.0h.8M56.7 583.8h.8M77.1 570.5h.8M65.3 570.1h.8M63.4 572.5h.8M69.5 568.7h.8M58.8 569.3h.8M81.0 571.4h.8M56.7 572.0h.8M67.3 572.8h.8M66.1 571.7h.8M71.1 573.7h.8M59.8 579.2h.8M70.4 571.0h.8M55.7 574.6h.8M65.9 573.8h.8M72.4 570.7h.8M60.2 579.8h.8M68.7 573.8h.8M64.8 567.6h.8M85.3 564.0h.8M70.5 565.9h.8M67.1 575.5h.8M72.9 575.8h.8M72.2 561.9h.8M58.3 580.3h.8M69.9 567.3h.8M63.2 569.1h.8M78.1 563.5h.8M58.9 578.7h.8M66.5 572.1h.8M63.7 571.5h.8M54.7 579.0h.8M60.9 571.2h.8M71.0 574.3h.8M51.5 577.2h.8M72.1 572.5h.8M60.8 574.8h.8M70.9 572.7h.8M61.7 571.8h.8M65.2 576.6h.8M72.7 564.9h.8M65.8 571.7h.8M60.0 573.0h.8M73.7 570.5h.8M60.4 570.2h.8M62.6 565.0h.8M68.6 569.8h.8M56.8 574.1h.8M61.3 571.6h.8M63.1 578.8h.8M61.3 576.7h.8M70.6 575.4h.8M65.9 570.6h.8M63.0 562.7h.8M82.1 561.3h.8M61.9 567.1h.8M68.6 577.2h.8M62.1 574.7h.8M75.2 570.6h.8M60.1 564.9h.8M70.2 571.2h.8M63.2 569.8h.8M75.0 558.2h.8M61.6 569.8h.8M54.4 573.1h.8M63.4 578.0h.8M51.8 571.0h.8M65.0 563.4h.8M51.5 574.9h.8M56.2 570.7h.8M66.1 572.7h.8M61.4 571.6h.8M70.8 567.4h.8M70.1 565.6h.8M72.1 573.7h.8M62.9 586.8h.8M63.4 570.2h.8M66.1 572.8h.8M58.2 574.7h.8M65.2 578.0h.8M55.9 578.9h.8M62.7 568.6h.8M66.8 569.0h.8M67.0 571.2h.8M73.6 564.7h.8M72.2 554.2h.8M81.0 568.9h.8M77.3 565.8h.8M66.2 565.5h.8M73.0 561.3h.8M60.9 573.2h.8M68.6 570.9h.8M57.8 573.1h.8M72.0 573.3h.8M72.3 569.4h.8M63.5 569.2h.8M62.6 571.8h.8M68.9 566.6h.8M78.2 559.5h.8M71.4 566.8h.8M64.6 569.4h.8M76.1 564.0h.8M70.3 569.0h.8M72.5 570.1h.8M76.0 561.9h.8M64.1 579.8h.8M75.1 566.3h.8M64.9 572.4h.8M73.6 563.0h.8M76.0 565.2h.8M63.1 570.1h.8M52.8 578.9h.8M56.3 572.8h.8M60.7 574.4h.8M71.3 568.1h.8M68.4 571.4h.8M78.3 567.1h.8M76.8 564.8h.8M67.4 566.7h.8M68.6 565.1h.8M68.2 566.4h.8M66.3 576.4h.8M68.9 573.0h.8M61.0 564.0h.8M75.9 564.7h.8M63.8 576.3h.8M57.2 571.4h.8M72.7 563.8h.8M73.3 565.4h.8M65.0 571.4h.8M65.1 576.3h.8M73.8 566.9h.8M71.5 570.4h.8M74.5 558.5h.8M75.0 570.4h.8M64.2 571.6h.8M66.4 576.4h.8M59.8 576.7h.8M76.1 568.2h.8M62.2 570.3h.8M50.0 573.7h.8M71.8 563.0h.8M54.8 575.1h.8M57.2 577.3h.8M62.3 577.1h.8M62.7 565.4h.8M59.8 570.6h.8M63.1 578.1h.8M60.3 575.3h.8M63.5 574.7h.8M53.6 569.3h.8M72.6 574.2h.8M56.4 574.0h.8M61.0 568.6h.8M73.0 567.3h.8M56.6 574.4h.8M73.9 563.1h.8M61.2 569.0h.8M66.3 567.7h.8M70.7 564.2h.8M57.4 577.2h.8M43.0 577.7h.8M68.7 570.4h.8M61.5 570.7h.8M77.2 583.0h.8M60.5 572.5h.8M64.3 574.1h.8M67.5 572.5h.8M76.8 563.8h.8M65.1 572.9h.8M79.8 561.8h.8M80.1 569.2h.8M45.9 576.0h.8M60.5 575.3h.8M75.4 566.1h.8M71.7 578.2h.8M73.0 577.5h.8M63.5 579.9h.8M58.1 562.8h.8M59.8 571.4h.8M67.5 573.5h.8M72.0 570.1h.8M64.8 579.9h.8M74.5 566.4h.8M62.4 572.2h.8M63.5 568.5h.8M65.0 567.9h.8M69.4 565.7h.8M70.3 570.0h.8M68.5 571.9h.8M64.5 583.9h.8M63.1 575.6h.8M65.6 568.7h.8M80.3 568.7h.8M65.6 573.5h.8M74.1 574.2h.8M72.9 566.3h.8M62.3 566.8h.8M69.8 572.9h.8M65.0 574.3h.8M66.3 568.2h.8M60.3 578.9h.8M84.6 563.8h.8M57.0 570.1h.8M69.3 572.1h.8M71.9 555.8h.8M79.2 564.7h.8M68.0 571.4h.8M63.4 570.5h.8M70.1 560.1h.8M66.7 573.0h.8M54.9 575.5h.8M77.4 566.6h.8M72.5 570.7h.8M68.6 571.0h.8M60.4 572.4h.8M76.4 559.3h.8M62.7 566.1h.8M61.2 569.2h.8M58.5 575.6h.8M61.0 575.7h.8M73.5 554.2h.8M61.1 562.8h.8M66.3 572.3h.8M70.2 574.4h.8M64.0 563.1h.8M74.7 561.5h.8M66.4 572.0h.8M60.6 573.8h.8M73.1 558.7h.8M54.2 574.4h.8M62.7 566.0h.8M52.6 581.9h.8M66.4 563.9h.8M70.1 568.2h.8M64.8 564.6h.8M65.8 573.0h.8M52.4 572.3h.8M76.9 574.8h.8M70.7 567.8h.8M58.2 572.5h.8M65.6 573.0h.8M69.6 580.9h.8M71.0 557.2h.8M58.5 574.4h.8M73.8 568.6h.8M44.5 573.5h.8M76.7 568.0h.8M85.3 564.6h.8M72.6 574.7h.8M62.3 569.8h.8M60.0 574.8h.8M71.2 572.5h.8M77.5 567.8h.8M74.3 565.1h.8M61.3 576.6h.8M75.9 572.1h.8M64.3 569.1h.8M64.6 573.0h.8M65.7 569.8h.8M67.5 568.3h.8M67.5 566.8h.8M55.3 574.5h.8M77.6 560.6h.8M75.3 572.5h.8M63.2 573.2h.8M52.1 580.5h.8M77.2 565.8h.8M51.7 575.0h.8M61.6 573.4h.8M67.5 567.7h.8M62.7 568.2h.8M70.7 569.2h.8M67.7 567.2h.8M69.2 567.5h.8M68.1 568.7h.8M59.7 568.3h.8M51.0 571.4h.8M76.1 581.6h.8M53.6 572.8h.8M73.5 584.4h.8M62.7 566.5h.8M73.4 577.1h.8M45.1 575.4h.8M72.5 561.5h.8M64.4 568.2h.8M68.7 562.0h.8M69.0 570.1h.8M71.1 570.1h.8M63.9 562.8h.8M62.3 567.7h.8M69.5 567.6h.8M69.7 574.2h.8M69.1 577.4h.8M69.1 561.6h.8M64.9 577.2h.8M65.4 576.8h.8M62.3 571.8h.8M70.2 560.5h.8M66.0 568.3h.8M71.0 576.5h.8M67.0 563.3h.8M72.0 565.2h.8M69.9 574.3h.8M66.2 575.2h.8M65.8 566.1h.8M61.6 566.0h.8M74.8 566.9h.8M70.7 562.6h.8M69.7 562.7h.8M68.3 569.3h.8M63.0 573.6h.8M64.9 566.8h.8M58.7 567.7h.8M76.0 566.2h.8M65.3 574.3h.8M58.2 568.7h.8M72.0 575.4h.8M68.8 569.9h.8M75.1 558.2h.8M84.9 555.4h.8M63.2 565.2h.8M57.7 573.6h.8M81.1 558.1h.8M62.8 573.5h.8M59.0 572.8h.8M67.6 558.8h.8M63.8 570.2h.8M62.7 571.6h.8M53.3 574.8h.8M60.8 568.0h.8M79.0 573.9h.8M70.1 564.1h.8M77.0 567.4h.8M62.1 575.5h.8M63.6 574.6h.8M75.0 571.7h.8M59.0 573.4h.8M64.0 565.4h.8M70.6 571.6h.8M55.9 572.9h.8M56.3 569.1h.8M62.0 579.4h.8M61.1 571.0h.8M75.2 571.0h.8M71.7 557.2h.8M68.0 560.7h.8M61.3 570.8h.8M66.5 580.1h.8M67.6 575.5h.8M65.1 570.7h.8M70.8 570.3h.8M66.3 561.7h.8M70.5 569.8h.8M70.4 568.0h.8M66.5 563.7h.8M71.6 561.6h.8M78.0 569.5h.8M65.4 569.3h.8M71.0 566.4h.8M58.9 575.5h.8M57.2 572.7h.8M80.2 567.3h.8M63.2 571.6h.8M62.0 572.5h.8M58.0 578.0h.8M65.3 567.8h.8M67.6 582.9h.8M62.4 569.9h.8M61.5 570.3h.8M76.6 568.5h.8M70.0 570.3h.8M53.8 564.6h.8M78.1 567.9h.8M68.4 570.7h.8M67.8 569.7h.8M60.1 562.3h.8M70.3 568.5h.8M73.6 568.2h.8M65.7 573.7h.8M66.8 567.9h.8M63.0 569.9h.8M63.5 569.6h.8M79.0 578.5h.8M67.9 575.2h.8M46.5 564.2h.8M62.9 571.3h.8M58.6 567.4h.8M59.6 571.2h.8M66.8 568.4h.8M57.5 573.0h.8M74.9 561.6h.8M68.9 574.1h.8M59.8 570.8h.8M88.5 565.2h.8M63.2 572.8h.8M67.4 570.5h.8M68.9 567.5h.8M49.4 574.1h.8M64.6 564.3h.8M67.3 577.4h.8M66.7 566.9h.8M69.5 574.0h.8M52.3 571.2h.8M61.0 570.8h.8M64.6 568.3h.8M67.3 570.3h.8M57.2 571.8h.8M58.6 575.7h.8M69.5 572.0h.8M59.4 571.2h.8M51.4 578.0h.8M56.2 577.3h.8M74.6 568.4h.8M71.1 569.0h.8M70.8 572.8h.8M79.0 574.0h.8M66.3 574.5h.8M73.1 569.0h.8M65.6 564.3h.8M72.0 563.0h.8M60.3 569.1h.8M68.2 564.5h.8M70.6 571.0h.8M66.4 568.6h.8M73.1 573.5h.8M61.1 567.7h.8M60.6 568.9h.8M64.5 570.5h.8M53.8 584.0h.8M60.0 571.4h.8M49.2 569.2h.8M60.0 574.7h.8M68.5 560.2h.8M71.0 575.6h.8M66.4 574.9h.8M66.6 565.6h.8M71.9 564.5h.8M68.0 567.5h.8M65.2 571.7h.8M71.9 559.1h.8M59.1 574.5h.8M72.6 566.2h.8M66.2 573.0h.8M75.2 561.3h.8M55.0 574.7h.8M68.9 562.4h.8M75.9 570.2h.8M70.0 564.2h.8M59.0 577.4h.8M69.6 572.1h.8M51.3 563.2h.8M76.0 570.4h.8M64.5 571.2h.8M71.0 571.7h.8M64.1 568.9h.8M61.9 577.7h.8M60.2 556.4h.8M67.6 566.8h.8M56.8 572.7h.8M56.8 572.9h.8M63.7 574.2h.8M55.9 566.6h.8M59.5 566.9h.8M71.0 566.9h.8M53.3 572.6h.8M66.1 570.2h.8M53.7 576.1h.8M70.4 573.2h.8M73.6 566.0h.8M56.8 573.3h.8M68.9 564.4h.8M73.0 562.2h.8M60.5 577.5h.8M66.4 571.9h.8M64.4 571.5h.8M66.3 579.8h.8M70.6 567.5h.8M71.3 572.0h.8M63.2 572.8h.8M66.6 567.3h.8M60.8 572.2h.8M63.5 569.7h.8M53.4 577.3h.8M71.0 568.3h.8M79.7 567.8h.8M62.6 568.8h.8M69.0 567.1h.8M55.7 576.3h.8M63.9 570.4h.8M70.9 569.0h.8M78.6 560.4h.8M66.4 571.9h.8M62.4 569.8h.8M75.3 558.5h.8M65.2 562.1h.8M64.8 561.5h.8M60.8 578.8h.8M77.1 565.5h.8M50.1 583.7h.8M65.8 565.1h.8M61.3 566.3h.8M65.6 570.3h.8M68.8 573.0h.8M57.6 563.8h.8M56.0 569.3h.8M63.0 569.8h.8M68.9 575.9h.8M64.4 565.9h.8M62.6 567.9h.8M65.9 573.4h.8M60.2 577.0h.8M81.5 570.2h.8M77.5 565.1h.8M61.3 582.9h.8M66.5 571.4h.8M62.1 567.8h.8M67.8 562.6h.8M58.2 577.2h.8M62.2 568.3h.8M72.6 574.2h.8M64.2 570.7h.8M72.1 572.1h.8M74.7 569.4h.8M63.0 574.7h.8M63.0 563.6h.8M75.9 568.3h.8M75.5 565.3h.8M71.2 567.5h.8M69.3 573.3h.8M68.0 572.5h.8M68.6 575.3h.8M67.5 561.5h.8M78.5 566.3h.8M61.7 569.6h.8M80.0 563.8h.8M71.0 570.9h.8M65.9 579.2h.8M79.0 560.0h.8M70.8 560.0h.8M64.3 571.7h.8M67.9 572.4h.8M69.9 570.4h.8M66.1 572.0h.8M66.6 579.9h.8M69.3 575.0h.8M66.8 569.4h.8M62.6 565.8h.8M81.2 564.8h.8M66.4 568.0h.8M74.4 564.6h.8M62.2 569.8h.8M77.4 566.2h.8M64.1 568.3h.8M75.6 567.0h.8M66.0 575.0h.8M70.3 563.4h.8M76.3 570.6h.8M62.1 565.9h.8M73.1 565.2h.8M64.5 569.9h.8M66.3 574.5h.8M60.1 576.1h.8M76.3 570.5h.8M71.8 568.9h.8M64.9 570.5h.8M63.9 579.9h.8M63.6 566.7h.8M75.0 573.4h.8M67.7 568.1h.8M60.3 576.6h.8M63.5 568.5h.8M67.9 563.2h.8M66.5 558.3h.8M59.5 566.8h.8M66.4 574.2h.8M60.5 580.0h.8M60.9 570.7h.8M71.6 564.1h.8M75.8 564.5h.8M63.9 566.8h.8M74.0 566.1h.8M61.3 568.2h.8M62.0 572.1h.8M63.3 575.8h.8M65.0 568.0h.8M72.4 574.3h.8M53.3 578.7h.8M73.9 567.1h.8M68.9 561.5h.8M63.5 576.7h.8M66.0 570.8h.8M71.4 569.6h.8M68.5 566.8h.8M67.1 576.4h.8M60.4 566.3h.8M65.9 574.9h.8M78.7 564.8h.8M63.6 574.7h.8M70.8 573.8h.8M71.4 571.4h.8M70.7 570.2h.8M60.1 572.7h.8M79.8 570.0h.8M73.7 568.5h.8M66.5 572.0h.8M66.5 575.6h.8M62.9 568.4h.8M58.9 581.7h.8M59.8 569.4h.8M72.8 575.9h.8M70.3 566.7h.8M68.6 565.1h.8M64.9 571.2h.8M68.2 573.2h.8M73.8 575.7h.8M71.5 566.3h.8M66.6 566.1h.8M61.8 571.0h.8M71.9 564.1h.8M54.3 571.6h.8M58.3 573.6h.8M62.3 566.7h.8M60.5 571.3h.8M70.4 571.3h.8M74.8 564.8h.8M70.9 568.4h.8M58.1 571.4h.8M80.7 562.3h.8M79.1 567.9h.8M77.2 563.9h.8M72.2 565.9h.8M57.0 569.4h.8M66.3 562.5h.8M67.3 565.6h.8M66.3 563.7h.8M71.8 566.5h.8M53.7 569.7h.8M63.8 563.6h.8M69.8 571.0h.8M65.1 577.8h.8M76.8 566.6h.8M70.6 570.5h.8M67.5 576.1h.8M58.2 562.2h.8M67.7 571.8h.8M69.9 563.1h.8M74.2 562.4h.8M72.2 570.9h.8M70.1 574.0h.8M67.5 579.8h.8M69.1 566.9h.8M83.7 561.5h.8M58.8 581.1h.8M75.7 562.8h.8M62.4 577.8h.8M65.2 566.3h.8M63.6 572.0h.8M76.2 573.0h.8M65.6 578.2h.8M58.2 578.0h.8M66.6 572.3h.8M62.4 568.9h.8M70.8 573.6h.8M52.3 577.8h.8M61.9 567.4h.8M58.9 576.7h.8M71.6 570.8h.8M50.7 570.9h.8M61.8 570.5h.8M77.5 562.8h.8M69.5 573.6h.8M78.4 566.0h.8M72.8 576.5h.8M60.5 564.6h.8M61.1 571.5h.8M75.9 567.0h.8M74.8 566.5h.8M65.8 567.8h.8M59.6 576.2h.8M70.2 571.2h.8M62.4 570.3h.8M70.4 571.3h.8M78.0 560.1h.8M74.9 570.3h.8M65.2 571.6h.8M69.3 576.3h.8M84.0 562.9h.8M66.9 574.7h.8M69.6 567.8h.8M73.3 571.0h.8M65.8 574.8h.8M49.5 572.7h.8M65.0 571.8h.8M60.1 580.8h.8M64.5 572.0h.8M67.9 573.2h.8M64.4 575.0h.8M58.3 567.2h.8M70.4 569.1h.8M68.6 559.7h.8M66.1 567.3h.8M64.7 569.3h.8M62.9 568.8h.8M70.0 560.1h.8M56.4 577.1h.8M78.4 560.5h.8M58.5 568.6h.8M62.5 578.4h.8M72.9 571.4h.8M69.4 569.9h.8M61.0 568.3h.8M75.7 577.7h.8M66.8 576.3h.8M62.2 572.7h.8M77.7 564.2h.8M69.7 565.9h.8M76.6 559.1h.8M69.9 567.4h.8M68.7 570.9h.8M77.0 569.2h.8M74.3 568.1h.8M62.4 578.9h.8M77.7 566.9h.8M71.4 566.6h.8M59.2 578.8h.8M65.7 580.0h.8M71.2 567.8h.8M62.9 572.6h.8M59.3 572.1h.8M76.6 563.7h.8M78.5 563.7h.8M67.6 565.2h.8M63.8 569.4h.8M61.4 582.3h.8M70.4 567.9h.8M59.6 574.0h.8M57.9 569.9h.8M69.7 579.2h.8M56.4 578.2h.8M57.3 560.7h.8M57.1 574.4h.8M65.6 567.0h.8M79.4 566.3h.8M59.3 565.9h.8M66.5 567.0h.8M71.3 562.7h.8M73.6 564.4h.8M67.4 568.5h.8M73.0 572.6h.8M61.3 568.5h.8M81.0 567.6h.8M81.1 567.5h.8M70.8 576.1h.8M61.4 570.8h.8M65.4 574.2h.8M60.7 572.3h.8M60.6 572.1h.8M76.2 570.8h.8M70.3 580.9h.8M62.9 574.3h.8M59.1 563.1h.8M61.3 579.0h.8M61.6 587.2h.8M66.4 571.7h.8M74.9 566.1h.8M61.2 569.9h.8M61.5 575.5h.8M64.6 573.8h.8M55.9 573.5h.8M80.9 564.7h.8M68.3 575.2h.8M71.5 575.3h.8M60.5 577.1h.8M61.0 576.4h.8M85.8 567.9h.8M61.8 574.7h.8M68.2 565.8h.8M66.1 565.2h.8M74.8 570.5h.8M66.9 573.4h.8M82.0 561.6h.8M55.0 577.8h.8M62.1 568.7h.8M74.5 571.1h.8M73.8 574.6h.8M61.6 570.7h.8M64.0 558.2h.8M49.3 580.7h.8M65.3 571.2h.8M60.7 574.3h.8M72.3 564.2h.8M70.0 567.7h.8M65.8 571.2h.8M77.6 567.2h.8M71.4 568.5h.8M54.3 581.1h.8M66.7 570.7h.8M60.2 565.9h.8M80.1 572.4h.8M73.3 557.7h.8M67.9 563.7h.8M64.3 568.8h.8M60.9 569.3h.8M64.9 574.9h.8M79.0 568.4h.8M66.2 569.7h.8M64.9 571.0h.8M62.1 571.6h.8M71.7 566.5h.8M60.9 572.5h.8M67.0 569.6h.8M66.2 573.9h.8M64.2 566.4h.8M68.9 565.5h.8M73.3 570.8h.8M70.4 569.8h.8M57.2 574.0h.8M68.6 572.3h.8M58.8 573.4h.8M56.7 576.1h.8M67.3 570.5h.8M78.9 567.5h.8M64.1 568.6h.8M65.2 574.8h.8M71.6 565.2h.8M64.9 568.9h.8M71.5 568.7h.8M60.0 569.2h.8M72.3 560.4h.8M48.4 564.3h.8M78.9 561.3h.8M73.3 569.6h.8M74.4 571.9h.8M63.4 571.8h.8M74.2 569.1h.8M60.0 569.8h.8M57.5 576.1h.8M59.9 565.9h.8M63.5 573.4h.8M67.3 568.8h.8M68.9 572.2h.8M56.9 571.1h.8M74.5 569.8h.8M55.8 572.2h.8M77.7 568.3h.8M67.6 574.7h.8M78.5 571.1h.8M54.7 569.9h.8M63.0 571.8h.8M64.7 572.4h.8M78.6 569.5h.8M73.1 566.9h.8M78.4 566.4h.8M68.1 569.3h.8M58.6 584.9h.8M68.2 573.8h.8M81.2 561.8h.8M60.8 578.2h.8M66.3 565.7h.8M73.0 567.0h.8M55.2 563.5h.8M60.7 575.1h.8M61.6 577.6h.8M81.9 564.0h.8M67.9 569.2h.8M72.3 567.4h.8M76.3 572.3h.8M70.3 563.6h.8M70.5 567.0h.8M70.6 573.0h.8M62.5 573.3h.8M74.7 562.0h.8M66.7 573.7h.8M67.0 575.0h.8M56.8 567.8h.8M68.8 568.4h.8M70.5 572.9h.8M72.9 565.3h.8M60.1 564.0h.8M60.5 574.5h.8M65.0 563.7h.8M71.7 567.4h.8M73.2 565.1h.8M70.8 562.6h.8M52.5 573.4h.8M72.0 569.5h.8M54.2 577.3h.8M74.3 574.5h.8M72.8 569.6h.8M56.7 577.1h.8M52.8 575.8h.8M62.1 567.7h.8M59.5 573.2h.8M69.1 565.8h.8M70.0 572.0h.8M70.2 577.8h.8M63.0 568.5h.8M55.9 580.9h.8M70.7 567.2h.8M68.4 568.7h.8M72.3 567.2h.8M67.9 569.2h.8M56.2 564.6h.8M67.7 563.6h.8M70.5 571.4h.8M77.7 560.9h.8M69.4 573.4h.8M60.9 570.2h.8M73.6 576.8h.8M75.6 570.3h.8M61.4 576.1h.8M71.7 561.5h.8M66.2 569.5h.8M67.4 561.3h.8M71.2 567.8h.8M60.5 562.9h.8M51.6 575.2h.8M71.7 569.7h.8M68.2 561.1h.8M70.5 574.8h.8M57.4 578.1h.8M62.7 574.9h.8M64.0 563.6h.8M62.0 578.8h.8M68.2 575.4h.8M70.5 572.6h.8M64.3 572.5h.8M65.8 575.0h.8M64.9 576.5h.8M74.6 560.2h.8M66.4 572.9h.8M80.7 568.7h.8M63.7 563.2h.8M71.0 565.1h.8M68.6 571.2h.8M59.2 579.2h.8M73.8 569.4h.8M71.2 569.6h.8M56.1 573.1h.8M71.3 566.2h.8M67.4 571.6h.8M67.6 571.0h.8M69.8 568.6h.8M58.6 573.0h.8M71.6 564.4h.8M70.3 569.8h.8M55.0 562.3h.8M64.9 567.3h.8M64.1 576.0h.8M62.1 574.2h.8M67.7 570.6h.8M75.9 555.8h.8M72.7 566.4h.8M63.3 568.6h.8M66.9 570.3h.8M63.6 579.7h.8M61.3 572.3h.8M58.3 575.2h.8M71.0 573.2h.8M72.1 565.0h.8M77.0 564.4h.8M80.3 571.6h.8M61.7 567.5h.8M73.0 574.0h.8M71.3 573.1h.8M72.2 571.7h.8M74.8 564.6h.8M56.8 574.6h.8M58.9 568.3h.8M66.8 573.6h.8M51.2 570.7h.8M70.1 564.1h.8M66.5 576.8h.8M74.7 567.8h.8M64.7 557.9h.8M71.0 569.8h.8M57.6 575.7h.8M69.3 568.3h.8M73.5 571.0h.8M66.4 569.1h.8M60.9 578.7h.8M63.3 573.4h.8M78.3 568.0h.8M57.8 574.3h.8M58.5 566.3h.8M62.3 575.2h.8M68.3 568.3h.8M65.4 565.2h.8M61.0 572.2h.8M71.2 566.3h.8M66.0 572.1h.8M73.8 560.4h.8M70.4 569.2h.8M66.5 571.5h.8M53.3 577.1h.8M62.5 566.3h.8M71.9 566.9h.8M65.7 574.4h.8M58.9 570.6h.8M73.7 570.8h.8M79.1 561.6h.8M53.9 569.5h.8M58.7 574.7h.8M63.6 568.5h.8M58.4 571.0h.8M66.4 576.1h.8M73.3 573.4h.8M73.4 570.4h.8M75.2 568.0h.8M79.0 569.4h.8M79.0 564.9h.8M66.3 582.6h.8M65.6 573.2h.8M62.6 568.9h.8M67.2 564.5h.8M68.2 576.3h.8M68.9 573.0h.8M71.5 569.6h.8M68.4 572.3h.8M61.2 575.8h.8M57.8 571.0h.8M59.9 567.1h.8M54.1 578.4h.8M71.1 571.1h.8M81.6 563.4h.8M70.0 564.9h.8M68.9 563.5h.8M77.7 559.9h.8M65.2 574.6h.8M54.4 582.9h.8M60.5 574.3h.8M73.3 567.5h.8M71.7 565.2h.8M66.1 559.9h.8M75.3 562.6h.8M60.7 573.3h.8M76.4 561.8h.8M65.6 569.0h.8M57.7 568.4h.8M71.8 571.0h.8M61.9 573.7h.8M70.2 570.2h.8M65.4 571.0h.8M66.2 565.2h.8M67.0 573.8h.8M65.3 577.3h.8M62.7 566.9h.8M61.8 566.1h.8M67.4 562.1h.8M66.1 569.3h.8M65.2 573.0h.8M67.3 567.2h.8M71.0 565.8h.8M75.1 572.4h.8M70.8 572.6h.8M58.6 577.0h.8M56.1 574.7h.8M65.8 557.6h.8M59.7 570.0h.8M60.2 573.6h.8M68.4 563.7h.8M58.6 565.2h.8M57.6 564.6h.8M57.3 577.2h.8M70.7 564.2h.8M67.2 566.1h.8M77.0 573.4h.8M48.3 575.3h.8M61.2 570.6h.8M79.9 571.0h.8M67.6 572.8h.8M55.2 574.6h.8M64.2 570.7h.8M65.3 563.3h.8M63.7 582.1h.8M55.0 576.4h.8M72.2 569.7h.8M63.6 563.9h.8M60.2 565.9h.8M80.2 565.0h.8M71.7 568.6h.8M66.1 576.2h.8M73.6 569.7h.8M71.8 571.2h.8M65.4 572.9h.8M66.5 569.1h.8M74.9 576.3h.8M55.7 582.7h.8M65.9 576.4h.8M59.2 573.1h.8M73.1 566.5h.8M66.4 564.4h.8M62.0 580.6h.8M67.3 569.4h.8M55.1 571.0h.8M59.4 573.6h.8M64.4 568.3h.8M62.1 573.0h.8M71.5 560.9h.8M59.2 579.5h.8M56.1 573.6h.8M70.8 576.9h.8M47.1 566.0h.8M68.0 574.7h.8M65.8 566.7h.8M63.6 561.7h.8M74.8 573.2h.8M66.7 574.2h.8M62.3 579.6h.8M60.5 569.4h.8M57.8 566.1h.8M74.8 575.7h.8M56.5 574.4h.8M68.3 566.6h.8M56.6 576.9h.8M73.3 567.3h.8M58.7 572.8h.8M53.4 576.6h.8M76.7 570.4h.8M66.7 572.3h.8M63.2 572.6h.8M62.7 573.0h.8M63.3 572.8h.8M71.0 567.9h.8M58.7 576.6h.8M63.8 569.2h.8M68.5 565.2h.8M73.7 569.3h.8M60.4 570.0h.8M63.8 567.2h.8M68.3 558.4h.8M66.7 568.5h.8M60.3 576.5h.8M64.1 573.7h.8M62.9 570.7h.8M71.8 572.2h.8M73.0 566.8h.8M75.6 564.0h.8M53.6 567.7h.8M55.1 571.9h.8M55.2 577.6h.8M66.6 570.0h.8M67.8 569.1h.8M64.1 569.9h.8M64.5 565.8h.8M78.0 571.9h.8M71.1 579.0h.8M61.7 577.1h.8M56.8 578.1h.8M63.4 576.7h.8M69.0 573.6h.8M71.5 570.3h.8M67.7 577.4h.8M69.7 571.0h.8M75.5 564.4h.8M80.2 568.6h.8M64.1 564.4h.8M73.9 565.0h.8M67.3 570.4h.8M74.0 569.5h.8M53.0 573.9h.8M69.1 569.8h.8M72.8 569.8h.8M75.8 562.0h.8M75.9 567.3h.8M69.8 571.9h.8M65.6 574.2h.8M66.5 573.8h.8M63.7 577.4h.8M55.0 572.9h.8M66.6 571.4h.8M60.3 571.4h.8M70.2 573.5h.8M74.1 564.1h.8M65.4 569.3h.8M55.4 573.7h.8M71.3 561.2h.8M87.4 564.4h.8M78.3 565.1h.8M52.0 579.8h.8M75.9 562.7h.8M76.4 568.9h.8M73.1 570.5h.8M71.6 570.8h.8M75.2 567.9h.8M71.5 569.8h.8M65.7 566.4h.8M52.5 572.4h.8M55.3 568.8h.8M70.4 566.7h.8M81.1 578.1h.8M70.7 565.9h.8M68.6 568.2h.8M72.5 577.4h.8M79.6 569.8h.8M71.9 576.2h.8M73.7 570.9h.8M57.5 571.9h.8M67.2 568.9h.8M59.0 564.3h.8M61.3 572.4h.8M66.4 565.1h.8M69.2 577.8h.8M63.6 562.1h.8M65.2 570.9h.8M75.3 566.7h.8M76.3 566.9h.8M76.9 571.6h.8M77.1 565.8h.8M78.5 583.4h.8M58.7 575.2h.8M68.2 565.9h.8M71.7 566.9h.8M72.1 568.3h.8M62.3 577.5h.8M81.7 567.1h.8M64.9 562.6h.8M68.6 569.1h.8M57.4 565.5h.8M71.4 572.6h.8M75.7 576.7h.8M54.6 578.1h.8M69.1 575.9h.8M64.3 566.6h.8M67.0 572.2h.8M60.0 569.7h.8M70.0 572.8h.8M65.9 573.0h.8M62.5 570.7h.8M69.7 573.4h.8M76.8 564.4h.8M73.4 576.4h.8M71.3 566.1h.8M66.4 563.4h.8M51.1 574.4h.8M59.1 567.5h.8M72.4 565.0h.8M67.2 570.3h.8M62.8 566.4h.8M75.4 556.0h.8M67.7 573.1h.8M64.9 570.6h.8M69.0 570.2h.8M66.4 575.6h.8M72.8 574.4h.8M63.2 562.2h.8M54.5 573.9h.8M66.3 562.4h.8M65.3 577.0h.8M67.3 566.4h.8M66.0 571.1h.8M63.1 570.5h.8M62.7 573.3h.8M79.9 570.6h.8M62.9 583.5h.8M63.0 565.2h.8M56.9 575.9h.8M66.8 567.0h.8M60.8 572.1h.8M69.6 572.0h.8M65.5 559.1h.8M63.1 573.3h.8M70.6 572.1h.8M59.8 581.4h.8M58.2 573.5h.8M62.5 570.0h.8M63.0 576.1h.8M72.4 569.0h.8M56.9 572.1h.8M66.9 572.0h.8M62.3 571.1h.8M84.0 561.7h.8M59.7 561.7h.8M64.8 579.2h.8M69.7 562.8h.8M72.1 568.3h.8M62.9 576.0h.8M61.9 571.1h.8M67.1 571.0h.8M64.2 572.9h.8M66.9 571.0h.8M67.8 566.5h.8M57.4 574.6h.8M75.3 567.4h.8M66.5 566.6h.8M56.5 569.2h.8M59.8 571.9h.8M56.2 575.0h.8M57.5 578.1h.8M62.9 563.5h.8M63.4 573.0h.8M70.6 572.0h.8M63.9 570.9h.8M66.1 573.2h.8M61.7 571.9h.8M66.8 568.4h.8M62.1 579.2h.8M68.0 565.0h.8M77.9 560.7h.8M60.1 571.7h.8M95.2 545.9h.8M98.2 539.6h.8M94.1 540.1h.8M92.2 530.6h.8M95.8 537.0h.8M95.5 528.7h.8M95.7 525.8h.8M97.1 535.8h.8M92.5 532.2h.8M101.4 557.6h.8M91.4 544.8h.8M84.7 542.6h.8M94.2 537.3h.8M91.9 526.4h.8M95.2 532.6h.8M95.3 542.9h.8M93.6 539.2h.8M94.7 537.2h.8M92.5 537.1h.8M95.6 536.2h.8M93.6 525.5h.8M90.2 546.0h.8M97.2 537.8h.8M95.2 534.6h.8M95.9 542.3h.8M93.3 537.6h.8M98.0 525.0h.8M91.6 531.5h.8M90.9 532.3h.8M91.8 532.7h.8M96.3 527.6h.8M93.9 545.0h.8M95.4 527.2h.8M91.8 543.4h.8M93.8 531.2h.8M97.0 530.8h.8M90.5 539.5h.8M94.6 531.1h.8M95.2 543.2h.8M97.5 536.5h.8M95.4 539.1h.8M88.9 546.6h.8M92.5 531.6h.8M92.2 528.8h.8M97.6 535.8h.8M93.4 522.9h.8M94.8 535.3h.8M91.1 534.7h.8M88.3 539.6h.8M90.3 538.7h.8M95.6 521.1h.8M91.1 530.8h.8M96.4 539.8h.8M95.4 547.1h.8M93.6 532.0h.8M89.0 528.1h.8M96.4 529.9h.8M91.1 541.9h.8M86.0 544.6h.8M99.1 523.6h.8M95.7 535.6h.8M97.2 533.4h.8M93.2 545.2h.8M92.2 538.3h.8M96.3 534.9h.8M96.7 539.3h.8M97.6 524.1h.8M90.9 537.4h.8M97.2 545.6h.8M94.7 530.5h.8M91.8 522.0h.8M92.4 539.4h.8M94.7 525.5h.8M93.9 535.9h.8M91.3 545.4h.8M95.1 543.2h.8M95.0 528.9h.8M97.0 543.4h.8M93.1 526.3h.8M97.0 531.9h.8M90.7 534.8h.8M96.3 530.6h.8M93.9 542.4h.8M97.3 525.1h.8M95.6 547.9h.8M97.1 535.2h.8M96.1 524.9h.8M92.7 531.9h.8M100.6 536.0h.8M90.5 546.9h.8M98.8 524.5h.8M94.5 524.0h.8M98.5 520.2h.8M100.4 528.7h.8M90.1 549.8h.8M95.7 538.1h.8M97.4 529.0h.8M97.1 533.9h.8M95.7 537.3h.8M99.1 527.1h.8M89.7 539.8h.8M101.2 539.8h.8M93.4 540.2h.8M90.5 535.9h.8M89.1 536.0h.8M95.7 547.4h.8M92.3 541.8h.8M98.9 528.7h.8M94.3 522.8h.8M91.4 538.4h.8M88.2 533.1h.8M95.8 545.6h.8M86.4 537.7h.8M93.5 519.7h.8M90.9 539.4h.8M93.9 540.4h.8M93.0 540.0h.8M91.8 528.7h.8M94.6 523.5h.8M98.2 534.1h.8M91.7 529.4h.8M91.3 536.2h.8M92.7 541.4h.8M90.8 534.8h.8M89.9 532.1h.8M98.5 535.0h.8M97.0 535.3h.8M91.3 529.3h.8M90.7 537.7h.8M93.6 555.8h.8M98.9 541.8h.8M91.2 536.2h.8M90.4 551.6h.8M91.5 543.5h.8M89.8 540.6h.8M90.7 532.1h.8M94.7 536.6h.8M94.1 535.1h.8M91.7 534.6h.8M94.5 529.1h.8M95.9 536.9h.8M91.3 544.4h.8M93.4 522.4h.8M98.3 533.3h.8M98.5 538.9h.8M91.0 543.1h.8M95.2 542.0h.8M93.6 546.3h.8M97.2 533.5h.8M89.7 534.9h.8M94.9 528.8h.8M92.9 545.9h.8M92.3 543.2h.8M91.9 528.7h.8M97.2 534.6h.8M94.4 542.7h.8M99.8 527.4h.8M95.9 537.3h.8M93.8 548.0h.8M93.8 531.4h.8M96.8 521.7h.8M95.8 529.5h.8M95.6 530.5h.8M95.9 534.0h.8M91.8 539.1h.8M97.3 524.6h.8M90.4 533.5h.8M92.4 544.6h.8M98.9 539.2h.8M97.7 533.5h.8M89.9 537.4h.8M88.1 546.5h.8M94.5 543.7h.8M93.1 524.3h.8M93.4 538.9h.8M93.8 532.0h.8M94.6 534.3h.8M99.1 526.8h.8M87.5 534.4h.8M95.8 525.0h.8M93.9 538.6h.8M95.1 537.7h.8M92.6 525.4h.8M97.3 533.3h.8M89.3 546.0h.8M97.9 516.3h.8M102.1 537.1h.8M88.9 541.8h.8M94.6 544.2h.8M95.1 524.0h.8M93.9 532.6h.8M95.2 534.3h.8M96.5 527.2h.8M92.8 531.9h.8M96.3 523.8h.8M93.1 552.1h.8M88.2 542.3h.8M94.1 542.4h.8M94.3 537.4h.8M95.1 538.8h.8M90.6 534.4h.8M99.1 545.8h.8M92.1 528.8h.8M93.2 542.8h.8M97.3 531.7h.8M87.0 534.7h.8M88.6 543.5h.8M98.4 540.5h.8M95.8 539.6h.8M99.3 543.5h.8M99.2 527.9h.8M92.6 535.4h.8M87.6 533.1h.8M94.2 535.1h.8M102.0 534.7h.8M93.7 534.7h.8M93.9 525.6h.8M97.6 535.9h.8M95.3 535.9h.8M92.6 524.3h.8M93.1 539.2h.8M93.5 540.6h.8M91.9 533.3h.8M94.7 534.9h.8M94.1 545.5h.8M92.9 536.4h.8M92.0 539.2h.8M95.3 530.5h.8M91.7 527.0h.8M93.3 536.5h.8M92.8 534.6h.8M93.5 551.8h.8M96.7 551.9h.8M94.5 537.1h.8M100.0 538.6h.8M96.5 532.2h.8M92.2 540.8h.8M92.7 530.8h.8M89.5 537.3h.8M93.7 539.3h.8M92.2 526.7h.8M97.6 535.9h.8M97.2 527.7h.8M91.5 517.7h.8M94.7 542.5h.8M97.4 548.1h.8M89.2 527.6h.8M93.0 529.9h.8M94.0 529.9h.8M89.7 534.9h.8M95.0 530.2h.8M94.9 526.5h.8M93.4 533.1h.8M92.8 534.9h.8M91.0 525.9h.8M91.3 540.4h.8M91.7 528.8h.8M100.4 534.2h.8M93.5 529.3h.8M98.5 539.5h.8M94.2 546.6h.8M91.4 523.6h.8M97.4 538.8h.8M92.2 540.9h.8M93.0 549.0h.8M90.1 537.7h.8M96.8 541.9h.8M93.3 532.7h.8M92.5 540.2h.8M93.0 534.5h.8M97.4 535.0h.8M95.0 534.7h.8M95.3 520.1h.8M91.1 537.9h.8M92.5 531.1h.8M93.3 551.4h.8M92.3 528.7h.8M88.5 538.3h.8M94.4 529.7h.8M92.5 542.2h.8M97.1 538.3h.8M97.3 542.8h.8M92.4 540.9h.8M94.3 540.9h.8M94.0 550.4h.8M90.2 537.8h.8M89.7 551.4h.8M92.8 532.8h.8M94.2 535.2h.8M99.5 535.5h.8M94.4 543.0h.8M99.3 529.2h.8M95.8 526.3h.8M95.0 545.5h.8M92.7 533.4h.8M97.6 538.8h.8M96.9 532.5h.8M93.4 532.9h.8M99.7 525.4h.8M91.8 546.3h.8M94.5 527.9h.8M95.0 534.0h.8M93.6 539.0h.8M97.4 525.2h.8M94.1 546.0h.8M90.1 534.5h.8M90.3 539.9h.8M91.8 533.0h.8M92.7 538.6h.8M90.9 525.5h.8M94.1 545.0h.8M92.4 538.3h.8M95.0 536.3h.8M94.4 531.6h.8M92.9 543.9h.8M94.9 544.6h.8M91.9 536.2h.8M92.9 526.1h.8M97.1 533.7h.8M95.6 525.6h.8M93.5 534.6h.8M92.5 542.5h.8M95.5 536.5h.8M95.1 532.4h.8M92.1 533.4h.8M91.1 534.1h.8M93.3 543.4h.8M91.7 552.4h.8M92.5 536.3h.8M94.4 531.2h.8M94.9 523.1h.8M97.9 531.7h.8M95.0 522.8h.8M96.6 526.6h.8M98.9 528.5h.8M91.6 540.0h.8M99.1 521.9h.8M88.2 546.5h.8M96.3 524.9h.8M92.5 540.3h.8M92.3 546.0h.8M91.9 536.5h.8M97.0 546.2h.8M94.6 539.6h.8M93.2 535.0h.8M92.2 538.1h.8M97.3 528.6h.8M90.6 535.6h.8M100.2 537.5h.8M94.6 535.2h.8M89.4 530.1h.8M99.8 521.0h.8M100.3 527.4h.8M99.1 554.4h.8M98.8 534.8h.8M96.3 531.7h.8M92.7 536.8h.8M84.3 538.8h.8M93.8 527.8h.8M93.0 540.0h.8M91.6 537.9h.8M90.0 535.9h.8M90.3 540.6h.8M90.7 539.6h.8M88.0 536.3h.8M97.9 529.9h.8M94.8 529.4h.8M95.3 540.9h.8M97.0 545.1h.8M98.5 530.6h.8M94.3 539.3h.8M95.4 526.2h.8M99.1 553.9h.8M95.6 517.1h.8M99.8 534.6h.8M101.6 528.6h.8M95.4 541.2h.8M89.9 532.8h.8M95.4 540.3h.8M96.7 517.0h.8M86.7 537.6h.8M99.8 524.9h.8M94.9 542.1h.8M92.0 524.0h.8M95.2 532.4h.8M94.0 534.0h.8M93.7 537.7h.8M92.6 535.1h.8M92.9 529.2h.8M95.7 529.7h.8M95.8 535.4h.8M97.2 539.9h.8M88.1 534.9h.8M96.1 536.4h.8M93.8 543.2h.8M96.9 526.1h.8M94.0 542.6h.8M95.3 526.4h.8M96.3 539.9h.8M97.6 536.9h.8M94.1 541.6h.8M89.9 547.4h.8M95.3 537.1h.8M96.1 541.2h.8M87.0 541.6h.8M94.2 529.9h.8M96.5 542.3h.8M95.6 531.1h.8M95.0 528.7h.8M102.2 531.3h.8M96.0 547.2h.8M91.8 531.5h.8M87.4 533.3h.8M90.0 536.3h.8M93.5 535.5h.8M94.5 532.1h.8M94.5 535.0h.8M92.1 533.1h.8M93.1 526.1h.8M95.0 522.2h.8M95.8 535.3h.8M94.1 543.7h.8M97.3 532.5h.8M94.6 544.0h.8M93.5 538.1h.8M96.0 528.2h.8M95.2 532.7h.8M93.2 538.5h.8M96.6 529.2h.8M93.5 534.0h.8M91.1 537.9h.8M93.9 530.4h.8M97.1 535.1h.8M90.7 534.6h.8M93.4 537.5h.8M100.8 539.9h.8M98.7 534.5h.8M95.4 539.1h.8M93.7 537.2h.8M92.4 540.3h.8M90.5 547.5h.8M83.5 524.8h.8M93.6 538.0h.8M95.4 524.0h.8M95.9 529.3h.8M95.0 532.5h.8M94.1 524.6h.8M90.4 531.2h.8M90.8 537.0h.8M89.8 536.7h.8M96.2 530.3h.8M91.4 532.8h.8M95.9 545.5h.8M100.7 536.6h.8M96.0 537.0h.8M94.6 527.8h.8M92.5 543.3h.8M98.7 531.5h.8M88.3 548.6h.8M94.0 538.7h.8M94.5 522.6h.8M95.6 528.6h.8M93.6 530.9h.8M92.2 552.5h.8M99.7 521.9h.8M89.7 531.5h.8M91.7 540.9h.8M99.3 530.6h.8M96.0 534.1h.8M87.5 543.4h.8M99.9 530.0h.8M96.3 531.9h.8M94.1 532.2h.8M93.7 535.8h.8M92.2 537.3h.8M89.8 541.0h.8M92.2 522.0h.8M96.9 533.2h.8M92.1 541.9h.8M93.1 549.3h.8M93.9 555.2h.8M91.5 559.9h.8M92.0 574.3h.8M99.8 574.5h.8M93.9 567.3h.8M93.2 550.4h.8M96.4 576.2h.8M91.4 563.8h.8M90.9 562.7h.8M90.5 557.0h.8M95.9 552.0h.8M95.4 556.9h.8M92.1 551.6h.8M94.4 557.8h.8M99.2 558.2h.8M93.4 568.0h.8M90.2 558.9h.8M90.0 567.4h.8M93.5 570.2h.8M89.0 558.3h.8M92.5 561.2h.8M93.6 570.9h.8M93.1 559.1h.8M92.7 559.5h.8M91.1 575.4h.8M94.5 575.2h.8M92.2 563.6h.8M89.5 565.4h.8M94.6 568.2h.8M89.8 564.6h.8M95.2 561.1h.8M94.6 560.9h.8M92.8 560.4h.8M88.9 558.8h.8M93.2 562.2h.8M92.7 560.4h.8M95.0 562.9h.8M93.8 561.0h.8M96.1 563.3h.8M93.9 577.5h.8M93.9 554.4h.8M91.0 566.0h.8M89.4 554.9h.8M92.5 554.3h.8M95.6 566.6h.8M92.0 571.4h.8M91.0 556.7h.8M95.1 564.1h.8M92.2 570.3h.8M92.4 568.0h.8M93.3 571.1h.8M94.2 561.1h.8M96.7 561.8h.8M97.3 556.2h.8M92.9 550.2h.8M94.1 572.2h.8M91.8 566.9h.8M92.2 572.8h.8M93.6 566.2h.8M95.6 554.6h.8M94.6 564.8h.8M96.1 564.2h.8M94.3 563.6h.8M90.2 560.9h.8M92.3 555.8h.8M92.7 561.1h.8M97.5 562.5h.8M93.1 564.6h.8M94.6 554.1h.8M88.3 573.7h.8M90.6 558.5h.8M95.8 565.8h.8M90.7 568.6h.8M89.9 574.0h.8M92.0 566.0h.8M92.8 575.8h.8M90.3 563.4h.8M98.3 551.4h.8M91.5 565.7h.8M92.2 566.7h.8M95.8 557.0h.8M91.1 572.1h.8M97.8 547.6h.8M94.2 570.1h.8M91.0 558.6h.8M89.9 562.8h.8M89.8 568.4h.8M91.0 567.2h.8M88.7 569.4h.8M94.5 569.8h.8M93.5 578.1h.8M95.3 564.3h.8M96.9 561.8h.8M93.2 574.1h.8M91.6 564.0h.8M93.4 565.1h.8M92.2 570.2h.8M98.4 561.6h.8M89.0 561.1h.8M89.2 556.2h.8M90.1 570.5h.8M93.2 568.4h.8M92.5 570.3h.8M91.7 572.0h.8M95.1 565.3h.8M89.0 557.2h.8M93.5 557.6h.8M92.4 563.0h.8M96.4 559.8h.8M93.1 561.2h.8M90.9 566.7h.8M95.3 555.2h.8M96.7 577.7h.8M93.2 567.2h.8M90.1 561.5h.8M93.6 563.5h.8M96.4 558.6h.8M92.2 567.2h.8M92.6 562.5h.8M92.5 566.5h.8M87.8 579.9h.8M94.7 557.5h.8M90.5 557.1h.8M93.9 552.6h.8M99.1 560.6h.8M89.2 576.6h.8M92.8 567.0h.8M92.3 562.4h.8M98.1 551.9h.8M93.5 559.5h.8M91.9 563.6h.8M88.1 567.8h.8M93.3 567.4h.8M91.3 568.6h.8M91.6 568.7h.8M96.3 567.8h.8M89.1 564.5h.8M90.1 575.9h.8M93.3 556.2h.8M88.9 572.1h.8M90.2 566.5h.8M92.0 563.1h.8M91.7 564.1h.8M97.0 558.7h.8M94.1 567.0h.8M91.1 557.3h.8M90.5 567.5h.8M93.2 570.3h.8M93.8 564.7h.8M92.9 565.4h.8M92.9 568.1h.8M90.6 570.6h.8M97.0 563.5h.8M94.3 556.8h.8M93.1 555.3h.8M95.4 564.3h.8M95.6 570.9h.8M90.9 569.0h.8M96.8 577.6h.8M92.5 567.4h.8M91.2 567.9h.8M94.4 572.9h.8M92.4 564.4h.8M94.1 563.0h.8M98.2 550.5h.8M88.4 561.0h.8M94.6 564.1h.8M93.9 554.8h.8M94.4 567.3h.8M97.0 569.0h.8M91.2 559.5h.8M89.9 561.1h.8M92.6 571.7h.8M97.1 564.5h.8M94.4 563.0h.8M89.5 567.3h.8M90.9 554.2h.8M90.7 573.1h.8M89.8 572.3h.8M89.3 563.6h.8M94.1 561.6h.8M90.3 564.1h.8M97.1 568.0h.8M93.3 567.5h.8M95.9 572.1h.8M92.1 558.7h.8M90.3 564.4h.8M92.0 564.1h.8M91.2 579.2h.8M91.0 572.7h.8M90.6 559.3h.8M89.8 557.4h.8M88.6 559.0h.8M92.2 568.3h.8M88.2 566.7h.8M92.5 564.0h.8M87.2 567.0h.8M94.6 571.0h.8M92.1 571.6h.8M93.0 558.5h.8M94.2 570.0h.8M93.4 563.8h.8M92.2 568.1h.8M88.1 565.9h.8M89.5 560.9h.8M93.3 571.5h.8M92.8 558.4h.8M99.9 566.0h.8M85.8 563.5h.8M90.9 560.4h.8M95.6 577.0h.8M93.1 555.9h.8M95.1 564.6h.8M91.8 565.3h.8M89.8 565.2h.8M93.7 571.3h.8M98.0 560.2h.8M93.8 559.2h.8M93.1 571.0h.8M94.5 562.3h.8M97.5 569.4h.8M96.0 564.5h.8M96.3 563.2h.8M95.1 564.3h.8M92.8 554.7h.8M95.4 567.5h.8M91.2 564.4h.8M94.4 567.9h.8M87.4 573.1h.8M90.1 575.6h.8M95.8 564.9h.8M93.4 565.8h.8M91.8 573.2h.8M91.1 560.8h.8M92.2 554.4h.8M95.5 556.9h.8M96.8 569.8h.8M98.1 560.4h.8M92.0 561.3h.8M94.9 558.6h.8M92.0 550.0h.8M92.9 565.3h.8M98.0 559.0h.8M95.4 567.5h.8M95.1 557.3h.8M83.7 561.1h.8M95.4 565.1h.8M96.6 577.2h.8M91.0 561.6h.8M96.9 553.9h.8M86.2 565.7h.8M93.7 573.3h.8M94.8 563.8h.8M91.3 552.9h.8M94.2 560.3h.8M91.8 566.0h.8M87.4 563.5h.8M91.2 576.2h.8M92.5 571.0h.8M90.2 554.4h.8M95.2 561.9h.8M89.3 570.6h.8M94.2 553.5h.8M92.2 576.3h.8M93.1 555.7h.8M90.6 572.6h.8M96.8 568.3h.8M88.8 569.2h.8M90.6 560.9h.8M91.5 570.7h.8M94.2 567.6h.8M91.6 560.9h.8M95.7 560.3h.8M92.1 567.5h.8M92.4 570.1h.8M94.3 568.0h.8M99.0 560.7h.8M98.4 556.1h.8M90.7 548.6h.8M91.0 559.1h.8M94.7 571.9h.8M99.0 560.8h.8M95.7 562.9h.8M87.9 538.2h.8M91.9 552.0h.8M95.2 558.2h.8M94.6 559.9h.8M94.1 558.1h.8M93.9 575.3h.8M93.8 555.5h.8M90.7 564.9h.8M95.0 556.3h.8M90.4 553.9h.8M97.5 565.8h.8M93.7 561.3h.8M98.0 567.6h.8M92.6 571.6h.8M94.4 562.3h.8M91.9 564.1h.8M96.5 555.2h.8M88.4 568.3h.8M95.7 573.1h.8M94.4 554.6h.8M95.0 565.1h.8M90.1 554.0h.8M88.7 564.5h.8M89.4 566.3h.8M92.4 568.1h.8M95.2 558.3h.8M91.8 568.7h.8M91.1 570.4h.8M94.4 569.7h.8M91.2 569.0h.8M92.3 565.4h.8M94.5 560.5h.8M92.7 549.1h.8M91.0 567.9h.8M89.9 550.7h.8M89.0 562.1h.8M94.6 567.4h.8M89.0 566.6h.8M89.5 570.9h.8M93.9 560.0h.8M91.6 563.5h.8M91.3 571.4h.8M93.6 560.4h.8M94.0 555.3h.8M93.2 561.9h.8M91.3 563.6h.8M93.4 554.8h.8M93.8 582.6h.8M94.9 560.3h.8M93.8 574.5h.8M90.0 574.5h.8M91.9 576.0h.8M90.6 570.6h.8M91.3 571.9h.8M95.2 566.1h.8M90.6 570.6h.8M93.8 557.2h.8M94.3 562.9h.8M92.5 557.8h.8M93.4 569.4h.8M90.6 569.1h.8M88.0 564.7h.8M93.5 558.0h.8M93.2 555.7h.8M97.7 566.5h.8M95.7 558.1h.8M86.9 563.5h.8M96.3 563.0h.8M95.9 566.5h.8M93.7 570.6h.8M91.3 561.4h.8M95.7 566.9h.8M91.4 557.2h.8M96.7 543.6h.8M95.2 563.1h.8M89.4 566.6h.8M94.1 578.4h.8M93.6 548.1h.8M90.4 568.8h.8M91.6 563.6h.8M92.6 573.1h.8M93.7 563.0h.8M91.2 570.4h.8M91.0 566.6h.8M93.9 568.7h.8M94.9 565.8h.8M97.9 568.9h.8M90.9 558.3h.8M91.0 572.4h.8M90.0 573.9h.8M93.9 560.3h.8M90.2 563.4h.8M94.8 563.5h.8M94.7 565.1h.8M96.3 560.9h.8M92.5 556.8h.8M92.0 557.7h.8M88.9 562.6h.8M94.6 549.8h.8M89.5 555.2h.8M93.8 567.6h.8M93.6 562.8h.8M90.9 565.2h.8M90.6 562.5h.8M93.8 562.4h.8M95.9 550.2h.8M88.8 570.3h.8M91.4 561.0h.8M91.4 563.6h.8M92.4 566.3h.8M95.2 575.7h.8M87.4 563.3h.8M90.6 565.3h.8M90.3 564.4h.8M93.5 563.7h.8M93.4 568.1h.8M90.1 563.7h.8M96.0 553.7h.8M95.8 544.8h.8M91.1 554.0h.8M93.0 550.5h.8M92.0 553.6h.8M93.5 543.9h.8M94.1 547.2h.8M92.3 551.9h.8M93.4 546.1h.8M89.7 546.7h.8M92.6 542.9h.8M91.3 560.8h.8M91.2 549.3h.8M89.5 547.3h.8M93.7 549.8h.8M88.2 549.2h.8M90.3 554.5h.8M92.7 557.0h.8M94.0 543.1h.8M95.7 546.5h.8M92.7 549.5h.8M89.4 554.9h.8M93.4 543.7h.8M89.1 551.3h.8M96.4 551.0h.8M93.9 546.9h.8M96.1 551.8h.8M90.8 545.9h.8M86.9 554.9h.8M101.4 548.4h.8M94.2 552.9h.8M92.4 559.9h.8M90.2 544.7h.8M97.6 553.6h.8M95.1 548.5h.8M92.9 549.7h.8M94.2 545.9h.8M95.9 557.8h.8M91.5 544.2h.8M93.4 561.5h.8M90.3 555.8h.8M91.1 545.2h.8M96.1 548.1h.8M92.9 552.6h.8M96.2 550.2h.8M97.4 545.6h.8M91.5 552.5h.8M94.8 540.2h.8M92.1 552.5h.8M92.6 558.1h.8M52.5 575.2h.8M55.9 558.4h.8M67.2 567.5h.8M63.5 564.0h.8M77.0 555.5h.8M59.0 559.0h.8M79.4 551.0h.8M87.3 552.8h.8M74.0 579.6h.8M61.5 581.5h.8M53.8 569.0h.8M77.4 567.3h.8M74.8 568.1h.8M83.7 548.2h.8M64.5 576.6h.8M51.3 567.9h.8M101.9 567.1h.8M76.2 565.6h.8M65.7 561.1h.8M57.3 563.3h.8M55.8 573.4h.8M72.3 558.2h.8M67.9 556.5h.8M73.5 563.1h.8M69.8 568.9h.8M85.7 563.2h.8M63.0 571.0h.8M76.1 569.5h.8M79.9 556.5h.8M58.0 576.9h.8M58.3 575.3h.8M104.9 565.2h.8M50.9 567.0h.8M73.8 563.3h.8M78.8 566.0h.8M75.4 569.9h.8M55.2 582.4h.8M51.3 566.4h.8M42.2 577.3h.8M73.7 562.6h.8M50.2 555.6h.8M73.3 556.0h.8M66.5 570.5h.8M70.5 570.5h.8M91.2 565.6h.8M58.3 571.1h.8M65.1 561.6h.8M76.6 561.4h.8M74.6 571.0h.8M92.7 553.7h.8M84.4 580.4h.8M89.4 562.7h.8M62.0 571.5h.8M61.7 566.6h.8M49.3 572.2h.8M49.6 583.1h.8M75.0 561.8h.8M70.8 567.9h.8M68.0 570.4h.8M69.3 571.3h.8M60.9 571.1h.8M87.3 553.9h.8M63.4 577.7h.8M74.2 567.0h.8M71.1 563.3h.8M65.4 573.3h.8M74.0 571.3h.8M81.5 582.3h.8M75.0 577.5h.8M78.2 583.7h.8M79.5 557.3h.8M87.0 556.2h.8M79.8 557.2h.8M74.8 566.9h.8M80.8 544.8h.8M50.5 582.8h.8M77.5 560.2h.8M66.5 553.5h.8M63.9 563.8h.8M81.2 565.4h.8M71.6 576.7h.8M64.7 575.8h.8M68.8 571.7h.8M70.6 579.2h.8M70.7 584.4h.8M77.2 557.6h.8M68.7 579.3h.8M84.0 551.8h.8M73.9 571.3h.8M99.8 562.3h.8" stroke="#111" stroke-opacity="0.36" stroke-width="1.0" fill="none" filter="url(#bl)"/><path d="M85.8 507V589.5M38.8 551.5H121.8" stroke="#5c5c5c" stroke-width="1" fill="none"/><path d="M51.3 589.5v1.5M38.8 577.1h-1.5M53.3 589.5v1.5M38.8 575.1h-1.5M54.9 589.5v1.5M38.8 573.5h-1.5M56.3 589.5v1.5M38.8 572.1h-1.5M57.5 589.5v1.5M38.8 570.9h-1.5M58.6 589.5v1.5M38.8 569.8h-1.5M59.5 589.5v2.4M38.8 568.9h-2.4M65.8 589.5v1.5M38.8 562.7h-1.5M69.5 589.5v1.5M38.8 559.0h-1.5M72.0 589.5v1.5M38.8 556.5h-1.5M74.1 589.5v1.5M38.8 554.5h-1.5M75.7 589.5v1.5M38.8 552.8h-1.5M77.1 589.5v1.5M38.8 551.4h-1.5M78.3 589.5v1.5M38.8 550.2h-1.5M79.4 589.5v1.5M38.8 549.2h-1.5M80.3 589.5v2.4M38.8 548.2h-2.4M86.5 589.5v1.5M38.8 542.0h-1.5M90.2 589.5v1.5M38.8 538.4h-1.5M92.8 589.5v1.5M38.8 535.8h-1.5M94.8 589.5v1.5M38.8 533.8h-1.5M96.4 589.5v1.5M38.8 532.2h-1.5M97.8 589.5v1.5M38.8 530.8h-1.5M99.0 589.5v1.5M38.8 529.6h-1.5M100.1 589.5v1.5M38.8 528.6h-1.5M101.0 589.5v2.4M38.8 527.6h-2.4M107.3 589.5v1.5M38.8 521.4h-1.5M111.0 589.5v1.5M38.8 517.8h-1.5M113.5 589.5v1.5M38.8 515.2h-1.5M115.6 589.5v1.5M38.8 513.2h-1.5M117.2 589.5v1.5M38.8 511.6h-1.5M118.6 589.5v1.5M38.8 510.2h-1.5M119.8 589.5v1.5M38.8 509.0h-1.5M120.9 589.5v1.5M38.8 507.9h-1.5" stroke="#111" stroke-width="0.6" fill="none" stroke-opacity="0.85"/><rect x="38.8" y="507" width="83.0" height="82.5" fill="none" stroke="#111" stroke-width="1.15"/><text x="41.0" y="515.4" font-size="7.8" fill="#111">0.6</text><text x="120.6" y="515.4" font-size="7.8" text-anchor="end" fill="#111">13.3</text><text x="41.0" y="588.4" font-size="7.8" fill="#111">77.3</text><text x="120.6" y="588.4" font-size="7.8" text-anchor="end" fill="#111">8.8</text><text x="83" y="503.2" font-size="12.2" text-anchor="middle" font-style="italic" fill="#111">hd/+</text><path d="M160.5 572.0h.8M159.1 563.9h.8M159.4 566.9h.8M158.8 568.7h.8M161.2 563.4h.8M161.9 559.1h.8M165.7 567.5h.8M160.3 560.3h.8M157.1 570.1h.8M164.8 569.2h.8M149.6 572.7h.8M165.5 559.5h.8M150.9 569.7h.8M157.8 567.5h.8M169.4 564.8h.8M148.4 577.0h.8M162.4 570.8h.8M162.6 573.4h.8M160.3 565.3h.8M153.6 575.3h.8M155.9 561.1h.8M168.5 570.2h.8M146.8 576.8h.8M168.0 572.5h.8M167.3 560.8h.8M164.7 569.2h.8M152.7 578.3h.8M165.2 569.5h.8M155.6 573.9h.8M159.3 566.6h.8M161.1 569.0h.8M149.7 572.6h.8M159.7 560.0h.8M176.8 572.6h.8M164.9 565.6h.8M150.9 566.6h.8M153.3 575.3h.8M154.5 571.3h.8M158.8 572.8h.8M170.8 567.3h.8M166.8 569.9h.8M170.4 558.7h.8M160.8 564.3h.8M160.1 566.7h.8M162.3 570.3h.8M146.3 561.5h.8M164.1 571.1h.8M160.2 575.0h.8M176.0 560.7h.8M159.7 570.5h.8M162.7 559.3h.8M159.8 557.9h.8M153.2 572.1h.8M160.1 562.0h.8M162.9 572.8h.8M149.8 575.4h.8M166.5 558.2h.8M169.3 565.7h.8M158.1 568.9h.8M160.0 568.1h.8M157.4 565.5h.8M169.7 571.7h.8M161.5 574.1h.8M152.4 565.1h.8M165.1 566.7h.8M161.6 562.5h.8M159.4 573.2h.8M171.8 563.7h.8M157.9 555.9h.8M158.1 575.2h.8M171.9 558.3h.8M143.5 578.1h.8M150.4 570.3h.8M155.3 568.3h.8M154.7 573.6h.8M159.8 561.5h.8M153.1 581.3h.8M164.5 566.8h.8M152.5 582.0h.8M153.2 571.7h.8M161.1 563.8h.8M160.2 565.6h.8M143.3 568.9h.8M154.8 567.7h.8M166.3 573.1h.8M162.6 577.4h.8M157.4 569.7h.8M155.4 561.8h.8M159.3 567.2h.8M155.8 573.6h.8M162.4 565.3h.8M154.6 571.9h.8M153.0 567.0h.8M158.5 573.3h.8M157.8 568.1h.8M158.9 571.4h.8M160.6 571.7h.8M160.6 571.8h.8M156.6 565.8h.8M162.6 565.7h.8M159.7 575.2h.8M155.2 566.3h.8M160.5 574.8h.8M153.0 576.9h.8M162.9 564.6h.8M156.4 566.1h.8M144.3 570.7h.8M147.3 566.0h.8M158.1 571.7h.8M152.9 569.6h.8M154.3 569.6h.8M165.0 571.6h.8M164.9 567.5h.8M170.9 566.4h.8M164.4 568.7h.8M163.7 561.2h.8M154.0 571.2h.8M147.2 572.6h.8M158.3 570.3h.8M167.2 571.0h.8M144.0 576.5h.8M165.0 572.7h.8M156.4 571.7h.8M157.1 564.7h.8M163.4 571.1h.8M157.6 569.5h.8M167.1 563.7h.8M158.3 570.2h.8M163.7 568.2h.8M169.3 565.8h.8M148.6 565.3h.8M162.4 575.1h.8M159.3 566.1h.8M162.8 569.3h.8M166.0 558.8h.8M165.5 566.3h.8M167.6 569.8h.8M146.2 578.9h.8M161.8 563.3h.8M161.0 572.7h.8M151.1 576.5h.8M168.6 572.6h.8M152.9 568.3h.8M166.2 563.7h.8M157.7 556.2h.8M172.8 552.8h.8M149.4 575.4h.8M161.7 563.2h.8M145.6 577.4h.8M159.7 563.6h.8M159.6 565.3h.8M154.1 574.2h.8M159.9 568.2h.8M149.9 569.2h.8M156.8 566.5h.8M162.2 567.1h.8M157.9 568.1h.8M164.5 570.9h.8M154.1 575.4h.8M167.5 568.4h.8M156.4 570.7h.8M171.8 555.9h.8M165.1 564.3h.8M171.5 563.3h.8M164.5 562.8h.8M159.4 576.2h.8M150.0 570.0h.8M155.7 563.8h.8M161.8 561.1h.8M159.6 567.0h.8M144.9 575.8h.8M149.1 573.2h.8M142.7 573.4h.8M165.9 566.6h.8M170.6 571.1h.8M164.5 564.9h.8M160.1 571.0h.8M149.2 567.8h.8M163.0 575.2h.8M152.5 572.7h.8M156.2 573.3h.8M162.1 566.8h.8M165.6 564.1h.8M152.2 582.0h.8M159.6 569.7h.8M163.6 562.2h.8M155.1 566.5h.8M164.5 567.8h.8M158.6 562.1h.8M151.3 564.8h.8M148.9 569.4h.8M162.7 569.1h.8M148.5 576.4h.8M165.2 573.4h.8M162.8 559.2h.8M163.6 567.4h.8M160.6 564.0h.8M169.9 563.8h.8M152.3 562.6h.8M155.4 563.3h.8M152.7 579.5h.8M161.2 572.3h.8M168.8 567.5h.8M154.6 564.6h.8M158.8 569.1h.8M158.2 567.3h.8M158.0 561.7h.8M164.8 559.8h.8M158.9 564.1h.8M168.1 561.4h.8M152.6 569.5h.8M163.5 560.2h.8M149.7 570.1h.8M159.4 553.6h.8M170.5 574.3h.8M160.3 572.4h.8M155.3 560.8h.8M157.9 571.9h.8M151.5 570.4h.8M155.9 571.8h.8M177.1 560.4h.8M153.9 579.1h.8M156.9 567.3h.8M164.7 569.6h.8M161.9 568.7h.8M158.7 562.5h.8M166.9 569.1h.8M150.9 563.4h.8M155.9 570.7h.8M170.0 564.4h.8M135.9 576.0h.8M160.7 568.8h.8M148.5 571.5h.8M162.0 570.4h.8M168.6 572.2h.8M154.1 568.5h.8M157.6 571.5h.8M174.0 562.3h.8M159.1 563.7h.8M154.2 579.5h.8M161.9 574.1h.8M164.5 563.3h.8M159.8 563.5h.8M163.9 565.3h.8M167.7 570.6h.8M157.2 573.2h.8M161.8 564.4h.8M164.1 572.2h.8M162.8 571.5h.8M164.6 572.1h.8M158.2 567.1h.8M159.8 556.5h.8M159.1 576.0h.8M158.2 578.1h.8M170.1 560.7h.8M155.3 572.1h.8M169.5 572.3h.8M169.1 560.1h.8M164.9 563.1h.8M168.3 566.4h.8M169.7 562.9h.8M163.2 560.0h.8M154.0 573.3h.8M162.2 571.3h.8M174.8 557.9h.8M149.5 567.5h.8M157.7 574.8h.8M161.9 565.5h.8M164.2 565.1h.8M161.6 567.0h.8M151.9 575.8h.8M165.4 576.6h.8M159.4 565.1h.8M159.7 564.3h.8M158.9 566.5h.8M160.4 563.0h.8M158.3 566.6h.8M152.8 570.8h.8M166.2 568.7h.8M161.8 566.4h.8M166.0 563.6h.8M161.3 558.5h.8M150.0 568.8h.8M167.3 563.1h.8M161.0 561.8h.8M154.7 584.5h.8M174.9 569.8h.8M158.7 565.1h.8M161.2 566.0h.8M151.8 559.1h.8M157.2 558.0h.8M153.3 563.2h.8M171.5 556.0h.8M157.8 570.7h.8M158.1 569.9h.8M165.2 562.2h.8M163.3 565.6h.8M151.2 573.4h.8M154.3 575.7h.8M160.3 568.6h.8M165.4 561.1h.8M157.1 576.4h.8M165.9 567.3h.8M145.9 574.5h.8M152.0 568.4h.8M145.1 566.4h.8M157.6 570.9h.8M156.0 568.8h.8M163.1 573.2h.8M156.0 570.3h.8M179.5 558.5h.8M163.5 560.1h.8M151.5 569.5h.8M180.6 555.0h.8M169.0 561.0h.8M147.4 564.1h.8M163.2 571.7h.8M153.5 568.8h.8M150.6 568.4h.8M166.2 562.1h.8M153.6 573.8h.8M161.8 566.7h.8M175.3 562.1h.8M165.9 558.7h.8M161.9 573.3h.8M167.2 569.1h.8M148.8 571.6h.8M174.9 568.2h.8M134.0 570.2h.8M171.4 566.5h.8M164.2 551.6h.8M162.2 570.8h.8M167.0 559.5h.8M169.2 567.5h.8M159.3 576.1h.8M171.0 567.2h.8M157.2 570.5h.8M163.1 574.8h.8M176.2 555.8h.8M175.5 562.7h.8M153.6 567.0h.8M171.9 563.8h.8M154.8 569.2h.8M156.9 568.5h.8M171.9 558.7h.8M151.8 556.1h.8M165.6 569.9h.8M173.9 558.1h.8M157.1 567.0h.8M150.9 572.0h.8M153.8 569.4h.8M162.6 570.3h.8M165.2 577.5h.8M163.5 568.7h.8M163.7 565.5h.8M167.5 565.0h.8M149.1 570.1h.8M167.8 555.9h.8M173.3 562.1h.8M164.4 572.0h.8M160.8 564.9h.8M142.7 572.6h.8M152.7 574.6h.8M159.0 563.4h.8M170.5 567.3h.8M177.0 561.1h.8M151.1 572.4h.8M167.4 568.7h.8M151.2 574.2h.8M165.8 567.0h.8M147.1 571.4h.8M158.7 567.1h.8M166.1 562.9h.8M142.3 565.2h.8M162.0 562.6h.8M161.9 572.4h.8M156.1 569.3h.8M147.0 567.6h.8M166.7 570.4h.8M154.8 569.1h.8M161.7 564.7h.8M159.8 565.7h.8M163.5 563.4h.8M153.9 563.6h.8M151.4 564.1h.8M161.0 572.2h.8M148.8 568.5h.8M155.2 572.2h.8M157.2 567.3h.8M152.4 569.8h.8M155.9 565.5h.8M171.5 564.7h.8M159.5 569.4h.8M178.3 562.2h.8M156.0 569.3h.8M169.5 565.5h.8M158.2 568.9h.8M151.1 570.1h.8M156.5 568.0h.8M170.2 563.0h.8M168.7 563.5h.8M151.2 577.8h.8M155.8 569.0h.8M170.9 569.5h.8M163.7 572.3h.8M157.6 572.0h.8M155.2 574.8h.8M157.1 572.2h.8M153.9 577.7h.8M171.7 560.8h.8M158.7 563.4h.8M155.8 562.3h.8M165.3 564.8h.8M168.7 563.5h.8M156.7 564.9h.8M164.5 564.8h.8M148.3 565.6h.8M167.0 563.8h.8M158.5 565.5h.8M156.1 569.3h.8M159.2 561.9h.8M180.2 562.7h.8M145.9 574.5h.8M167.2 561.0h.8M150.9 574.5h.8M155.4 569.7h.8M172.3 561.8h.8M168.5 559.7h.8M145.7 572.3h.8M158.4 571.7h.8M186.9 550.8h.8M181.2 562.3h.8M182.4 560.8h.8M182.9 567.2h.8M180.5 558.4h.8M180.4 575.1h.8M184.7 554.5h.8M184.6 573.4h.8M180.4 556.1h.8M185.2 566.6h.8M184.4 578.7h.8M185.1 574.0h.8M181.5 576.9h.8M181.7 568.5h.8M178.6 562.3h.8M187.0 559.1h.8M184.4 549.1h.8M184.1 555.8h.8M184.6 562.3h.8M182.3 563.2h.8M182.8 565.9h.8M182.3 574.8h.8M189.1 546.9h.8M188.0 564.8h.8M185.8 559.1h.8M185.3 570.6h.8M183.3 557.1h.8M185.1 569.6h.8M183.2 549.2h.8M180.5 568.8h.8M188.4 558.8h.8M183.3 557.5h.8M185.7 560.0h.8M188.3 571.0h.8M183.8 562.8h.8M187.2 563.2h.8M182.8 566.7h.8M185.9 577.3h.8M184.0 556.4h.8M181.6 564.4h.8M188.0 545.9h.8M185.5 569.3h.8M185.8 554.6h.8M184.7 562.0h.8M180.9 570.3h.8M187.4 567.8h.8M184.9 573.8h.8M184.5 562.7h.8M188.8 561.6h.8M182.9 568.5h.8M183.6 558.5h.8M187.2 566.1h.8M182.6 561.3h.8M185.1 572.4h.8M183.7 574.9h.8M182.7 578.1h.8M187.5 557.4h.8M183.5 568.4h.8M184.8 558.4h.8M185.5 565.6h.8M180.9 555.7h.8M182.2 572.9h.8M183.8 567.3h.8M186.9 564.5h.8M184.2 565.4h.8M187.2 561.2h.8M185.8 560.5h.8M183.4 574.4h.8M181.5 569.4h.8M184.1 567.7h.8M185.5 566.7h.8M184.0 579.9h.8M183.1 557.5h.8M185.9 569.1h.8M190.1 561.7h.8M186.6 561.9h.8M183.2 561.2h.8M182.6 558.5h.8M183.4 564.6h.8M183.6 572.1h.8M181.7 565.0h.8M181.0 572.0h.8M181.9 563.0h.8M181.1 573.9h.8M181.7 556.9h.8M183.3 563.1h.8M180.7 574.3h.8M184.3 549.8h.8M184.6 555.8h.8M182.7 562.0h.8M182.0 562.5h.8M182.5 570.5h.8M191.6 561.4h.8M181.9 574.4h.8M188.1 572.4h.8M181.9 580.6h.8M183.4 575.1h.8M183.6 556.4h.8M188.5 559.6h.8M181.1 566.7h.8M181.0 570.8h.8M184.5 564.4h.8M181.4 576.9h.8M187.0 575.0h.8M179.2 578.2h.8M183.0 579.0h.8M186.1 560.9h.8M180.1 560.4h.8M187.8 562.9h.8M189.6 556.6h.8M186.0 565.3h.8M180.0 568.4h.8M183.2 563.6h.8M179.2 557.7h.8M182.4 564.6h.8M180.2 581.2h.8M182.8 567.4h.8M182.2 575.5h.8M184.9 573.7h.8M179.8 566.7h.8M183.2 570.8h.8M182.2 566.9h.8M181.7 563.0h.8M185.5 562.2h.8M181.9 564.6h.8M184.6 569.2h.8M181.2 562.3h.8M181.7 557.9h.8M189.6 575.9h.8M186.2 564.0h.8M185.2 578.0h.8M186.9 571.8h.8M179.5 583.9h.8M185.5 572.8h.8M184.7 568.9h.8M184.3 552.9h.8M186.9 586.3h.8M184.8 571.3h.8M183.4 571.8h.8M183.7 565.3h.8M187.1 553.1h.8M188.2 563.4h.8M185.1 570.8h.8M187.1 579.3h.8M181.3 558.3h.8M185.8 553.5h.8M185.8 565.2h.8M181.2 572.2h.8M182.1 560.0h.8M183.3 572.6h.8M183.8 563.3h.8M184.9 563.2h.8M178.2 572.5h.8M184.5 574.5h.8M184.0 569.6h.8M180.5 555.0h.8M177.8 574.4h.8M181.0 576.0h.8M185.5 562.7h.8M184.4 559.9h.8M182.5 568.4h.8M186.2 562.4h.8M178.7 574.2h.8M180.4 571.1h.8M180.5 558.6h.8M178.0 570.4h.8M189.0 567.5h.8M178.5 563.6h.8M184.4 568.8h.8M185.2 558.3h.8M181.6 580.3h.8M182.8 562.8h.8M181.2 560.9h.8M186.9 569.1h.8M182.8 563.0h.8M186.6 561.8h.8M182.0 563.3h.8M176.0 573.9h.8M181.1 571.5h.8M183.1 573.7h.8M180.5 584.6h.8M185.6 564.5h.8M186.4 550.2h.8M182.4 550.0h.8M181.4 582.5h.8M186.0 554.9h.8M179.4 568.4h.8M185.8 564.6h.8M187.7 568.2h.8M188.8 573.0h.8M191.7 546.3h.8M185.4 572.1h.8M187.5 570.9h.8M184.8 568.5h.8M184.0 570.4h.8M189.6 554.1h.8M183.9 554.7h.8M182.1 567.9h.8M184.1 569.0h.8M185.6 569.5h.8M183.1 565.0h.8M181.3 562.3h.8M183.3 568.8h.8M178.7 574.0h.8M184.9 554.1h.8M183.0 570.3h.8M184.5 562.8h.8M181.3 567.4h.8M184.1 568.3h.8M181.8 575.2h.8M178.9 565.4h.8M181.0 550.7h.8M183.7 572.4h.8M182.7 569.3h.8M182.5 574.7h.8M181.8 569.9h.8M186.0 554.1h.8M187.5 561.9h.8M181.3 560.6h.8M186.5 563.1h.8M186.7 559.0h.8M185.9 552.9h.8M182.0 575.7h.8M182.3 567.2h.8M177.6 578.0h.8M182.9 569.3h.8M183.6 558.0h.8M183.1 563.4h.8M181.1 564.5h.8M181.6 561.9h.8M176.9 557.7h.8M184.5 567.7h.8M182.9 569.0h.8M188.2 569.1h.8M184.2 565.3h.8M184.2 570.9h.8M176.1 581.2h.8M186.1 569.8h.8M182.3 564.9h.8M180.7 575.8h.8M183.2 553.5h.8M183.9 559.4h.8M184.2 567.1h.8M182.7 554.1h.8M183.9 556.1h.8M183.1 567.2h.8M182.6 567.0h.8M181.4 578.2h.8M179.8 557.2h.8M187.8 557.0h.8M185.7 564.4h.8M184.9 555.3h.8M182.8 564.7h.8M178.0 565.4h.8M184.3 548.9h.8M184.5 563.3h.8M178.7 574.1h.8M184.3 557.3h.8M181.1 567.8h.8M181.7 571.0h.8M180.1 567.5h.8M184.6 569.9h.8M182.3 558.5h.8M180.6 566.2h.8M175.9 586.2h.8M182.0 574.8h.8M181.8 575.7h.8M182.2 573.4h.8M186.2 568.3h.8M180.0 568.6h.8M184.4 563.6h.8M182.6 571.0h.8M177.7 569.4h.8M188.6 561.3h.8M187.4 562.8h.8M183.2 563.1h.8M184.3 560.1h.8M182.3 564.0h.8M181.3 565.1h.8M187.1 559.9h.8M184.8 560.2h.8M180.6 565.4h.8M182.2 573.1h.8M185.5 566.7h.8M180.9 575.7h.8M180.8 559.8h.8M185.3 569.0h.8M185.5 564.3h.8M184.7 574.7h.8M178.1 569.2h.8M187.1 558.4h.8M180.9 568.2h.8M185.4 565.8h.8M179.2 566.9h.8M183.7 563.0h.8M188.1 550.2h.8M184.4 561.3h.8M185.5 563.6h.8M188.2 567.6h.8M183.5 553.6h.8M183.0 565.4h.8M187.6 569.0h.8M184.9 559.1h.8M185.0 558.7h.8M179.6 568.7h.8M183.6 555.7h.8M185.8 575.1h.8M186.2 553.7h.8M182.2 558.3h.8M186.2 565.2h.8M182.5 555.2h.8M181.6 566.8h.8M182.7 569.4h.8M186.0 557.5h.8M185.9 566.2h.8M188.1 565.2h.8M182.9 564.8h.8M186.6 569.9h.8M186.1 573.7h.8M182.8 583.0h.8M183.7 564.0h.8M187.6 557.5h.8M183.8 573.2h.8M182.8 551.5h.8M179.1 573.7h.8M191.1 559.9h.8M181.2 556.1h.8M187.4 571.8h.8M186.1 560.6h.8M186.1 560.5h.8M185.9 560.3h.8M180.7 562.1h.8M184.6 568.3h.8M181.6 572.3h.8M181.0 550.7h.8M185.5 564.7h.8M184.0 562.3h.8M185.0 567.5h.8M188.2 559.1h.8M180.5 564.4h.8M183.3 563.4h.8M177.7 567.8h.8M188.0 568.8h.8M186.7 570.5h.8M184.2 568.7h.8M186.4 569.4h.8M185.6 565.4h.8M181.5 568.1h.8M182.3 569.8h.8M176.5 578.1h.8M186.2 577.3h.8M185.7 558.0h.8M183.7 556.9h.8M184.9 566.0h.8M185.7 552.0h.8M181.5 549.0h.8M187.3 569.8h.8M184.3 563.1h.8M179.3 562.4h.8M183.4 559.3h.8M188.2 551.0h.8M183.7 571.7h.8M187.2 554.8h.8M175.2 575.1h.8M187.9 564.9h.8M182.9 568.1h.8M186.7 566.9h.8M182.8 567.2h.8M183.3 581.0h.8M184.7 558.9h.8M187.9 577.4h.8M188.7 559.1h.8M183.4 555.3h.8M182.5 575.5h.8M186.4 566.3h.8M184.2 569.4h.8M184.4 557.9h.8M180.7 577.8h.8M182.3 557.0h.8M185.8 563.4h.8M182.9 566.8h.8M184.9 553.4h.8M186.4 567.6h.8M188.0 572.5h.8M182.7 562.3h.8M183.7 549.1h.8M186.5 560.9h.8M186.5 567.3h.8M182.4 577.8h.8M180.0 578.5h.8M181.3 581.6h.8M187.6 562.2h.8M188.5 569.4h.8M185.3 562.9h.8M184.2 562.7h.8M182.4 571.6h.8M185.3 575.3h.8M187.4 565.6h.8M186.3 564.1h.8M185.1 570.6h.8M185.7 560.0h.8M179.4 578.2h.8M182.3 561.0h.8M185.4 563.1h.8M184.1 576.1h.8M179.7 566.1h.8M186.8 555.6h.8M184.9 577.0h.8M183.8 569.4h.8M182.5 573.0h.8M182.6 565.7h.8M182.8 560.3h.8M187.2 565.8h.8M187.7 554.3h.8M181.5 558.8h.8M188.3 575.0h.8M190.5 563.2h.8M185.4 568.8h.8M182.9 570.2h.8M183.6 569.4h.8M180.0 557.6h.8M180.0 578.1h.8M187.2 558.9h.8M185.9 561.8h.8M181.7 558.7h.8M192.1 567.4h.8M182.8 575.1h.8M185.7 557.7h.8M188.2 582.8h.8M186.9 559.8h.8M183.8 566.7h.8M179.0 585.2h.8M184.5 561.7h.8M183.6 563.3h.8M177.0 566.2h.8M187.1 567.8h.8M185.3 565.4h.8M178.8 569.7h.8M186.7 558.4h.8M181.4 561.2h.8M182.4 547.1h.8M183.4 561.3h.8M183.4 574.8h.8M182.8 554.1h.8M183.2 570.8h.8M187.3 573.3h.8M184.4 566.3h.8M178.8 570.5h.8M186.3 565.5h.8M182.9 568.8h.8M184.8 569.8h.8M186.4 554.7h.8M183.8 553.4h.8M184.2 585.2h.8M182.0 564.6h.8M185.3 560.7h.8M188.5 567.9h.8M188.2 583.4h.8M186.0 560.4h.8M187.9 564.3h.8M182.0 564.1h.8M187.8 560.2h.8M182.7 572.3h.8M182.6 572.3h.8M187.8 562.5h.8M181.7 556.7h.8M187.1 570.3h.8M184.6 563.0h.8M187.3 562.6h.8M191.2 569.0h.8M178.8 573.2h.8M184.7 565.8h.8M182.6 574.6h.8M181.5 577.2h.8M181.2 572.3h.8M179.2 572.5h.8M181.5 563.8h.8M186.7 560.3h.8M185.5 566.0h.8M186.9 572.8h.8M184.9 564.5h.8M180.5 576.0h.8M184.4 556.5h.8M183.3 551.7h.8M182.0 562.2h.8M184.0 572.6h.8M187.7 552.6h.8M182.2 570.1h.8M185.0 565.8h.8M181.3 570.8h.8M184.0 563.9h.8M183.9 564.1h.8M184.0 573.9h.8M184.7 561.1h.8M183.8 564.6h.8M184.8 571.5h.8M187.8 572.8h.8M180.0 559.0h.8M180.3 567.6h.8M190.1 569.8h.8M181.4 575.8h.8M186.3 559.9h.8M180.2 576.3h.8M187.7 550.6h.8M181.5 569.7h.8M180.3 565.3h.8M182.9 553.2h.8M183.0 561.7h.8M186.1 553.2h.8M185.0 563.1h.8M178.7 574.2h.8M182.4 568.7h.8M187.9 569.2h.8M186.4 567.6h.8M182.2 567.0h.8M179.3 568.8h.8M185.9 569.2h.8M183.0 556.7h.8M182.1 563.4h.8M178.6 579.5h.8M181.6 566.5h.8M182.6 566.5h.8M178.8 557.6h.8M183.9 565.4h.8M185.5 561.9h.8M186.0 567.6h.8M183.8 565.9h.8M186.9 565.8h.8M188.1 567.1h.8M184.6 565.8h.8M184.4 569.2h.8M181.6 571.4h.8M190.6 570.5h.8M184.9 559.9h.8M182.5 559.5h.8M185.2 560.7h.8M188.7 563.1h.8M182.2 558.8h.8M183.8 564.6h.8M187.1 560.7h.8M184.1 572.8h.8M184.5 552.9h.8M183.8 573.3h.8M185.0 565.9h.8M177.4 577.1h.8M184.3 556.9h.8M182.9 566.8h.8M184.8 559.1h.8M189.6 575.6h.8M186.2 570.7h.8M183.8 557.0h.8M179.6 573.2h.8M182.9 577.8h.8M176.7 574.8h.8M185.6 561.9h.8M186.9 561.1h.8M182.8 569.5h.8M184.2 567.9h.8M183.7 573.4h.8M183.1 550.7h.8M183.3 547.7h.8M189.8 561.4h.8M183.6 568.2h.8M182.2 561.8h.8M184.6 565.9h.8M186.4 564.2h.8M183.2 554.8h.8M179.1 567.2h.8M185.1 562.8h.8M189.4 546.2h.8M186.6 557.1h.8M183.2 563.9h.8M182.1 563.4h.8M182.9 583.4h.8M183.4 571.0h.8M186.9 559.0h.8M185.6 562.9h.8M186.8 561.7h.8M187.6 559.4h.8M182.0 571.8h.8M186.1 572.4h.8M188.6 573.8h.8M183.2 572.6h.8M181.0 571.4h.8M185.1 564.7h.8M181.1 573.3h.8M178.5 563.9h.8M180.3 562.8h.8M183.4 559.5h.8M182.0 567.6h.8M188.0 579.1h.8M183.7 562.6h.8M186.3 559.7h.8M179.1 572.5h.8M181.6 576.8h.8M186.0 555.1h.8M184.4 569.4h.8M185.2 555.7h.8M178.3 579.0h.8M176.9 557.8h.8M184.8 579.2h.8M185.7 565.7h.8M184.1 574.3h.8M181.5 575.0h.8M184.5 567.3h.8M184.9 568.2h.8M180.2 576.9h.8M182.8 563.6h.8M178.7 552.9h.8M185.6 565.2h.8M183.9 562.9h.8M186.1 561.1h.8M181.1 553.3h.8M181.5 567.8h.8M187.5 570.3h.8M183.1 555.7h.8M185.8 569.7h.8M183.3 570.3h.8M185.2 569.7h.8M188.8 554.7h.8M182.5 561.6h.8M179.6 580.0h.8M184.6 568.9h.8M186.3 564.2h.8M186.4 564.5h.8M185.6 570.1h.8M188.7 554.9h.8M182.0 559.8h.8M181.4 568.3h.8M186.9 563.4h.8M186.2 572.6h.8M181.8 570.5h.8M188.3 562.6h.8M177.4 569.2h.8M184.2 570.4h.8M185.4 565.5h.8M184.5 559.8h.8M188.1 577.8h.8M184.2 559.4h.8M183.9 577.7h.8M184.7 559.7h.8M186.3 567.9h.8M181.9 563.9h.8M185.3 557.6h.8M183.7 575.3h.8M185.9 575.3h.8M186.1 565.4h.8M184.7 575.1h.8M183.7 569.7h.8M182.2 565.7h.8M183.5 557.7h.8M183.3 582.4h.8M179.7 561.8h.8M185.1 560.4h.8M183.8 572.2h.8M179.6 564.6h.8M185.1 570.3h.8M188.8 567.9h.8M187.8 562.0h.8M181.9 561.6h.8M182.1 572.4h.8M186.0 566.2h.8M181.4 566.7h.8M183.1 563.0h.8M178.0 577.0h.8M183.3 588.1h.8M191.3 567.1h.8M190.4 563.5h.8M191.7 566.3h.8M178.9 565.3h.8M184.8 578.9h.8M185.3 579.4h.8M185.7 554.7h.8M185.1 559.4h.8M188.0 550.3h.8M182.2 557.0h.8M183.5 573.7h.8M184.2 556.1h.8M182.7 564.6h.8M187.1 567.2h.8M190.0 545.1h.8M187.2 582.9h.8M180.4 586.0h.8M179.0 572.5h.8M180.9 561.0h.8M185.2 567.8h.8M184.9 564.6h.8M180.2 553.3h.8M182.4 558.2h.8M184.0 553.0h.8M183.3 569.6h.8M181.6 575.8h.8M183.8 573.0h.8M181.4 567.2h.8M181.5 551.3h.8M179.5 562.4h.8M183.0 581.9h.8M185.2 563.2h.8M186.8 567.1h.8M183.9 566.9h.8M185.4 578.3h.8M180.0 566.3h.8M182.7 565.9h.8M190.7 564.9h.8M176.5 571.7h.8M183.4 558.9h.8M188.5 581.7h.8M186.6 568.1h.8M180.8 576.7h.8M183.1 567.6h.8M183.4 567.1h.8M179.4 556.2h.8M182.1 549.2h.8M181.1 561.9h.8M183.5 565.2h.8M181.9 573.7h.8M178.6 561.3h.8M184.0 559.3h.8M187.9 565.4h.8M186.6 570.4h.8M182.4 573.3h.8M180.9 556.3h.8M184.8 547.8h.8M182.9 564.3h.8M179.9 557.6h.8M178.5 583.4h.8M187.0 570.8h.8M183.5 576.0h.8M183.3 575.3h.8M184.8 582.1h.8M187.4 562.0h.8M184.8 574.5h.8M184.1 582.7h.8M185.1 562.9h.8M185.5 574.8h.8M183.5 569.8h.8M184.2 567.9h.8M185.3 563.0h.8M185.8 568.9h.8M188.6 568.7h.8M185.3 556.7h.8M190.5 564.8h.8M182.8 563.7h.8M184.1 565.2h.8M189.1 562.8h.8M183.7 562.5h.8M187.0 553.7h.8M187.1 563.4h.8M178.9 576.6h.8M179.8 570.8h.8M184.6 560.9h.8M179.9 560.0h.8M186.2 565.6h.8M181.6 573.0h.8M184.0 566.4h.8M182.7 555.2h.8M182.5 567.9h.8M182.6 568.1h.8M183.5 564.0h.8M183.6 568.5h.8M177.8 565.1h.8M183.8 562.4h.8M185.8 574.8h.8M186.6 571.6h.8M185.2 566.9h.8M186.6 561.1h.8M183.4 568.2h.8M184.6 556.4h.8M184.1 562.6h.8M181.7 570.3h.8M186.9 566.7h.8M180.9 564.1h.8M184.3 557.8h.8M182.2 566.7h.8M182.0 568.9h.8M179.8 570.3h.8M181.9 566.5h.8M184.4 561.9h.8M192.8 521.1h.8M188.6 540.5h.8M187.8 534.6h.8M185.2 534.5h.8M189.4 530.4h.8M188.8 532.2h.8M185.6 534.3h.8M185.6 542.0h.8M185.2 546.2h.8M188.4 534.9h.8M186.1 538.4h.8M186.6 522.4h.8M191.2 518.4h.8M192.2 531.1h.8M192.9 537.5h.8M194.3 523.8h.8M187.0 537.1h.8M186.8 535.5h.8M187.6 540.4h.8M194.1 518.1h.8M191.1 526.0h.8M194.3 523.6h.8M185.7 539.0h.8M187.5 540.5h.8M190.1 529.0h.8M182.9 544.0h.8M187.9 534.2h.8M187.8 532.9h.8M186.3 535.3h.8M190.1 525.2h.8M183.5 539.1h.8M191.4 530.9h.8M188.4 531.0h.8M189.7 534.6h.8M187.4 528.8h.8M189.5 538.1h.8M186.9 538.2h.8M179.8 530.7h.8M190.4 518.8h.8M186.6 536.8h.8M191.9 538.5h.8M184.3 541.9h.8M187.1 541.6h.8M185.6 521.6h.8M183.4 539.4h.8M191.8 537.3h.8M189.1 534.2h.8M189.8 526.9h.8M191.5 541.8h.8M191.3 534.7h.8M190.3 543.1h.8M195.1 544.4h.8M186.9 528.5h.8M190.7 539.3h.8M190.1 535.6h.8M186.0 536.0h.8M184.0 536.9h.8M194.6 541.5h.8M186.6 527.9h.8M195.1 540.9h.8M186.6 539.6h.8M188.3 526.5h.8M188.6 539.2h.8M193.2 525.4h.8M193.0 533.5h.8M182.0 542.5h.8M191.0 539.6h.8M191.6 528.1h.8M191.1 522.1h.8M184.8 555.1h.8M193.1 538.6h.8M189.9 535.9h.8M190.2 536.9h.8M186.0 532.0h.8M183.5 527.6h.8M187.7 538.1h.8M196.2 522.7h.8M195.0 532.2h.8M187.3 534.3h.8M195.7 527.0h.8M187.0 539.4h.8M191.0 538.5h.8M188.2 543.0h.8M184.5 547.4h.8M186.8 538.0h.8M186.2 530.0h.8M191.0 539.9h.8M187.4 541.5h.8M199.7 516.4h.8M182.3 536.1h.8M182.7 542.8h.8M186.1 534.9h.8M184.6 551.4h.8M194.2 522.0h.8M190.7 532.8h.8M192.6 538.2h.8M186.6 531.5h.8M187.5 548.7h.8M189.2 531.0h.8M186.7 541.8h.8M186.4 549.0h.8M191.0 536.6h.8M189.1 532.5h.8M180.7 543.9h.8M193.1 533.9h.8M190.3 524.4h.8M187.8 536.5h.8M188.2 535.5h.8M191.0 541.1h.8M191.2 530.7h.8M187.0 535.0h.8M184.8 523.3h.8M189.5 535.3h.8M187.9 544.7h.8M181.9 537.8h.8M188.7 524.7h.8M189.5 546.6h.8M184.1 535.1h.8M191.3 535.8h.8M186.5 542.8h.8M183.5 534.4h.8M186.6 534.4h.8M184.7 536.3h.8M191.9 539.1h.8M185.0 530.7h.8M187.3 523.1h.8M190.3 539.4h.8M187.0 546.9h.8M191.0 530.7h.8M188.7 534.1h.8M187.6 545.7h.8M192.9 527.8h.8M195.4 522.9h.8M186.0 554.6h.8M189.7 544.7h.8M188.6 539.3h.8M185.6 546.8h.8M188.3 531.0h.8M182.6 552.3h.8M184.8 526.7h.8M189.9 535.6h.8M193.2 540.7h.8M190.1 529.1h.8M191.1 523.9h.8M185.3 546.1h.8M190.1 526.1h.8M186.7 534.0h.8M189.3 536.9h.8M193.0 511.7h.8M192.0 520.5h.8M187.1 536.2h.8M192.1 530.6h.8M185.2 528.3h.8M187.6 554.5h.8M185.2 530.8h.8M185.6 544.1h.8M190.3 534.2h.8M188.3 548.0h.8M188.5 526.2h.8M189.5 525.5h.8M188.6 542.3h.8M186.8 542.6h.8M190.8 550.3h.8M187.1 539.9h.8M190.4 542.0h.8M191.0 539.5h.8M189.9 542.9h.8M189.6 540.1h.8M189.4 534.9h.8M183.2 534.3h.8M189.0 531.0h.8M186.3 545.3h.8M189.3 517.3h.8M187.1 534.3h.8M192.0 538.1h.8M190.5 531.2h.8M188.0 522.6h.8M190.4 535.8h.8M186.4 535.7h.8M191.2 543.1h.8M190.1 544.8h.8M189.3 535.5h.8M188.2 539.3h.8M183.3 537.2h.8M189.3 528.4h.8M186.1 544.5h.8M187.5 534.6h.8M193.6 528.1h.8M188.7 532.1h.8M187.1 533.9h.8M190.3 533.4h.8M190.8 541.6h.8M185.3 535.6h.8M188.9 525.1h.8M182.6 543.0h.8M188.6 545.2h.8M192.6 542.0h.8M188.7 545.7h.8M188.4 532.3h.8M191.0 540.9h.8M187.3 532.0h.8M183.4 551.7h.8M187.8 531.4h.8M187.1 531.1h.8M188.9 535.8h.8M192.6 515.8h.8M187.8 548.7h.8M189.1 530.7h.8M194.7 531.8h.8M190.4 537.5h.8M188.8 527.4h.8M188.9 537.0h.8M194.9 523.8h.8M183.6 539.4h.8M186.1 512.5h.8M186.8 544.4h.8M184.2 523.0h.8M193.5 528.8h.8M186.1 533.8h.8M193.4 534.2h.8M190.9 534.3h.8M185.2 537.2h.8M182.5 543.1h.8M183.7 536.1h.8M182.3 534.0h.8M190.2 529.6h.8M194.2 535.8h.8M190.8 523.8h.8M186.9 537.1h.8M190.3 540.2h.8M185.5 523.2h.8M184.5 544.0h.8M184.2 525.1h.8M188.9 535.0h.8M188.9 528.7h.8M189.6 534.5h.8M187.8 537.1h.8M188.0 533.8h.8M191.3 541.2h.8M188.6 536.4h.8M193.4 525.1h.8M182.9 535.1h.8M184.2 526.4h.8M189.0 537.0h.8M188.0 529.2h.8M184.7 529.3h.8M186.1 534.8h.8M191.4 533.2h.8M184.9 538.3h.8M191.8 538.1h.8M187.5 532.1h.8M188.3 526.9h.8M191.4 533.0h.8M193.3 545.4h.8M185.3 555.5h.8M187.7 528.9h.8M183.3 534.9h.8M189.9 532.5h.8M187.8 539.0h.8M186.2 534.7h.8M186.7 547.2h.8M190.5 534.7h.8M185.6 533.9h.8M186.4 532.2h.8M189.0 541.8h.8M191.8 530.9h.8M189.1 535.1h.8M189.4 552.8h.8M190.8 542.7h.8M188.9 539.5h.8M182.5 537.5h.8M188.1 534.9h.8M188.4 560.3h.8M190.1 525.9h.8M186.8 541.8h.8M190.4 537.0h.8M190.6 529.2h.8M194.3 519.5h.8M188.0 529.3h.8M187.0 537.0h.8M188.2 543.0h.8M193.7 539.9h.8M185.8 535.2h.8M186.8 528.9h.8M186.7 542.7h.8M186.0 537.7h.8M185.7 542.1h.8M192.8 524.4h.8M191.2 528.8h.8M189.5 534.8h.8M191.8 525.7h.8M193.8 538.6h.8M185.8 545.2h.8M192.1 539.9h.8M187.6 529.0h.8M184.8 547.8h.8M188.7 535.2h.8M186.6 544.9h.8M186.9 542.1h.8M183.9 528.8h.8M190.1 528.0h.8M195.5 519.8h.8M189.3 539.7h.8M189.8 535.0h.8M185.8 563.2h.8M189.7 530.6h.8M179.4 549.4h.8M187.2 549.6h.8M187.7 544.1h.8M192.8 531.3h.8M181.0 544.2h.8M195.1 524.1h.8M187.1 534.7h.8M187.3 540.1h.8M187.8 540.1h.8M187.2 522.8h.8M193.6 537.9h.8M190.4 526.4h.8M189.9 535.2h.8M189.8 536.5h.8M190.6 546.7h.8M187.7 532.4h.8M191.6 524.2h.8M186.7 532.4h.8M181.1 550.0h.8M187.9 533.7h.8M184.7 539.4h.8M188.0 526.0h.8M188.4 547.6h.8M184.2 534.9h.8M194.9 534.5h.8M185.4 547.9h.8M188.5 542.8h.8M192.8 541.0h.8M188.1 550.7h.8M185.0 526.1h.8M188.3 530.6h.8M189.3 520.6h.8M183.3 540.7h.8M187.7 538.7h.8M187.4 535.2h.8M182.9 549.0h.8M192.4 525.2h.8M187.0 538.2h.8M187.3 535.0h.8M190.4 521.0h.8M190.3 539.4h.8M185.8 533.8h.8M188.4 533.4h.8M189.7 523.5h.8M188.4 538.8h.8M189.3 539.1h.8M186.8 536.4h.8M191.2 536.3h.8M189.1 536.0h.8M190.9 525.5h.8M187.8 542.2h.8M185.5 539.7h.8M187.5 532.0h.8M185.9 528.0h.8M192.9 524.3h.8M189.9 524.8h.8M193.8 541.6h.8M187.0 526.3h.8M187.5 538.1h.8M192.3 547.4h.8M185.5 537.1h.8M191.7 530.1h.8M186.5 542.7h.8M184.5 535.4h.8M188.5 533.2h.8M189.7 522.6h.8M191.2 532.1h.8M192.8 551.7h.8M185.8 550.7h.8M193.1 529.5h.8M186.9 545.0h.8M186.6 532.6h.8M182.2 523.7h.8M185.6 529.6h.8M183.8 551.5h.8M186.8 547.9h.8M181.9 551.4h.8M187.8 549.7h.8M190.1 547.4h.8M188.5 551.6h.8M190.0 559.5h.8M182.5 539.5h.8M189.1 551.8h.8M187.0 547.4h.8M183.8 557.0h.8M187.4 546.9h.8M186.1 551.7h.8M182.1 546.3h.8M187.5 550.8h.8M181.9 551.8h.8M191.9 553.6h.8M182.1 547.3h.8M184.1 545.5h.8M183.5 546.6h.8M185.7 542.8h.8M188.8 551.9h.8M191.8 554.9h.8M188.9 553.0h.8M185.7 543.8h.8M188.0 550.6h.8M184.1 552.4h.8M187.0 546.3h.8M190.3 547.2h.8M186.4 556.2h.8M184.4 548.2h.8M187.4 548.1h.8M184.5 543.5h.8M186.7 547.8h.8M188.5 555.9h.8M185.9 554.5h.8M183.9 559.3h.8M184.4 549.3h.8M184.9 547.2h.8M188.4 550.0h.8M183.4 554.5h.8M186.1 553.4h.8M186.6 547.4h.8M180.6 548.3h.8M183.4 557.1h.8M185.4 558.6h.8M192.9 556.8h.8M193.1 544.7h.8M184.5 544.1h.8M182.0 542.6h.8M188.7 545.5h.8M185.0 553.4h.8M184.8 559.0h.8M189.6 554.2h.8M191.0 553.2h.8M186.6 556.4h.8M189.1 542.3h.8M189.3 556.0h.8M179.3 561.9h.8M186.5 558.2h.8M182.5 551.3h.8M184.0 545.3h.8M186.8 541.8h.8M185.9 554.1h.8M183.8 543.8h.8M187.7 555.4h.8M188.7 547.0h.8M184.8 558.0h.8M188.6 552.0h.8M186.7 549.2h.8M187.8 554.2h.8M186.2 551.7h.8M181.9 549.3h.8M190.7 551.4h.8M182.0 547.5h.8M186.3 558.5h.8M192.4 549.9h.8M185.6 550.9h.8M182.7 557.8h.8M182.5 554.4h.8M184.7 544.2h.8M187.0 559.8h.8M182.4 551.4h.8M184.0 556.3h.8M181.6 542.8h.8M184.9 542.7h.8M188.9 541.6h.8M186.2 547.3h.8M189.0 547.1h.8M185.4 559.9h.8M187.9 557.4h.8M190.2 553.0h.8M186.9 540.5h.8M180.9 547.8h.8M186.9 556.6h.8M183.7 548.3h.8M192.2 543.8h.8M185.5 549.6h.8M183.9 558.8h.8M181.3 548.5h.8M181.0 546.1h.8M190.6 538.6h.8M181.0 550.2h.8M187.1 546.0h.8M187.3 549.0h.8M184.9 550.7h.8M189.7 543.4h.8M188.6 551.8h.8M185.4 546.0h.8M187.0 554.8h.8M165.7 570.0h.8M174.0 567.6h.8M174.0 561.3h.8M175.1 566.0h.8M160.0 567.6h.8M152.2 571.7h.8M168.1 564.7h.8M182.2 565.1h.8M185.9 563.9h.8M168.7 559.5h.8M192.4 551.6h.8M169.9 566.5h.8M165.5 566.5h.8M172.8 559.6h.8M163.5 566.5h.8M173.7 556.5h.8M173.4 563.3h.8M165.5 568.1h.8M162.4 572.2h.8M168.1 570.8h.8M173.0 563.2h.8M162.4 571.3h.8M167.2 578.5h.8M176.1 562.9h.8M173.7 566.8h.8M176.7 563.9h.8M179.1 559.7h.8M182.6 550.0h.8M159.4 571.3h.8M168.9 555.0h.8M160.6 562.9h.8M184.0 562.8h.8M155.5 560.9h.8M170.8 556.1h.8M165.8 561.9h.8M173.6 566.1h.8M165.2 562.5h.8M177.5 571.1h.8M174.8 559.9h.8M179.7 559.6h.8M161.9 570.9h.8M183.6 552.1h.8M176.1 554.2h.8M171.1 562.8h.8M168.9 563.6h.8M176.8 558.3h.8M169.6 562.2h.8M173.1 558.8h.8M179.3 562.4h.8M164.6 558.0h.8M171.8 569.4h.8M177.4 561.2h.8M192.1 565.3h.8M179.2 569.1h.8M169.3 561.9h.8M170.3 552.2h.8M171.4 560.3h.8M184.5 562.1h.8M184.3 555.9h.8M184.8 559.4h.8M177.3 563.7h.8M163.3 571.9h.8M169.6 568.0h.8M169.8 557.9h.8M170.1 565.6h.8M173.0 573.2h.8M182.4 559.9h.8M171.9 572.0h.8M174.7 569.3h.8M156.8 556.5h.8M180.3 565.7h.8M170.4 562.7h.8M177.0 564.5h.8M171.5 563.4h.8M176.2 568.2h.8M173.0 546.9h.8M174.5 560.4h.8M182.6 563.7h.8M167.5 564.2h.8M152.3 569.5h.8M163.2 567.1h.8M168.5 572.0h.8M182.2 557.2h.8M167.2 572.8h.8M160.1 565.3h.8M169.4 565.6h.8M170.7 558.0h.8M180.2 562.5h.8M178.0 570.7h.8M188.4 558.7h.8M168.1 562.8h.8M169.0 557.6h.8M165.2 562.4h.8M178.0 565.5h.8M148.3 561.9h.8M164.8 559.1h.8M168.4 553.6h.8M170.5 564.9h.8M174.5 559.5h.8M177.1 565.9h.8" stroke="#111" stroke-opacity="0.36" stroke-width="1.0" fill="none" filter="url(#bl)"/><path d="M176.3 507V589.5M130.5 551.5H212.5" stroke="#5c5c5c" stroke-width="1" fill="none"/><path d="M142.8 589.5v1.5M130.5 577.1h-1.5M144.8 589.5v1.5M130.5 575.1h-1.5M146.5 589.5v1.5M130.5 573.5h-1.5M147.8 589.5v1.5M130.5 572.1h-1.5M149.0 589.5v1.5M130.5 570.9h-1.5M150.1 589.5v1.5M130.5 569.8h-1.5M151.0 589.5v2.4M130.5 568.9h-2.4M157.2 589.5v1.5M130.5 562.7h-1.5M160.8 589.5v1.5M130.5 559.0h-1.5M163.3 589.5v1.5M130.5 556.5h-1.5M165.3 589.5v1.5M130.5 554.5h-1.5M167.0 589.5v1.5M130.5 552.8h-1.5M168.3 589.5v1.5M130.5 551.4h-1.5M169.5 589.5v1.5M130.5 550.2h-1.5M170.6 589.5v1.5M130.5 549.2h-1.5M171.5 589.5v2.4M130.5 548.2h-2.4M177.7 589.5v1.5M130.5 542.0h-1.5M181.3 589.5v1.5M130.5 538.4h-1.5M183.8 589.5v1.5M130.5 535.8h-1.5M185.8 589.5v1.5M130.5 533.8h-1.5M187.5 589.5v1.5M130.5 532.2h-1.5M188.8 589.5v1.5M130.5 530.8h-1.5M190.0 589.5v1.5M130.5 529.6h-1.5M191.1 589.5v1.5M130.5 528.6h-1.5M192.0 589.5v2.4M130.5 527.6h-2.4M198.2 589.5v1.5M130.5 521.4h-1.5M201.8 589.5v1.5M130.5 517.8h-1.5M204.3 589.5v1.5M130.5 515.2h-1.5M206.3 589.5v1.5M130.5 513.2h-1.5M208.0 589.5v1.5M130.5 511.6h-1.5M209.3 589.5v1.5M130.5 510.2h-1.5M210.5 589.5v1.5M130.5 509.0h-1.5M211.6 589.5v1.5M130.5 507.9h-1.5" stroke="#111" stroke-width="0.6" fill="none" stroke-opacity="0.85"/><rect x="130.5" y="507" width="82.0" height="82.5" fill="none" stroke="#111" stroke-width="1.15"/><text x="132.7" y="515.4" font-size="7.8" fill="#111">0.3</text><text x="211.3" y="515.4" font-size="7.8" text-anchor="end" fill="#111">17</text><text x="132.7" y="588.4" font-size="7.8" fill="#111">26.6</text><text x="211.3" y="588.4" font-size="7.8" text-anchor="end" fill="#111">56.1</text><text x="175.5" y="503.2" font-size="12.2" text-anchor="middle" font-style="italic" fill="#111">hd/hd</text><line x1="31.8" y1="589" x2="31.8" y2="511.6" stroke="#111" stroke-width="1.1"/><path d="M31.8 507.6L29.45 513.9L34.15 513.9Z" fill="#111"/><text transform="translate(27.4 577.8) rotate(-90)" font-size="10.5" text-anchor="middle" fill="#111">IL-17</text><line x1="38" y1="596.3" x2="207.5" y2="596.3" stroke="#111" stroke-width="1.1"/><path d="M211.5 596.3L205.2 593.9499999999999L205.2 598.65Z" fill="#111"/><text x="39.8" y="607.8" font-size="10.2" fill="#111">RORγT</text>
</svg>
</body></html>
